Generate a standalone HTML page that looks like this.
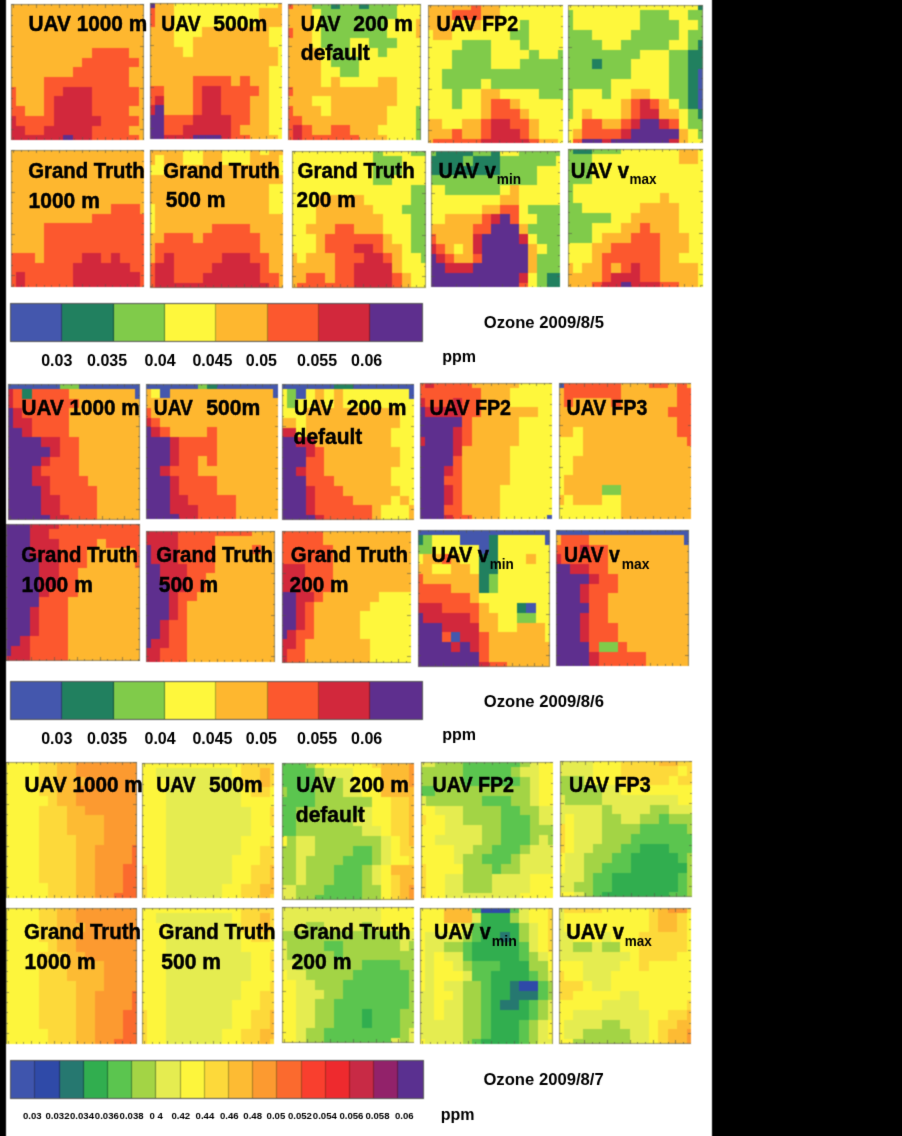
<!DOCTYPE html>
<html><head><meta charset="utf-8"><style>
html,body{margin:0;padding:0;}
body{width:902px;height:1136px;position:relative;overflow:hidden;background:#fff;font-family:"Liberation Sans",sans-serif;}
.p{position:absolute;display:block;}
.cb{position:absolute;display:flex;box-sizing:border-box;border:0.8px solid #555;}
.cb>div{height:100%;box-sizing:border-box;border-right:0.6px solid rgba(0,0,0,0.35);}
.cb>div:last-child{border-right:none;}
#lb{position:absolute;left:0;top:0;width:5.8px;height:1136px;background:#000;}
#rb{position:absolute;left:712px;top:0;width:190px;height:1136px;background:#000;}
#tx{position:absolute;left:0;top:0;}
#twrap{position:absolute;left:0;top:0;width:902px;height:1136px;filter:url(#tf);}
#wrap{position:absolute;left:0;top:0;width:902px;height:1136px;background:#fff;filter:url(#bf);}
#tx text{font-family:"Liberation Sans",sans-serif;fill:#000;}
#tx text.big{stroke:#000;stroke-width:0.5px;}
</style></head><body>
<svg width="0" height="0" style="position:absolute"><filter id="bf" x="0" y="0" width="100%" height="100%" color-interpolation-filters="sRGB"><feConvolveMatrix order="3" kernelMatrix="1 2 1 2 8 2 1 2 1" divisor="20" edgeMode="duplicate" preserveAlpha="true"/></filter><filter id="tf" x="0" y="0" width="100%" height="100%"><feConvolveMatrix order="3" kernelMatrix="0 1 0 1 8 1 0 1 0" divisor="12" edgeMode="none"/></filter></svg>
<div id="wrap">
<div id="lb"></div><div id="rb"></div>
<svg class="p" style="left:11.10px;top:3.70px" width="132.70" height="136.30" viewBox="0 0 14 14" preserveAspectRatio="none" shape-rendering="crispEdges"><rect x="-0.5" y="-0.5" width="15" height="1" fill="#feb72f"/><rect x="-0.5" y="0.5" width="15" height="1" fill="#feb72f"/><rect x="-0.5" y="1.5" width="15" height="1" fill="#feb72f"/><rect x="-0.5" y="2.5" width="15" height="1" fill="#feb72f"/><rect x="-0.5" y="3.5" width="15" height="1" fill="#feb72f"/><rect x="-0.5" y="4.5" width="9" height="1" fill="#feb72f"/><rect x="8.5" y="4.5" width="4" height="1" fill="#fc582e"/><rect x="12.5" y="4.5" width="2" height="1" fill="#feb72f"/><rect x="-0.5" y="5.5" width="8" height="1" fill="#feb72f"/><rect x="7.5" y="5.5" width="6" height="1" fill="#fc582e"/><rect x="13.5" y="5.5" width="1" height="1" fill="#feb72f"/><rect x="-0.5" y="6.5" width="7" height="1" fill="#feb72f"/><rect x="6.5" y="6.5" width="6" height="1" fill="#fc582e"/><rect x="12.5" y="6.5" width="2" height="1" fill="#feb72f"/><rect x="-0.5" y="7.5" width="4" height="1" fill="#feb72f"/><rect x="3.5" y="7.5" width="9" height="1" fill="#fc582e"/><rect x="12.5" y="7.5" width="2" height="1" fill="#feb72f"/><rect x="-0.5" y="8.5" width="1" height="1" fill="#fc582e"/><rect x="0.5" y="8.5" width="3" height="1" fill="#feb72f"/><rect x="3.5" y="8.5" width="2" height="1" fill="#fc582e"/><rect x="5.5" y="8.5" width="3" height="1" fill="#d2283c"/><rect x="8.5" y="8.5" width="5" height="1" fill="#fc582e"/><rect x="13.5" y="8.5" width="1" height="1" fill="#feb72f"/><rect x="-0.5" y="9.5" width="1" height="1" fill="#fc582e"/><rect x="0.5" y="9.5" width="3" height="1" fill="#feb72f"/><rect x="3.5" y="9.5" width="1" height="1" fill="#fc582e"/><rect x="4.5" y="9.5" width="4" height="1" fill="#d2283c"/><rect x="8.5" y="9.5" width="5" height="1" fill="#fc582e"/><rect x="13.5" y="9.5" width="1" height="1" fill="#feb72f"/><rect x="-0.5" y="10.5" width="2" height="1" fill="#fc582e"/><rect x="1.5" y="10.5" width="2" height="1" fill="#feb72f"/><rect x="3.5" y="10.5" width="1" height="1" fill="#fc582e"/><rect x="4.5" y="10.5" width="4" height="1" fill="#d2283c"/><rect x="8.5" y="10.5" width="4" height="1" fill="#fc582e"/><rect x="12.5" y="10.5" width="2" height="1" fill="#feb72f"/><rect x="-0.5" y="11.5" width="1" height="1" fill="#d2283c"/><rect x="0.5" y="11.5" width="4" height="1" fill="#fc582e"/><rect x="4.5" y="11.5" width="5" height="1" fill="#d2283c"/><rect x="9.5" y="11.5" width="4" height="1" fill="#fc582e"/><rect x="13.5" y="11.5" width="1" height="1" fill="#feb72f"/><rect x="-0.5" y="12.5" width="2" height="1" fill="#d2283c"/><rect x="1.5" y="12.5" width="2" height="1" fill="#fc582e"/><rect x="3.5" y="12.5" width="5" height="1" fill="#d2283c"/><rect x="8.5" y="12.5" width="4" height="1" fill="#fc582e"/><rect x="12.5" y="12.5" width="2" height="1" fill="#feb72f"/><rect x="-0.5" y="13.5" width="6" height="1" fill="#d2283c"/><rect x="5.5" y="13.5" width="1" height="1" fill="#5e2f8e"/><rect x="6.5" y="13.5" width="2" height="1" fill="#d2283c"/><rect x="8.5" y="13.5" width="5" height="1" fill="#fc582e"/><rect x="13.5" y="13.5" width="1" height="1" fill="#feb72f"/><rect x="0" y="0" width="14" height="14" fill="none" stroke="#707060" stroke-width="0.7" vector-effect="non-scaling-stroke"/><path d="M0.280 0V0.360M0.280 14V13.640M1.083 0V0.205M1.083 14V13.795M1.887 0V0.205M1.887 14V13.795M2.690 0V0.360M2.690 14V13.640M3.494 0V0.205M3.494 14V13.795M4.298 0V0.205M4.298 14V13.795M5.101 0V0.360M5.101 14V13.640M5.905 0V0.205M5.905 14V13.795M6.708 0V0.205M6.708 14V13.795M7.512 0V0.360M7.512 14V13.640M8.316 0V0.205M8.316 14V13.795M9.119 0V0.205M9.119 14V13.795M9.923 0V0.360M9.923 14V13.640M10.726 0V0.205M10.726 14V13.795M11.530 0V0.205M11.530 14V13.795M12.334 0V0.360M12.334 14V13.640M13.137 0V0.205M13.137 14V13.795M13.941 0V0.205M13.941 14V13.795M0 0.092H0.369M14 0.092H13.631M0 1.161H0.211M14 1.161H13.789M0 2.229H0.211M14 2.229H13.789M0 3.297H0.211M14 3.297H13.789M0 4.365H0.369M14 4.365H13.631M0 5.434H0.211M14 5.434H13.789M0 6.502H0.211M14 6.502H13.789M0 7.570H0.211M14 7.570H13.789M0 8.638H0.369M14 8.638H13.631M0 9.707H0.211M14 9.707H13.789M0 10.775H0.211M14 10.775H13.789M0 11.843H0.211M14 11.843H13.789M0 12.911H0.369M14 12.911H13.631" stroke="#555548" stroke-width="0.6" fill="none" vector-effect="non-scaling-stroke"/></svg><svg class="p" style="left:149.60px;top:2.50px" width="132.90" height="136.40" viewBox="0 0 14 14" preserveAspectRatio="none" shape-rendering="crispEdges"><rect x="-0.5" y="-0.5" width="1" height="1" fill="#5e2f8e"/><rect x="0.5" y="-0.5" width="2" height="1" fill="#feb72f"/><rect x="2.5" y="-0.5" width="11" height="1" fill="#fef73c"/><rect x="13.5" y="-0.5" width="1" height="1" fill="#feb72f"/><rect x="-0.5" y="0.5" width="1" height="1" fill="#fc582e"/><rect x="0.5" y="0.5" width="2" height="1" fill="#feb72f"/><rect x="2.5" y="0.5" width="9" height="1" fill="#fef73c"/><rect x="11.5" y="0.5" width="3" height="1" fill="#feb72f"/><rect x="-0.5" y="1.5" width="1" height="1" fill="#fc582e"/><rect x="0.5" y="1.5" width="2" height="1" fill="#feb72f"/><rect x="2.5" y="1.5" width="9" height="1" fill="#fef73c"/><rect x="11.5" y="1.5" width="3" height="1" fill="#feb72f"/><rect x="-0.5" y="2.5" width="3" height="1" fill="#feb72f"/><rect x="2.5" y="2.5" width="3" height="1" fill="#fef73c"/><rect x="5.5" y="2.5" width="7" height="1" fill="#feb72f"/><rect x="12.5" y="2.5" width="2" height="1" fill="#fef73c"/><rect x="-0.5" y="3.5" width="3" height="1" fill="#feb72f"/><rect x="2.5" y="3.5" width="2" height="1" fill="#fef73c"/><rect x="4.5" y="3.5" width="8" height="1" fill="#feb72f"/><rect x="12.5" y="3.5" width="2" height="1" fill="#fef73c"/><rect x="-0.5" y="4.5" width="4" height="1" fill="#feb72f"/><rect x="3.5" y="4.5" width="1" height="1" fill="#fef73c"/><rect x="4.5" y="4.5" width="9" height="1" fill="#feb72f"/><rect x="13.5" y="4.5" width="1" height="1" fill="#fef73c"/><rect x="-0.5" y="5.5" width="14" height="1" fill="#feb72f"/><rect x="13.5" y="5.5" width="1" height="1" fill="#fef73c"/><rect x="-0.5" y="6.5" width="13" height="1" fill="#feb72f"/><rect x="12.5" y="6.5" width="2" height="1" fill="#fef73c"/><rect x="-0.5" y="7.5" width="5" height="1" fill="#feb72f"/><rect x="4.5" y="7.5" width="4" height="1" fill="#fc582e"/><rect x="8.5" y="7.5" width="1" height="1" fill="#feb72f"/><rect x="9.5" y="7.5" width="1" height="1" fill="#fc582e"/><rect x="10.5" y="7.5" width="2" height="1" fill="#feb72f"/><rect x="12.5" y="7.5" width="2" height="1" fill="#fef73c"/><rect x="-0.5" y="8.5" width="2" height="1" fill="#fc582e"/><rect x="1.5" y="8.5" width="3" height="1" fill="#feb72f"/><rect x="4.5" y="8.5" width="1" height="1" fill="#fc582e"/><rect x="5.5" y="8.5" width="2" height="1" fill="#d2283c"/><rect x="7.5" y="8.5" width="4" height="1" fill="#fc582e"/><rect x="11.5" y="8.5" width="1" height="1" fill="#feb72f"/><rect x="12.5" y="8.5" width="2" height="1" fill="#fef73c"/><rect x="-0.5" y="9.5" width="1" height="1" fill="#fc582e"/><rect x="0.5" y="9.5" width="1" height="1" fill="#d2283c"/><rect x="1.5" y="9.5" width="3" height="1" fill="#feb72f"/><rect x="4.5" y="9.5" width="1" height="1" fill="#fc582e"/><rect x="5.5" y="9.5" width="2" height="1" fill="#d2283c"/><rect x="7.5" y="9.5" width="3" height="1" fill="#fc582e"/><rect x="10.5" y="9.5" width="2" height="1" fill="#feb72f"/><rect x="12.5" y="9.5" width="2" height="1" fill="#fef73c"/><rect x="-0.5" y="10.5" width="1" height="1" fill="#d2283c"/><rect x="0.5" y="10.5" width="1" height="1" fill="#5e2f8e"/><rect x="1.5" y="10.5" width="3" height="1" fill="#feb72f"/><rect x="4.5" y="10.5" width="1" height="1" fill="#fc582e"/><rect x="5.5" y="10.5" width="2" height="1" fill="#d2283c"/><rect x="7.5" y="10.5" width="3" height="1" fill="#fc582e"/><rect x="10.5" y="10.5" width="2" height="1" fill="#feb72f"/><rect x="12.5" y="10.5" width="2" height="1" fill="#fef73c"/><rect x="-0.5" y="11.5" width="2" height="1" fill="#5e2f8e"/><rect x="1.5" y="11.5" width="3" height="1" fill="#fc582e"/><rect x="4.5" y="11.5" width="4" height="1" fill="#d2283c"/><rect x="8.5" y="11.5" width="2" height="1" fill="#fc582e"/><rect x="10.5" y="11.5" width="2" height="1" fill="#feb72f"/><rect x="12.5" y="11.5" width="2" height="1" fill="#fef73c"/><rect x="-0.5" y="12.5" width="2" height="1" fill="#5e2f8e"/><rect x="1.5" y="12.5" width="2" height="1" fill="#fc582e"/><rect x="3.5" y="12.5" width="5" height="1" fill="#d2283c"/><rect x="8.5" y="12.5" width="1" height="1" fill="#fc582e"/><rect x="9.5" y="12.5" width="3" height="1" fill="#feb72f"/><rect x="12.5" y="12.5" width="2" height="1" fill="#fef73c"/><rect x="-0.5" y="13.5" width="2" height="1" fill="#5e2f8e"/><rect x="1.5" y="13.5" width="3" height="1" fill="#d2283c"/><rect x="4.5" y="13.5" width="3" height="1" fill="#5e2f8e"/><rect x="7.5" y="13.5" width="1" height="1" fill="#d2283c"/><rect x="8.5" y="13.5" width="2" height="1" fill="#fc582e"/><rect x="10.5" y="13.5" width="3" height="1" fill="#feb72f"/><rect x="13.5" y="13.5" width="1" height="1" fill="#fef73c"/><rect x="0" y="0" width="14" height="14" fill="none" stroke="#707060" stroke-width="0.7" vector-effect="non-scaling-stroke"/><path d="M0.279 0V0.359M0.279 14V13.641M1.082 0V0.205M1.082 14V13.795M1.884 0V0.205M1.884 14V13.795M2.686 0V0.359M2.686 14V13.641M3.489 0V0.205M3.489 14V13.795M4.291 0V0.205M4.291 14V13.795M5.094 0V0.359M5.094 14V13.641M5.896 0V0.205M5.896 14V13.795M6.698 0V0.205M6.698 14V13.795M7.501 0V0.359M7.501 14V13.641M8.303 0V0.205M8.303 14V13.795M9.105 0V0.205M9.105 14V13.795M9.908 0V0.359M9.908 14V13.641M10.710 0V0.205M10.710 14V13.795M11.513 0V0.205M11.513 14V13.795M12.315 0V0.359M12.315 14V13.641M13.117 0V0.205M13.117 14V13.795M13.920 0V0.205M13.920 14V13.795M0 0.092H0.369M14 0.092H13.631M0 1.160H0.211M14 1.160H13.789M0 2.227H0.211M14 2.227H13.789M0 3.295H0.211M14 3.295H13.789M0 4.362H0.369M14 4.362H13.631M0 5.430H0.211M14 5.430H13.789M0 6.497H0.211M14 6.497H13.789M0 7.565H0.211M14 7.565H13.789M0 8.632H0.369M14 8.632H13.631M0 9.699H0.211M14 9.699H13.789M0 10.767H0.211M14 10.767H13.789M0 11.834H0.211M14 11.834H13.789M0 12.902H0.369M14 12.902H13.631" stroke="#555548" stroke-width="0.6" fill="none" vector-effect="non-scaling-stroke"/></svg><svg class="p" style="left:288.30px;top:3.70px" width="132.60" height="136.00" viewBox="0 0 14 14" preserveAspectRatio="none" shape-rendering="crispEdges"><rect x="-0.5" y="-0.5" width="1" height="1" fill="#fc582e"/><rect x="0.5" y="-0.5" width="2" height="1" fill="#feb72f"/><rect x="2.5" y="-0.5" width="2" height="1" fill="#80cb4a"/><rect x="4.5" y="-0.5" width="1" height="1" fill="#21805f"/><rect x="5.5" y="-0.5" width="2" height="1" fill="#80cb4a"/><rect x="7.5" y="-0.5" width="1" height="1" fill="#21805f"/><rect x="8.5" y="-0.5" width="3" height="1" fill="#80cb4a"/><rect x="11.5" y="-0.5" width="3" height="1" fill="#fef73c"/><rect x="-0.5" y="0.5" width="3" height="1" fill="#feb72f"/><rect x="2.5" y="0.5" width="1" height="1" fill="#fef73c"/><rect x="3.5" y="0.5" width="8" height="1" fill="#80cb4a"/><rect x="11.5" y="0.5" width="3" height="1" fill="#fef73c"/><rect x="-0.5" y="1.5" width="3" height="1" fill="#feb72f"/><rect x="2.5" y="1.5" width="1" height="1" fill="#fef73c"/><rect x="3.5" y="1.5" width="7" height="1" fill="#80cb4a"/><rect x="10.5" y="1.5" width="3" height="1" fill="#fef73c"/><rect x="13.5" y="1.5" width="1" height="1" fill="#feb72f"/><rect x="-0.5" y="2.5" width="1" height="1" fill="#fc582e"/><rect x="0.5" y="2.5" width="2" height="1" fill="#feb72f"/><rect x="2.5" y="2.5" width="1" height="1" fill="#fef73c"/><rect x="3.5" y="2.5" width="7" height="1" fill="#80cb4a"/><rect x="10.5" y="2.5" width="3" height="1" fill="#fef73c"/><rect x="13.5" y="2.5" width="1" height="1" fill="#feb72f"/><rect x="-0.5" y="3.5" width="3" height="1" fill="#feb72f"/><rect x="2.5" y="3.5" width="1" height="1" fill="#fef73c"/><rect x="3.5" y="3.5" width="3" height="1" fill="#80cb4a"/><rect x="6.5" y="3.5" width="2" height="1" fill="#fef73c"/><rect x="8.5" y="3.5" width="3" height="1" fill="#80cb4a"/><rect x="11.5" y="3.5" width="3" height="1" fill="#fef73c"/><rect x="-0.5" y="4.5" width="4" height="1" fill="#feb72f"/><rect x="3.5" y="4.5" width="1" height="1" fill="#fef73c"/><rect x="4.5" y="4.5" width="2" height="1" fill="#80cb4a"/><rect x="6.5" y="4.5" width="3" height="1" fill="#fef73c"/><rect x="9.5" y="4.5" width="1" height="1" fill="#80cb4a"/><rect x="10.5" y="4.5" width="4" height="1" fill="#fef73c"/><rect x="-0.5" y="5.5" width="4" height="1" fill="#feb72f"/><rect x="3.5" y="5.5" width="1" height="1" fill="#fef73c"/><rect x="4.5" y="5.5" width="3" height="1" fill="#80cb4a"/><rect x="7.5" y="5.5" width="7" height="1" fill="#fef73c"/><rect x="-0.5" y="6.5" width="4" height="1" fill="#feb72f"/><rect x="3.5" y="6.5" width="2" height="1" fill="#fef73c"/><rect x="5.5" y="6.5" width="2" height="1" fill="#80cb4a"/><rect x="7.5" y="6.5" width="7" height="1" fill="#fef73c"/><rect x="-0.5" y="7.5" width="4" height="1" fill="#feb72f"/><rect x="3.5" y="7.5" width="1" height="1" fill="#fef73c"/><rect x="4.5" y="7.5" width="1" height="1" fill="#feb72f"/><rect x="5.5" y="7.5" width="4" height="1" fill="#fef73c"/><rect x="9.5" y="7.5" width="2" height="1" fill="#feb72f"/><rect x="11.5" y="7.5" width="3" height="1" fill="#fef73c"/><rect x="-0.5" y="8.5" width="1" height="1" fill="#fc582e"/><rect x="0.5" y="8.5" width="11" height="1" fill="#feb72f"/><rect x="11.5" y="8.5" width="3" height="1" fill="#fef73c"/><rect x="-0.5" y="9.5" width="3" height="1" fill="#feb72f"/><rect x="2.5" y="9.5" width="2" height="1" fill="#fef73c"/><rect x="4.5" y="9.5" width="7" height="1" fill="#feb72f"/><rect x="11.5" y="9.5" width="3" height="1" fill="#fef73c"/><rect x="-0.5" y="10.5" width="1" height="1" fill="#fc582e"/><rect x="0.5" y="10.5" width="3" height="1" fill="#feb72f"/><rect x="3.5" y="10.5" width="1" height="1" fill="#fef73c"/><rect x="4.5" y="10.5" width="6" height="1" fill="#feb72f"/><rect x="10.5" y="10.5" width="3" height="1" fill="#fef73c"/><rect x="13.5" y="10.5" width="1" height="1" fill="#80cb4a"/><rect x="-0.5" y="11.5" width="2" height="1" fill="#fc582e"/><rect x="1.5" y="11.5" width="9" height="1" fill="#feb72f"/><rect x="10.5" y="11.5" width="3" height="1" fill="#fef73c"/><rect x="13.5" y="11.5" width="1" height="1" fill="#80cb4a"/><rect x="-0.5" y="12.5" width="1" height="1" fill="#fc582e"/><rect x="0.5" y="12.5" width="1" height="1" fill="#d2283c"/><rect x="1.5" y="12.5" width="1" height="1" fill="#fc582e"/><rect x="2.5" y="12.5" width="2" height="1" fill="#feb72f"/><rect x="4.5" y="12.5" width="2" height="1" fill="#fc582e"/><rect x="6.5" y="12.5" width="3" height="1" fill="#feb72f"/><rect x="9.5" y="12.5" width="4" height="1" fill="#fef73c"/><rect x="13.5" y="12.5" width="1" height="1" fill="#80cb4a"/><rect x="-0.5" y="13.5" width="1" height="1" fill="#fc582e"/><rect x="0.5" y="13.5" width="1" height="1" fill="#d2283c"/><rect x="1.5" y="13.5" width="6" height="1" fill="#fc582e"/><rect x="7.5" y="13.5" width="3" height="1" fill="#feb72f"/><rect x="10.5" y="13.5" width="3" height="1" fill="#fef73c"/><rect x="13.5" y="13.5" width="1" height="1" fill="#80cb4a"/><rect x="0" y="0" width="14" height="14" fill="none" stroke="#707060" stroke-width="0.7" vector-effect="non-scaling-stroke"/><path d="M0.280 0V0.360M0.280 14V13.640M1.084 0V0.206M1.084 14V13.794M1.888 0V0.206M1.888 14V13.794M2.692 0V0.360M2.692 14V13.640M3.497 0V0.206M3.497 14V13.794M4.301 0V0.206M4.301 14V13.794M5.105 0V0.360M5.105 14V13.640M5.909 0V0.206M5.909 14V13.794M6.713 0V0.206M6.713 14V13.794M7.518 0V0.360M7.518 14V13.640M8.322 0V0.206M8.322 14V13.794M9.126 0V0.206M9.126 14V13.794M9.930 0V0.360M9.930 14V13.640M10.734 0V0.206M10.734 14V13.794M11.539 0V0.206M11.539 14V13.794M12.343 0V0.360M12.343 14V13.640M13.147 0V0.206M13.147 14V13.794M0 0.093H0.370M14 0.093H13.630M0 1.163H0.211M14 1.163H13.789M0 2.234H0.211M14 2.234H13.789M0 3.304H0.211M14 3.304H13.789M0 4.375H0.370M14 4.375H13.630M0 5.446H0.211M14 5.446H13.789M0 6.516H0.211M14 6.516H13.789M0 7.587H0.211M14 7.587H13.789M0 8.657H0.370M14 8.657H13.630M0 9.728H0.211M14 9.728H13.789M0 10.799H0.211M14 10.799H13.789M0 11.869H0.211M14 11.869H13.789M0 12.940H0.370M14 12.940H13.630" stroke="#555548" stroke-width="0.6" fill="none" vector-effect="non-scaling-stroke"/></svg><svg class="p" style="left:428.00px;top:4.70px" width="135.00" height="138.70" viewBox="0 0 14 14" preserveAspectRatio="none" shape-rendering="crispEdges"><rect x="-0.5" y="-0.5" width="5" height="1" fill="#feb72f"/><rect x="4.5" y="-0.5" width="1" height="1" fill="#fc582e"/><rect x="5.5" y="-0.5" width="2" height="1" fill="#feb72f"/><rect x="7.5" y="-0.5" width="7" height="1" fill="#fef73c"/><rect x="-0.5" y="0.5" width="3" height="1" fill="#feb72f"/><rect x="2.5" y="0.5" width="3" height="1" fill="#fc582e"/><rect x="5.5" y="0.5" width="2" height="1" fill="#feb72f"/><rect x="7.5" y="0.5" width="7" height="1" fill="#fef73c"/><rect x="-0.5" y="1.5" width="3" height="1" fill="#feb72f"/><rect x="2.5" y="1.5" width="2" height="1" fill="#fef73c"/><rect x="4.5" y="1.5" width="1" height="1" fill="#feb72f"/><rect x="5.5" y="1.5" width="4" height="1" fill="#fef73c"/><rect x="9.5" y="1.5" width="1" height="1" fill="#80cb4a"/><rect x="10.5" y="1.5" width="4" height="1" fill="#fef73c"/><rect x="-0.5" y="2.5" width="1" height="1" fill="#fef73c"/><rect x="0.5" y="2.5" width="2" height="1" fill="#feb72f"/><rect x="2.5" y="2.5" width="6" height="1" fill="#fef73c"/><rect x="8.5" y="2.5" width="2" height="1" fill="#80cb4a"/><rect x="10.5" y="2.5" width="4" height="1" fill="#fef73c"/><rect x="-0.5" y="3.5" width="4" height="1" fill="#fef73c"/><rect x="3.5" y="3.5" width="3" height="1" fill="#80cb4a"/><rect x="6.5" y="3.5" width="3" height="1" fill="#fef73c"/><rect x="9.5" y="3.5" width="1" height="1" fill="#80cb4a"/><rect x="10.5" y="3.5" width="4" height="1" fill="#fef73c"/><rect x="-0.5" y="4.5" width="3" height="1" fill="#fef73c"/><rect x="2.5" y="4.5" width="4" height="1" fill="#80cb4a"/><rect x="6.5" y="4.5" width="4" height="1" fill="#fef73c"/><rect x="10.5" y="4.5" width="1" height="1" fill="#80cb4a"/><rect x="11.5" y="4.5" width="2" height="1" fill="#fef73c"/><rect x="13.5" y="4.5" width="1" height="1" fill="#80cb4a"/><rect x="-0.5" y="5.5" width="3" height="1" fill="#fef73c"/><rect x="2.5" y="5.5" width="4" height="1" fill="#80cb4a"/><rect x="6.5" y="5.5" width="3" height="1" fill="#fef73c"/><rect x="9.5" y="5.5" width="5" height="1" fill="#80cb4a"/><rect x="-0.5" y="6.5" width="2" height="1" fill="#fef73c"/><rect x="1.5" y="6.5" width="13" height="1" fill="#80cb4a"/><rect x="-0.5" y="7.5" width="2" height="1" fill="#fef73c"/><rect x="1.5" y="7.5" width="4" height="1" fill="#80cb4a"/><rect x="5.5" y="7.5" width="1" height="1" fill="#fef73c"/><rect x="6.5" y="7.5" width="8" height="1" fill="#80cb4a"/><rect x="-0.5" y="8.5" width="3" height="1" fill="#fef73c"/><rect x="2.5" y="8.5" width="1" height="1" fill="#80cb4a"/><rect x="3.5" y="8.5" width="2" height="1" fill="#fef73c"/><rect x="5.5" y="8.5" width="2" height="1" fill="#feb72f"/><rect x="7.5" y="8.5" width="4" height="1" fill="#fef73c"/><rect x="11.5" y="8.5" width="3" height="1" fill="#80cb4a"/><rect x="-0.5" y="9.5" width="3" height="1" fill="#fef73c"/><rect x="2.5" y="9.5" width="1" height="1" fill="#80cb4a"/><rect x="3.5" y="9.5" width="2" height="1" fill="#fef73c"/><rect x="5.5" y="9.5" width="1" height="1" fill="#feb72f"/><rect x="6.5" y="9.5" width="2" height="1" fill="#fc582e"/><rect x="8.5" y="9.5" width="1" height="1" fill="#feb72f"/><rect x="9.5" y="9.5" width="5" height="1" fill="#fef73c"/><rect x="-0.5" y="10.5" width="6" height="1" fill="#fef73c"/><rect x="5.5" y="10.5" width="1" height="1" fill="#feb72f"/><rect x="6.5" y="10.5" width="3" height="1" fill="#fc582e"/><rect x="9.5" y="10.5" width="1" height="1" fill="#feb72f"/><rect x="10.5" y="10.5" width="4" height="1" fill="#fef73c"/><rect x="-0.5" y="11.5" width="2" height="1" fill="#feb72f"/><rect x="1.5" y="11.5" width="2" height="1" fill="#fef73c"/><rect x="3.5" y="11.5" width="2" height="1" fill="#feb72f"/><rect x="5.5" y="11.5" width="1" height="1" fill="#fc582e"/><rect x="6.5" y="11.5" width="2" height="1" fill="#d2283c"/><rect x="8.5" y="11.5" width="2" height="1" fill="#fc582e"/><rect x="10.5" y="11.5" width="1" height="1" fill="#feb72f"/><rect x="11.5" y="11.5" width="3" height="1" fill="#fef73c"/><rect x="-0.5" y="12.5" width="3" height="1" fill="#feb72f"/><rect x="2.5" y="12.5" width="1" height="1" fill="#fc582e"/><rect x="3.5" y="12.5" width="2" height="1" fill="#feb72f"/><rect x="5.5" y="12.5" width="1" height="1" fill="#fc582e"/><rect x="6.5" y="12.5" width="3" height="1" fill="#d2283c"/><rect x="9.5" y="12.5" width="1" height="1" fill="#fc582e"/><rect x="10.5" y="12.5" width="1" height="1" fill="#feb72f"/><rect x="11.5" y="12.5" width="3" height="1" fill="#fef73c"/><rect x="-0.5" y="13.5" width="1" height="1" fill="#feb72f"/><rect x="0.5" y="13.5" width="5" height="1" fill="#fc582e"/><rect x="5.5" y="13.5" width="5" height="1" fill="#d2283c"/><rect x="10.5" y="13.5" width="1" height="1" fill="#fc582e"/><rect x="11.5" y="13.5" width="2" height="1" fill="#feb72f"/><rect x="13.5" y="13.5" width="1" height="1" fill="#fef73c"/><rect x="0" y="0" width="14" height="14" fill="none" stroke="#707060" stroke-width="0.7" vector-effect="non-scaling-stroke"/><path d="M0.275 0V0.353M0.275 14V13.647M1.065 0V0.202M1.065 14V13.798M1.855 0V0.202M1.855 14V13.798M2.645 0V0.353M2.645 14V13.647M3.434 0V0.202M3.434 14V13.798M4.224 0V0.202M4.224 14V13.798M5.014 0V0.353M5.014 14V13.647M5.804 0V0.202M5.804 14V13.798M6.594 0V0.202M6.594 14V13.798M7.384 0V0.353M7.384 14V13.647M8.174 0V0.202M8.174 14V13.798M8.964 0V0.202M8.964 14V13.798M9.754 0V0.353M9.754 14V13.647M10.544 0V0.202M10.544 14V13.798M11.334 0V0.202M11.334 14V13.798M12.123 0V0.353M12.123 14V13.647M12.913 0V0.202M12.913 14V13.798M13.703 0V0.202M13.703 14V13.798M0 0.091H0.363M14 0.091H13.637M0 1.141H0.207M14 1.141H13.793M0 2.190H0.207M14 2.190H13.793M0 3.240H0.207M14 3.240H13.793M0 4.290H0.363M14 4.290H13.637M0 5.340H0.207M14 5.340H13.793M0 6.389H0.207M14 6.389H13.793M0 7.439H0.207M14 7.439H13.793M0 8.489H0.363M14 8.489H13.637M0 9.539H0.207M14 9.539H13.793M0 10.588H0.207M14 10.588H13.793M0 11.638H0.207M14 11.638H13.793M0 12.688H0.363M14 12.688H13.637M0 13.738H0.207M14 13.738H13.793" stroke="#555548" stroke-width="0.6" fill="none" vector-effect="non-scaling-stroke"/></svg><svg class="p" style="left:568.00px;top:4.70px" width="134.70" height="138.70" viewBox="0 0 14 14" preserveAspectRatio="none" shape-rendering="crispEdges"><rect x="-0.5" y="-0.5" width="14" height="1" fill="#fef73c"/><rect x="13.5" y="-0.5" width="1" height="1" fill="#21805f"/><rect x="-0.5" y="0.5" width="1" height="1" fill="#80cb4a"/><rect x="0.5" y="0.5" width="7" height="1" fill="#fef73c"/><rect x="7.5" y="0.5" width="3" height="1" fill="#80cb4a"/><rect x="10.5" y="0.5" width="2" height="1" fill="#fef73c"/><rect x="12.5" y="0.5" width="2" height="1" fill="#80cb4a"/><rect x="-0.5" y="1.5" width="1" height="1" fill="#80cb4a"/><rect x="0.5" y="1.5" width="7" height="1" fill="#fef73c"/><rect x="7.5" y="1.5" width="4" height="1" fill="#80cb4a"/><rect x="11.5" y="1.5" width="2" height="1" fill="#fef73c"/><rect x="13.5" y="1.5" width="1" height="1" fill="#80cb4a"/><rect x="-0.5" y="2.5" width="3" height="1" fill="#80cb4a"/><rect x="2.5" y="2.5" width="4" height="1" fill="#fef73c"/><rect x="6.5" y="2.5" width="5" height="1" fill="#80cb4a"/><rect x="11.5" y="2.5" width="1" height="1" fill="#fef73c"/><rect x="12.5" y="2.5" width="2" height="1" fill="#80cb4a"/><rect x="-0.5" y="3.5" width="4" height="1" fill="#80cb4a"/><rect x="3.5" y="3.5" width="2" height="1" fill="#fef73c"/><rect x="5.5" y="3.5" width="5" height="1" fill="#80cb4a"/><rect x="10.5" y="3.5" width="2" height="1" fill="#fef73c"/><rect x="12.5" y="3.5" width="1" height="1" fill="#80cb4a"/><rect x="13.5" y="3.5" width="1" height="1" fill="#21805f"/><rect x="-0.5" y="4.5" width="8" height="1" fill="#80cb4a"/><rect x="7.5" y="4.5" width="3" height="1" fill="#fef73c"/><rect x="10.5" y="4.5" width="2" height="1" fill="#80cb4a"/><rect x="12.5" y="4.5" width="2" height="1" fill="#21805f"/><rect x="-0.5" y="5.5" width="3" height="1" fill="#80cb4a"/><rect x="2.5" y="5.5" width="1" height="1" fill="#21805f"/><rect x="3.5" y="5.5" width="3" height="1" fill="#80cb4a"/><rect x="6.5" y="5.5" width="4" height="1" fill="#fef73c"/><rect x="10.5" y="5.5" width="2" height="1" fill="#80cb4a"/><rect x="12.5" y="5.5" width="2" height="1" fill="#21805f"/><rect x="-0.5" y="6.5" width="7" height="1" fill="#80cb4a"/><rect x="6.5" y="6.5" width="4" height="1" fill="#fef73c"/><rect x="10.5" y="6.5" width="2" height="1" fill="#80cb4a"/><rect x="12.5" y="6.5" width="1" height="1" fill="#21805f"/><rect x="13.5" y="6.5" width="1" height="1" fill="#4457ad"/><rect x="-0.5" y="7.5" width="5" height="1" fill="#80cb4a"/><rect x="4.5" y="7.5" width="6" height="1" fill="#fef73c"/><rect x="10.5" y="7.5" width="2" height="1" fill="#80cb4a"/><rect x="12.5" y="7.5" width="1" height="1" fill="#21805f"/><rect x="13.5" y="7.5" width="1" height="1" fill="#4457ad"/><rect x="-0.5" y="8.5" width="1" height="1" fill="#80cb4a"/><rect x="0.5" y="8.5" width="3" height="1" fill="#fef73c"/><rect x="3.5" y="8.5" width="1" height="1" fill="#80cb4a"/><rect x="4.5" y="8.5" width="2" height="1" fill="#fef73c"/><rect x="6.5" y="8.5" width="2" height="1" fill="#feb72f"/><rect x="8.5" y="8.5" width="2" height="1" fill="#fef73c"/><rect x="10.5" y="8.5" width="2" height="1" fill="#80cb4a"/><rect x="12.5" y="8.5" width="1" height="1" fill="#21805f"/><rect x="13.5" y="8.5" width="1" height="1" fill="#4457ad"/><rect x="-0.5" y="9.5" width="1" height="1" fill="#80cb4a"/><rect x="0.5" y="9.5" width="5" height="1" fill="#fef73c"/><rect x="5.5" y="9.5" width="1" height="1" fill="#feb72f"/><rect x="6.5" y="9.5" width="1" height="1" fill="#fc582e"/><rect x="7.5" y="9.5" width="1" height="1" fill="#d2283c"/><rect x="8.5" y="9.5" width="1" height="1" fill="#fc582e"/><rect x="9.5" y="9.5" width="1" height="1" fill="#feb72f"/><rect x="10.5" y="9.5" width="1" height="1" fill="#fef73c"/><rect x="11.5" y="9.5" width="1" height="1" fill="#80cb4a"/><rect x="12.5" y="9.5" width="1" height="1" fill="#21805f"/><rect x="13.5" y="9.5" width="1" height="1" fill="#4457ad"/><rect x="-0.5" y="10.5" width="1" height="1" fill="#80cb4a"/><rect x="0.5" y="10.5" width="1" height="1" fill="#fef73c"/><rect x="1.5" y="10.5" width="1" height="1" fill="#feb72f"/><rect x="2.5" y="10.5" width="3" height="1" fill="#fef73c"/><rect x="5.5" y="10.5" width="1" height="1" fill="#feb72f"/><rect x="6.5" y="10.5" width="1" height="1" fill="#fc582e"/><rect x="7.5" y="10.5" width="2" height="1" fill="#d2283c"/><rect x="9.5" y="10.5" width="2" height="1" fill="#feb72f"/><rect x="11.5" y="10.5" width="1" height="1" fill="#fef73c"/><rect x="12.5" y="10.5" width="1" height="1" fill="#80cb4a"/><rect x="13.5" y="10.5" width="1" height="1" fill="#21805f"/><rect x="-0.5" y="11.5" width="2" height="1" fill="#fef73c"/><rect x="1.5" y="11.5" width="2" height="1" fill="#fc582e"/><rect x="3.5" y="11.5" width="2" height="1" fill="#feb72f"/><rect x="5.5" y="11.5" width="1" height="1" fill="#fc582e"/><rect x="6.5" y="11.5" width="1" height="1" fill="#d2283c"/><rect x="7.5" y="11.5" width="2" height="1" fill="#5e2f8e"/><rect x="9.5" y="11.5" width="1" height="1" fill="#d2283c"/><rect x="10.5" y="11.5" width="1" height="1" fill="#fc582e"/><rect x="11.5" y="11.5" width="1" height="1" fill="#fef73c"/><rect x="12.5" y="11.5" width="2" height="1" fill="#80cb4a"/><rect x="-0.5" y="12.5" width="1" height="1" fill="#fef73c"/><rect x="0.5" y="12.5" width="1" height="1" fill="#feb72f"/><rect x="1.5" y="12.5" width="4" height="1" fill="#fc582e"/><rect x="5.5" y="12.5" width="1" height="1" fill="#d2283c"/><rect x="6.5" y="12.5" width="5" height="1" fill="#5e2f8e"/><rect x="11.5" y="12.5" width="1" height="1" fill="#feb72f"/><rect x="12.5" y="12.5" width="1" height="1" fill="#fef73c"/><rect x="13.5" y="12.5" width="1" height="1" fill="#80cb4a"/><rect x="-0.5" y="13.5" width="1" height="1" fill="#fef73c"/><rect x="0.5" y="13.5" width="1" height="1" fill="#fc582e"/><rect x="1.5" y="13.5" width="2" height="1" fill="#5e2f8e"/><rect x="3.5" y="13.5" width="1" height="1" fill="#d2283c"/><rect x="4.5" y="13.5" width="6" height="1" fill="#5e2f8e"/><rect x="10.5" y="13.5" width="1" height="1" fill="#d2283c"/><rect x="11.5" y="13.5" width="1" height="1" fill="#feb72f"/><rect x="12.5" y="13.5" width="2" height="1" fill="#fef73c"/><rect x="0" y="0" width="14" height="14" fill="none" stroke="#707060" stroke-width="0.7" vector-effect="non-scaling-stroke"/><path d="M0.275 0V0.353M0.275 14V13.647M1.067 0V0.202M1.067 14V13.798M1.859 0V0.202M1.859 14V13.798M2.650 0V0.353M2.650 14V13.647M3.442 0V0.202M3.442 14V13.798M4.234 0V0.202M4.234 14V13.798M5.025 0V0.353M5.025 14V13.647M5.817 0V0.202M5.817 14V13.798M6.609 0V0.202M6.609 14V13.798M7.400 0V0.353M7.400 14V13.647M8.192 0V0.202M8.192 14V13.798M8.984 0V0.202M8.984 14V13.798M9.775 0V0.353M9.775 14V13.647M10.567 0V0.202M10.567 14V13.798M11.359 0V0.202M11.359 14V13.798M12.150 0V0.353M12.150 14V13.647M12.942 0V0.202M12.942 14V13.798M13.734 0V0.202M13.734 14V13.798M0 0.091H0.364M14 0.091H13.636M0 1.141H0.208M14 1.141H13.792M0 2.190H0.208M14 2.190H13.792M0 3.240H0.208M14 3.240H13.792M0 4.290H0.364M14 4.290H13.636M0 5.340H0.208M14 5.340H13.792M0 6.389H0.208M14 6.389H13.792M0 7.439H0.208M14 7.439H13.792M0 8.489H0.364M14 8.489H13.636M0 9.539H0.208M14 9.539H13.792M0 10.588H0.208M14 10.588H13.792M0 11.638H0.208M14 11.638H13.792M0 12.688H0.364M14 12.688H13.636M0 13.738H0.208M14 13.738H13.792" stroke="#555548" stroke-width="0.6" fill="none" vector-effect="non-scaling-stroke"/></svg><svg class="p" style="left:11.10px;top:150.30px" width="133.30" height="137.20" viewBox="0 0 14 14" preserveAspectRatio="none" shape-rendering="crispEdges"><rect x="-0.5" y="-0.5" width="15" height="1" fill="#feb72f"/><rect x="-0.5" y="0.5" width="15" height="1" fill="#feb72f"/><rect x="-0.5" y="1.5" width="15" height="1" fill="#feb72f"/><rect x="-0.5" y="2.5" width="15" height="1" fill="#feb72f"/><rect x="-0.5" y="3.5" width="15" height="1" fill="#feb72f"/><rect x="-0.5" y="4.5" width="15" height="1" fill="#feb72f"/><rect x="-0.5" y="5.5" width="11" height="1" fill="#feb72f"/><rect x="10.5" y="5.5" width="3" height="1" fill="#fc582e"/><rect x="13.5" y="5.5" width="1" height="1" fill="#feb72f"/><rect x="-0.5" y="6.5" width="9" height="1" fill="#feb72f"/><rect x="8.5" y="6.5" width="6" height="1" fill="#fc582e"/><rect x="-0.5" y="7.5" width="4" height="1" fill="#feb72f"/><rect x="3.5" y="7.5" width="11" height="1" fill="#fc582e"/><rect x="-0.5" y="8.5" width="4" height="1" fill="#feb72f"/><rect x="3.5" y="8.5" width="11" height="1" fill="#fc582e"/><rect x="-0.5" y="9.5" width="4" height="1" fill="#feb72f"/><rect x="3.5" y="9.5" width="11" height="1" fill="#fc582e"/><rect x="-0.5" y="10.5" width="3" height="1" fill="#fc582e"/><rect x="2.5" y="10.5" width="1" height="1" fill="#feb72f"/><rect x="3.5" y="10.5" width="4" height="1" fill="#fc582e"/><rect x="7.5" y="10.5" width="2" height="1" fill="#d2283c"/><rect x="9.5" y="10.5" width="1" height="1" fill="#fc582e"/><rect x="10.5" y="10.5" width="1" height="1" fill="#d2283c"/><rect x="11.5" y="10.5" width="3" height="1" fill="#fc582e"/><rect x="-0.5" y="11.5" width="7" height="1" fill="#fc582e"/><rect x="6.5" y="11.5" width="6" height="1" fill="#d2283c"/><rect x="12.5" y="11.5" width="2" height="1" fill="#fc582e"/><rect x="-0.5" y="12.5" width="1" height="1" fill="#fc582e"/><rect x="0.5" y="12.5" width="1" height="1" fill="#d2283c"/><rect x="1.5" y="12.5" width="5" height="1" fill="#fc582e"/><rect x="6.5" y="12.5" width="7" height="1" fill="#d2283c"/><rect x="13.5" y="12.5" width="1" height="1" fill="#fc582e"/><rect x="-0.5" y="13.5" width="1" height="1" fill="#fc582e"/><rect x="0.5" y="13.5" width="1" height="1" fill="#d2283c"/><rect x="1.5" y="13.5" width="5" height="1" fill="#fc582e"/><rect x="6.5" y="13.5" width="7" height="1" fill="#d2283c"/><rect x="13.5" y="13.5" width="1" height="1" fill="#fc582e"/><rect x="0" y="0" width="14" height="14" fill="none" stroke="#707060" stroke-width="0.7" vector-effect="non-scaling-stroke"/><path d="M0.278 0V0.357M0.278 14V13.643M1.078 0V0.204M1.078 14V13.796M1.878 0V0.204M1.878 14V13.796M2.678 0V0.357M2.678 14V13.643M3.478 0V0.204M3.478 14V13.796M4.278 0V0.204M4.278 14V13.796M5.078 0V0.357M5.078 14V13.643M5.878 0V0.204M5.878 14V13.796M6.678 0V0.204M6.678 14V13.796M7.478 0V0.357M7.478 14V13.643M8.278 0V0.204M8.278 14V13.796M9.078 0V0.204M9.078 14V13.796M9.878 0V0.357M9.878 14V13.643M10.678 0V0.204M10.678 14V13.796M11.478 0V0.204M11.478 14V13.796M12.278 0V0.357M12.278 14V13.643M13.078 0V0.204M13.078 14V13.796M13.878 0V0.204M13.878 14V13.796M0 0.092H0.368M14 0.092H13.632M0 1.153H0.210M14 1.153H13.790M0 2.214H0.210M14 2.214H13.790M0 3.276H0.210M14 3.276H13.790M0 4.337H0.368M14 4.337H13.632M0 5.398H0.210M14 5.398H13.790M0 6.459H0.210M14 6.459H13.790M0 7.520H0.210M14 7.520H13.790M0 8.582H0.368M14 8.582H13.632M0 9.643H0.210M14 9.643H13.790M0 10.704H0.210M14 10.704H13.790M0 11.765H0.210M14 11.765H13.790M0 12.827H0.368M14 12.827H13.632M0 13.888H0.210M14 13.888H13.790" stroke="#555548" stroke-width="0.6" fill="none" vector-effect="non-scaling-stroke"/></svg><svg class="p" style="left:149.60px;top:150.00px" width="133.80" height="137.50" viewBox="0 0 14 14" preserveAspectRatio="none" shape-rendering="crispEdges"><rect x="-0.5" y="-0.5" width="4" height="1" fill="#feb72f"/><rect x="3.5" y="-0.5" width="2" height="1" fill="#fef73c"/><rect x="5.5" y="-0.5" width="2" height="1" fill="#feb72f"/><rect x="7.5" y="-0.5" width="3" height="1" fill="#fef73c"/><rect x="10.5" y="-0.5" width="1" height="1" fill="#feb72f"/><rect x="11.5" y="-0.5" width="1" height="1" fill="#fef73c"/><rect x="12.5" y="-0.5" width="2" height="1" fill="#feb72f"/><rect x="-0.5" y="0.5" width="1" height="1" fill="#feb72f"/><rect x="0.5" y="0.5" width="1" height="1" fill="#fef73c"/><rect x="1.5" y="0.5" width="2" height="1" fill="#feb72f"/><rect x="3.5" y="0.5" width="2" height="1" fill="#fef73c"/><rect x="5.5" y="0.5" width="2" height="1" fill="#feb72f"/><rect x="7.5" y="0.5" width="3" height="1" fill="#fef73c"/><rect x="10.5" y="0.5" width="3" height="1" fill="#feb72f"/><rect x="13.5" y="0.5" width="1" height="1" fill="#fef73c"/><rect x="-0.5" y="1.5" width="2" height="1" fill="#fef73c"/><rect x="1.5" y="1.5" width="12" height="1" fill="#feb72f"/><rect x="13.5" y="1.5" width="1" height="1" fill="#fef73c"/><rect x="-0.5" y="2.5" width="15" height="1" fill="#feb72f"/><rect x="-0.5" y="3.5" width="13" height="1" fill="#feb72f"/><rect x="12.5" y="3.5" width="2" height="1" fill="#fef73c"/><rect x="-0.5" y="4.5" width="13" height="1" fill="#feb72f"/><rect x="12.5" y="4.5" width="2" height="1" fill="#fef73c"/><rect x="-0.5" y="5.5" width="1" height="1" fill="#fef73c"/><rect x="0.5" y="5.5" width="12" height="1" fill="#feb72f"/><rect x="12.5" y="5.5" width="2" height="1" fill="#fef73c"/><rect x="-0.5" y="6.5" width="1" height="1" fill="#fef73c"/><rect x="0.5" y="6.5" width="14" height="1" fill="#feb72f"/><rect x="-0.5" y="7.5" width="1" height="1" fill="#fef73c"/><rect x="0.5" y="7.5" width="6" height="1" fill="#feb72f"/><rect x="6.5" y="7.5" width="4" height="1" fill="#fc582e"/><rect x="10.5" y="7.5" width="4" height="1" fill="#feb72f"/><rect x="-0.5" y="8.5" width="2" height="1" fill="#feb72f"/><rect x="1.5" y="8.5" width="3" height="1" fill="#fc582e"/><rect x="4.5" y="8.5" width="1" height="1" fill="#feb72f"/><rect x="5.5" y="8.5" width="6" height="1" fill="#fc582e"/><rect x="11.5" y="8.5" width="3" height="1" fill="#feb72f"/><rect x="-0.5" y="9.5" width="1" height="1" fill="#feb72f"/><rect x="0.5" y="9.5" width="11" height="1" fill="#fc582e"/><rect x="11.5" y="9.5" width="3" height="1" fill="#feb72f"/><rect x="-0.5" y="10.5" width="1" height="1" fill="#feb72f"/><rect x="0.5" y="10.5" width="1" height="1" fill="#fc582e"/><rect x="1.5" y="10.5" width="1" height="1" fill="#d2283c"/><rect x="2.5" y="10.5" width="5" height="1" fill="#fc582e"/><rect x="7.5" y="10.5" width="3" height="1" fill="#d2283c"/><rect x="10.5" y="10.5" width="2" height="1" fill="#fc582e"/><rect x="12.5" y="10.5" width="2" height="1" fill="#feb72f"/><rect x="-0.5" y="11.5" width="1" height="1" fill="#fc582e"/><rect x="0.5" y="11.5" width="2" height="1" fill="#d2283c"/><rect x="2.5" y="11.5" width="4" height="1" fill="#fc582e"/><rect x="6.5" y="11.5" width="5" height="1" fill="#d2283c"/><rect x="11.5" y="11.5" width="1" height="1" fill="#fc582e"/><rect x="12.5" y="11.5" width="2" height="1" fill="#feb72f"/><rect x="-0.5" y="12.5" width="1" height="1" fill="#fc582e"/><rect x="0.5" y="12.5" width="2" height="1" fill="#d2283c"/><rect x="2.5" y="12.5" width="3" height="1" fill="#fc582e"/><rect x="5.5" y="12.5" width="6" height="1" fill="#d2283c"/><rect x="11.5" y="12.5" width="2" height="1" fill="#fc582e"/><rect x="13.5" y="12.5" width="1" height="1" fill="#feb72f"/><rect x="-0.5" y="13.5" width="1" height="1" fill="#fc582e"/><rect x="0.5" y="13.5" width="12" height="1" fill="#d2283c"/><rect x="12.5" y="13.5" width="1" height="1" fill="#fc582e"/><rect x="13.5" y="13.5" width="1" height="1" fill="#feb72f"/><rect x="0" y="0" width="14" height="14" fill="none" stroke="#707060" stroke-width="0.7" vector-effect="non-scaling-stroke"/><path d="M0.277 0V0.356M0.277 14V13.644M1.074 0V0.204M1.074 14V13.796M1.871 0V0.204M1.871 14V13.796M2.668 0V0.356M2.668 14V13.644M3.465 0V0.204M3.465 14V13.796M4.262 0V0.204M4.262 14V13.796M5.059 0V0.356M5.059 14V13.644M5.856 0V0.204M5.856 14V13.796M6.653 0V0.204M6.653 14V13.796M7.450 0V0.356M7.450 14V13.644M8.247 0V0.204M8.247 14V13.796M9.044 0V0.204M9.044 14V13.796M9.841 0V0.356M9.841 14V13.644M10.638 0V0.204M10.638 14V13.796M11.435 0V0.204M11.435 14V13.796M12.232 0V0.356M12.232 14V13.644M13.029 0V0.204M13.029 14V13.796M13.826 0V0.204M13.826 14V13.796M0 0.092H0.366M14 0.092H13.634M0 1.151H0.209M14 1.151H13.791M0 2.209H0.209M14 2.209H13.791M0 3.268H0.209M14 3.268H13.791M0 4.327H0.366M14 4.327H13.634M0 5.386H0.209M14 5.386H13.791M0 6.445H0.209M14 6.445H13.791M0 7.504H0.209M14 7.504H13.791M0 8.563H0.366M14 8.563H13.634M0 9.622H0.209M14 9.622H13.791M0 10.681H0.209M14 10.681H13.791M0 11.740H0.209M14 11.740H13.791M0 12.799H0.366M14 12.799H13.634M0 13.857H0.209M14 13.857H13.791" stroke="#555548" stroke-width="0.6" fill="none" vector-effect="non-scaling-stroke"/></svg><svg class="p" style="left:292.10px;top:151.30px" width="133.60" height="136.40" viewBox="0 0 14 14" preserveAspectRatio="none" shape-rendering="crispEdges"><rect x="-0.5" y="-0.5" width="9" height="1" fill="#fef73c"/><rect x="8.5" y="-0.5" width="1" height="1" fill="#80cb4a"/><rect x="9.5" y="-0.5" width="3" height="1" fill="#fef73c"/><rect x="12.5" y="-0.5" width="2" height="1" fill="#80cb4a"/><rect x="-0.5" y="0.5" width="9" height="1" fill="#fef73c"/><rect x="8.5" y="0.5" width="3" height="1" fill="#80cb4a"/><rect x="11.5" y="0.5" width="3" height="1" fill="#fef73c"/><rect x="-0.5" y="1.5" width="9" height="1" fill="#fef73c"/><rect x="8.5" y="1.5" width="3" height="1" fill="#80cb4a"/><rect x="11.5" y="1.5" width="3" height="1" fill="#fef73c"/><rect x="-0.5" y="2.5" width="9" height="1" fill="#fef73c"/><rect x="8.5" y="2.5" width="2" height="1" fill="#80cb4a"/><rect x="10.5" y="2.5" width="4" height="1" fill="#fef73c"/><rect x="-0.5" y="3.5" width="13" height="1" fill="#fef73c"/><rect x="12.5" y="3.5" width="2" height="1" fill="#80cb4a"/><rect x="-0.5" y="4.5" width="3" height="1" fill="#fef73c"/><rect x="2.5" y="4.5" width="5" height="1" fill="#feb72f"/><rect x="7.5" y="4.5" width="5" height="1" fill="#fef73c"/><rect x="12.5" y="4.5" width="2" height="1" fill="#80cb4a"/><rect x="-0.5" y="5.5" width="3" height="1" fill="#fef73c"/><rect x="2.5" y="5.5" width="6" height="1" fill="#feb72f"/><rect x="8.5" y="5.5" width="3" height="1" fill="#fef73c"/><rect x="11.5" y="5.5" width="3" height="1" fill="#80cb4a"/><rect x="-0.5" y="6.5" width="3" height="1" fill="#fef73c"/><rect x="2.5" y="6.5" width="7" height="1" fill="#feb72f"/><rect x="9.5" y="6.5" width="3" height="1" fill="#fef73c"/><rect x="12.5" y="6.5" width="2" height="1" fill="#80cb4a"/><rect x="-0.5" y="7.5" width="2" height="1" fill="#fef73c"/><rect x="1.5" y="7.5" width="3" height="1" fill="#feb72f"/><rect x="4.5" y="7.5" width="2" height="1" fill="#fc582e"/><rect x="6.5" y="7.5" width="3" height="1" fill="#feb72f"/><rect x="9.5" y="7.5" width="3" height="1" fill="#fef73c"/><rect x="12.5" y="7.5" width="2" height="1" fill="#80cb4a"/><rect x="-0.5" y="8.5" width="3" height="1" fill="#fef73c"/><rect x="2.5" y="8.5" width="1" height="1" fill="#feb72f"/><rect x="3.5" y="8.5" width="6" height="1" fill="#fc582e"/><rect x="9.5" y="8.5" width="1" height="1" fill="#feb72f"/><rect x="10.5" y="8.5" width="2" height="1" fill="#fef73c"/><rect x="12.5" y="8.5" width="2" height="1" fill="#80cb4a"/><rect x="-0.5" y="9.5" width="3" height="1" fill="#fef73c"/><rect x="2.5" y="9.5" width="1" height="1" fill="#feb72f"/><rect x="3.5" y="9.5" width="3" height="1" fill="#fc582e"/><rect x="6.5" y="9.5" width="2" height="1" fill="#d2283c"/><rect x="8.5" y="9.5" width="1" height="1" fill="#fc582e"/><rect x="9.5" y="9.5" width="2" height="1" fill="#feb72f"/><rect x="11.5" y="9.5" width="1" height="1" fill="#fef73c"/><rect x="12.5" y="9.5" width="2" height="1" fill="#80cb4a"/><rect x="-0.5" y="10.5" width="1" height="1" fill="#feb72f"/><rect x="0.5" y="10.5" width="1" height="1" fill="#fef73c"/><rect x="1.5" y="10.5" width="3" height="1" fill="#feb72f"/><rect x="4.5" y="10.5" width="3" height="1" fill="#fc582e"/><rect x="7.5" y="10.5" width="2" height="1" fill="#d2283c"/><rect x="9.5" y="10.5" width="1" height="1" fill="#fc582e"/><rect x="10.5" y="10.5" width="1" height="1" fill="#feb72f"/><rect x="11.5" y="10.5" width="2" height="1" fill="#fef73c"/><rect x="13.5" y="10.5" width="1" height="1" fill="#80cb4a"/><rect x="-0.5" y="11.5" width="5" height="1" fill="#feb72f"/><rect x="4.5" y="11.5" width="2" height="1" fill="#fc582e"/><rect x="6.5" y="11.5" width="4" height="1" fill="#d2283c"/><rect x="10.5" y="11.5" width="1" height="1" fill="#feb72f"/><rect x="11.5" y="11.5" width="3" height="1" fill="#fef73c"/><rect x="-0.5" y="12.5" width="2" height="1" fill="#feb72f"/><rect x="1.5" y="12.5" width="2" height="1" fill="#fc582e"/><rect x="3.5" y="12.5" width="1" height="1" fill="#feb72f"/><rect x="4.5" y="12.5" width="2" height="1" fill="#fc582e"/><rect x="6.5" y="12.5" width="4" height="1" fill="#d2283c"/><rect x="10.5" y="12.5" width="1" height="1" fill="#fc582e"/><rect x="11.5" y="12.5" width="1" height="1" fill="#feb72f"/><rect x="12.5" y="12.5" width="2" height="1" fill="#fef73c"/><rect x="-0.5" y="13.5" width="1" height="1" fill="#feb72f"/><rect x="0.5" y="13.5" width="6" height="1" fill="#fc582e"/><rect x="6.5" y="13.5" width="4" height="1" fill="#d2283c"/><rect x="10.5" y="13.5" width="1" height="1" fill="#fc582e"/><rect x="11.5" y="13.5" width="1" height="1" fill="#feb72f"/><rect x="12.5" y="13.5" width="2" height="1" fill="#fef73c"/><rect x="0" y="0" width="14" height="14" fill="none" stroke="#707060" stroke-width="0.7" vector-effect="non-scaling-stroke"/><path d="M0.278 0V0.359M0.278 14V13.641M1.076 0V0.205M1.076 14V13.795M1.874 0V0.205M1.874 14V13.795M2.672 0V0.359M2.672 14V13.641M3.470 0V0.205M3.470 14V13.795M4.269 0V0.205M4.269 14V13.795M5.067 0V0.359M5.067 14V13.641M5.865 0V0.205M5.865 14V13.795M6.663 0V0.205M6.663 14V13.795M7.461 0V0.359M7.461 14V13.641M8.260 0V0.205M8.260 14V13.795M9.058 0V0.205M9.058 14V13.795M9.856 0V0.359M9.856 14V13.641M10.654 0V0.205M10.654 14V13.795M11.452 0V0.205M11.452 14V13.795M12.251 0V0.359M12.251 14V13.641M13.049 0V0.205M13.049 14V13.795M13.847 0V0.205M13.847 14V13.795M0 0.092H0.367M14 0.092H13.633M0 1.160H0.210M14 1.160H13.790M0 2.227H0.210M14 2.227H13.790M0 3.295H0.210M14 3.295H13.790M0 4.362H0.367M14 4.362H13.633M0 5.430H0.210M14 5.430H13.790M0 6.497H0.210M14 6.497H13.790M0 7.565H0.210M14 7.565H13.790M0 8.632H0.367M14 8.632H13.633M0 9.699H0.210M14 9.699H13.790M0 10.767H0.210M14 10.767H13.790M0 11.834H0.210M14 11.834H13.790M0 12.902H0.367M14 12.902H13.633" stroke="#555548" stroke-width="0.6" fill="none" vector-effect="non-scaling-stroke"/></svg><svg class="p" style="left:431.10px;top:150.80px" width="129.40" height="136.70" viewBox="0 0 14 14" preserveAspectRatio="none" shape-rendering="crispEdges"><rect x="-0.5" y="-0.5" width="1" height="1" fill="#80cb4a"/><rect x="0.5" y="-0.5" width="4" height="1" fill="#21805f"/><rect x="4.5" y="-0.5" width="2" height="1" fill="#80cb4a"/><rect x="6.5" y="-0.5" width="1" height="1" fill="#21805f"/><rect x="7.5" y="-0.5" width="2" height="1" fill="#fef73c"/><rect x="9.5" y="-0.5" width="5" height="1" fill="#80cb4a"/><rect x="-0.5" y="0.5" width="4" height="1" fill="#21805f"/><rect x="3.5" y="0.5" width="1" height="1" fill="#80cb4a"/><rect x="4.5" y="0.5" width="3" height="1" fill="#21805f"/><rect x="7.5" y="0.5" width="6" height="1" fill="#80cb4a"/><rect x="13.5" y="0.5" width="1" height="1" fill="#fef73c"/><rect x="-0.5" y="1.5" width="8" height="1" fill="#21805f"/><rect x="7.5" y="1.5" width="4" height="1" fill="#80cb4a"/><rect x="11.5" y="1.5" width="3" height="1" fill="#fef73c"/><rect x="-0.5" y="2.5" width="12" height="1" fill="#80cb4a"/><rect x="11.5" y="2.5" width="3" height="1" fill="#fef73c"/><rect x="-0.5" y="3.5" width="2" height="1" fill="#fef73c"/><rect x="1.5" y="3.5" width="6" height="1" fill="#80cb4a"/><rect x="7.5" y="3.5" width="1" height="1" fill="#fef73c"/><rect x="8.5" y="3.5" width="1" height="1" fill="#feb72f"/><rect x="9.5" y="3.5" width="5" height="1" fill="#fef73c"/><rect x="-0.5" y="4.5" width="8" height="1" fill="#fef73c"/><rect x="7.5" y="4.5" width="2" height="1" fill="#feb72f"/><rect x="9.5" y="4.5" width="5" height="1" fill="#fef73c"/><rect x="-0.5" y="5.5" width="6" height="1" fill="#fef73c"/><rect x="5.5" y="5.5" width="2" height="1" fill="#feb72f"/><rect x="7.5" y="5.5" width="2" height="1" fill="#fc582e"/><rect x="9.5" y="5.5" width="1" height="1" fill="#fef73c"/><rect x="10.5" y="5.5" width="4" height="1" fill="#80cb4a"/><rect x="-0.5" y="6.5" width="2" height="1" fill="#fef73c"/><rect x="1.5" y="6.5" width="4" height="1" fill="#feb72f"/><rect x="5.5" y="6.5" width="1" height="1" fill="#fc582e"/><rect x="6.5" y="6.5" width="1" height="1" fill="#d2283c"/><rect x="7.5" y="6.5" width="1" height="1" fill="#5e2f8e"/><rect x="8.5" y="6.5" width="1" height="1" fill="#fc582e"/><rect x="9.5" y="6.5" width="2" height="1" fill="#fef73c"/><rect x="11.5" y="6.5" width="3" height="1" fill="#80cb4a"/><rect x="-0.5" y="7.5" width="5" height="1" fill="#feb72f"/><rect x="4.5" y="7.5" width="2" height="1" fill="#fc582e"/><rect x="6.5" y="7.5" width="3" height="1" fill="#5e2f8e"/><rect x="9.5" y="7.5" width="1" height="1" fill="#feb72f"/><rect x="10.5" y="7.5" width="4" height="1" fill="#80cb4a"/><rect x="-0.5" y="8.5" width="1" height="1" fill="#fc582e"/><rect x="0.5" y="8.5" width="4" height="1" fill="#feb72f"/><rect x="4.5" y="8.5" width="1" height="1" fill="#d2283c"/><rect x="5.5" y="8.5" width="4" height="1" fill="#5e2f8e"/><rect x="9.5" y="8.5" width="1" height="1" fill="#d2283c"/><rect x="10.5" y="8.5" width="1" height="1" fill="#fef73c"/><rect x="11.5" y="8.5" width="3" height="1" fill="#80cb4a"/><rect x="-0.5" y="9.5" width="1" height="1" fill="#d2283c"/><rect x="0.5" y="9.5" width="1" height="1" fill="#fc582e"/><rect x="1.5" y="9.5" width="1" height="1" fill="#feb72f"/><rect x="2.5" y="9.5" width="1" height="1" fill="#fef73c"/><rect x="3.5" y="9.5" width="1" height="1" fill="#feb72f"/><rect x="4.5" y="9.5" width="1" height="1" fill="#d2283c"/><rect x="5.5" y="9.5" width="5" height="1" fill="#5e2f8e"/><rect x="10.5" y="9.5" width="1" height="1" fill="#feb72f"/><rect x="11.5" y="9.5" width="1" height="1" fill="#fef73c"/><rect x="12.5" y="9.5" width="2" height="1" fill="#80cb4a"/><rect x="-0.5" y="10.5" width="1" height="1" fill="#5e2f8e"/><rect x="0.5" y="10.5" width="1" height="1" fill="#d2283c"/><rect x="1.5" y="10.5" width="1" height="1" fill="#fc582e"/><rect x="2.5" y="10.5" width="2" height="1" fill="#feb72f"/><rect x="4.5" y="10.5" width="1" height="1" fill="#fc582e"/><rect x="5.5" y="10.5" width="5" height="1" fill="#5e2f8e"/><rect x="10.5" y="10.5" width="1" height="1" fill="#feb72f"/><rect x="11.5" y="10.5" width="3" height="1" fill="#80cb4a"/><rect x="-0.5" y="11.5" width="2" height="1" fill="#5e2f8e"/><rect x="1.5" y="11.5" width="3" height="1" fill="#d2283c"/><rect x="4.5" y="11.5" width="6" height="1" fill="#5e2f8e"/><rect x="10.5" y="11.5" width="1" height="1" fill="#feb72f"/><rect x="11.5" y="11.5" width="3" height="1" fill="#80cb4a"/><rect x="-0.5" y="12.5" width="10" height="1" fill="#5e2f8e"/><rect x="9.5" y="12.5" width="1" height="1" fill="#d2283c"/><rect x="10.5" y="12.5" width="1" height="1" fill="#fef73c"/><rect x="11.5" y="12.5" width="1" height="1" fill="#80cb4a"/><rect x="12.5" y="12.5" width="2" height="1" fill="#21805f"/><rect x="-0.5" y="13.5" width="10" height="1" fill="#5e2f8e"/><rect x="9.5" y="13.5" width="1" height="1" fill="#fc582e"/><rect x="10.5" y="13.5" width="1" height="1" fill="#fef73c"/><rect x="11.5" y="13.5" width="1" height="1" fill="#80cb4a"/><rect x="12.5" y="13.5" width="2" height="1" fill="#21805f"/><rect x="0" y="0" width="14" height="14" fill="none" stroke="#707060" stroke-width="0.7" vector-effect="non-scaling-stroke"/><path d="M0.287 0V0.358M0.287 14V13.642M1.111 0V0.205M1.111 14V13.795M1.935 0V0.205M1.935 14V13.795M2.759 0V0.358M2.759 14V13.642M3.583 0V0.205M3.583 14V13.795M4.407 0V0.205M4.407 14V13.795M5.231 0V0.358M5.231 14V13.642M6.055 0V0.205M6.055 14V13.795M6.879 0V0.205M6.879 14V13.795M7.704 0V0.358M7.704 14V13.642M8.528 0V0.205M8.528 14V13.795M9.352 0V0.205M9.352 14V13.795M10.176 0V0.358M10.176 14V13.642M11.000 0V0.205M11.000 14V13.795M11.824 0V0.205M11.824 14V13.795M12.648 0V0.358M12.648 14V13.642M13.472 0V0.205M13.472 14V13.795M0 0.092H0.379M14 0.092H13.621M0 1.157H0.216M14 1.157H13.784M0 2.222H0.216M14 2.222H13.784M0 3.287H0.216M14 3.287H13.784M0 4.353H0.379M14 4.353H13.621M0 5.418H0.216M14 5.418H13.784M0 6.483H0.216M14 6.483H13.784M0 7.548H0.216M14 7.548H13.784M0 8.613H0.379M14 8.613H13.621M0 9.678H0.216M14 9.678H13.784M0 10.743H0.216M14 10.743H13.784M0 11.808H0.216M14 11.808H13.784M0 12.873H0.379M14 12.873H13.621M0 13.939H0.216M14 13.939H13.784" stroke="#555548" stroke-width="0.6" fill="none" vector-effect="non-scaling-stroke"/></svg><svg class="p" style="left:567.50px;top:149.10px" width="135.00" height="138.40" viewBox="0 0 14 14" preserveAspectRatio="none" shape-rendering="crispEdges"><rect x="-0.5" y="-0.5" width="1" height="1" fill="#80cb4a"/><rect x="0.5" y="-0.5" width="2" height="1" fill="#21805f"/><rect x="2.5" y="-0.5" width="3" height="1" fill="#80cb4a"/><rect x="5.5" y="-0.5" width="6" height="1" fill="#fef73c"/><rect x="11.5" y="-0.5" width="2" height="1" fill="#feb72f"/><rect x="13.5" y="-0.5" width="1" height="1" fill="#fef73c"/><rect x="-0.5" y="0.5" width="3" height="1" fill="#80cb4a"/><rect x="2.5" y="0.5" width="9" height="1" fill="#fef73c"/><rect x="11.5" y="0.5" width="2" height="1" fill="#feb72f"/><rect x="13.5" y="0.5" width="1" height="1" fill="#fef73c"/><rect x="-0.5" y="1.5" width="3" height="1" fill="#80cb4a"/><rect x="2.5" y="1.5" width="12" height="1" fill="#fef73c"/><rect x="-0.5" y="2.5" width="3" height="1" fill="#80cb4a"/><rect x="2.5" y="2.5" width="12" height="1" fill="#fef73c"/><rect x="-0.5" y="3.5" width="1" height="1" fill="#80cb4a"/><rect x="0.5" y="3.5" width="14" height="1" fill="#fef73c"/><rect x="-0.5" y="4.5" width="1" height="1" fill="#80cb4a"/><rect x="0.5" y="4.5" width="9" height="1" fill="#fef73c"/><rect x="9.5" y="4.5" width="1" height="1" fill="#feb72f"/><rect x="10.5" y="4.5" width="4" height="1" fill="#fef73c"/><rect x="-0.5" y="5.5" width="2" height="1" fill="#80cb4a"/><rect x="1.5" y="5.5" width="6" height="1" fill="#fef73c"/><rect x="7.5" y="5.5" width="4" height="1" fill="#feb72f"/><rect x="11.5" y="5.5" width="3" height="1" fill="#fef73c"/><rect x="-0.5" y="6.5" width="5" height="1" fill="#80cb4a"/><rect x="4.5" y="6.5" width="2" height="1" fill="#fef73c"/><rect x="6.5" y="6.5" width="5" height="1" fill="#feb72f"/><rect x="11.5" y="6.5" width="3" height="1" fill="#fef73c"/><rect x="-0.5" y="7.5" width="3" height="1" fill="#80cb4a"/><rect x="2.5" y="7.5" width="3" height="1" fill="#fef73c"/><rect x="5.5" y="7.5" width="2" height="1" fill="#feb72f"/><rect x="7.5" y="7.5" width="1" height="1" fill="#fc582e"/><rect x="8.5" y="7.5" width="3" height="1" fill="#feb72f"/><rect x="11.5" y="7.5" width="3" height="1" fill="#fef73c"/><rect x="-0.5" y="8.5" width="3" height="1" fill="#80cb4a"/><rect x="2.5" y="8.5" width="1" height="1" fill="#fef73c"/><rect x="3.5" y="8.5" width="3" height="1" fill="#feb72f"/><rect x="6.5" y="8.5" width="3" height="1" fill="#fc582e"/><rect x="9.5" y="8.5" width="3" height="1" fill="#feb72f"/><rect x="12.5" y="8.5" width="2" height="1" fill="#fef73c"/><rect x="-0.5" y="9.5" width="3" height="1" fill="#fef73c"/><rect x="2.5" y="9.5" width="2" height="1" fill="#feb72f"/><rect x="4.5" y="9.5" width="5" height="1" fill="#fc582e"/><rect x="9.5" y="9.5" width="3" height="1" fill="#feb72f"/><rect x="12.5" y="9.5" width="2" height="1" fill="#fef73c"/><rect x="-0.5" y="10.5" width="3" height="1" fill="#fef73c"/><rect x="2.5" y="10.5" width="1" height="1" fill="#feb72f"/><rect x="3.5" y="10.5" width="6" height="1" fill="#fc582e"/><rect x="9.5" y="10.5" width="2" height="1" fill="#feb72f"/><rect x="11.5" y="10.5" width="3" height="1" fill="#fef73c"/><rect x="-0.5" y="11.5" width="1" height="1" fill="#feb72f"/><rect x="0.5" y="11.5" width="1" height="1" fill="#fef73c"/><rect x="1.5" y="11.5" width="2" height="1" fill="#feb72f"/><rect x="3.5" y="11.5" width="1" height="1" fill="#fc582e"/><rect x="4.5" y="11.5" width="1" height="1" fill="#feb72f"/><rect x="5.5" y="11.5" width="1" height="1" fill="#fc582e"/><rect x="6.5" y="11.5" width="1" height="1" fill="#d2283c"/><rect x="7.5" y="11.5" width="2" height="1" fill="#fc582e"/><rect x="9.5" y="11.5" width="4" height="1" fill="#feb72f"/><rect x="13.5" y="11.5" width="1" height="1" fill="#fef73c"/><rect x="-0.5" y="12.5" width="4" height="1" fill="#feb72f"/><rect x="3.5" y="12.5" width="1" height="1" fill="#fc582e"/><rect x="4.5" y="12.5" width="3" height="1" fill="#d2283c"/><rect x="7.5" y="12.5" width="2" height="1" fill="#fc582e"/><rect x="9.5" y="12.5" width="4" height="1" fill="#feb72f"/><rect x="13.5" y="12.5" width="1" height="1" fill="#fef73c"/><rect x="-0.5" y="13.5" width="3" height="1" fill="#feb72f"/><rect x="2.5" y="13.5" width="1" height="1" fill="#fc582e"/><rect x="3.5" y="13.5" width="2" height="1" fill="#d2283c"/><rect x="5.5" y="13.5" width="1" height="1" fill="#5e2f8e"/><rect x="6.5" y="13.5" width="3" height="1" fill="#d2283c"/><rect x="9.5" y="13.5" width="2" height="1" fill="#fc582e"/><rect x="11.5" y="13.5" width="2" height="1" fill="#feb72f"/><rect x="13.5" y="13.5" width="1" height="1" fill="#fef73c"/><rect x="0" y="0" width="14" height="14" fill="none" stroke="#707060" stroke-width="0.7" vector-effect="non-scaling-stroke"/><path d="M0.275 0V0.354M0.275 14V13.646M1.065 0V0.202M1.065 14V13.798M1.855 0V0.202M1.855 14V13.798M2.645 0V0.354M2.645 14V13.646M3.434 0V0.202M3.434 14V13.798M4.224 0V0.202M4.224 14V13.798M5.014 0V0.354M5.014 14V13.646M5.804 0V0.202M5.804 14V13.798M6.594 0V0.202M6.594 14V13.798M7.384 0V0.354M7.384 14V13.646M8.174 0V0.202M8.174 14V13.798M8.964 0V0.202M8.964 14V13.798M9.754 0V0.354M9.754 14V13.646M10.544 0V0.202M10.544 14V13.798M11.334 0V0.202M11.334 14V13.798M12.123 0V0.354M12.123 14V13.646M12.913 0V0.202M12.913 14V13.798M13.703 0V0.202M13.703 14V13.798M0 0.091H0.363M14 0.091H13.637M0 1.143H0.207M14 1.143H13.793M0 2.195H0.207M14 2.195H13.793M0 3.247H0.207M14 3.247H13.793M0 4.299H0.363M14 4.299H13.637M0 5.351H0.207M14 5.351H13.793M0 6.403H0.207M14 6.403H13.793M0 7.455H0.207M14 7.455H13.793M0 8.507H0.363M14 8.507H13.637M0 9.559H0.207M14 9.559H13.793M0 10.611H0.207M14 10.611H13.793M0 11.663H0.207M14 11.663H13.793M0 12.715H0.363M14 12.715H13.637M0 13.767H0.207M14 13.767H13.793" stroke="#555548" stroke-width="0.6" fill="none" vector-effect="non-scaling-stroke"/></svg><svg class="p" style="left:7.80px;top:384.10px" width="131.90" height="135.60" viewBox="0 0 14 14" preserveAspectRatio="none" shape-rendering="crispEdges"><rect x="-0.5" y="-0.5" width="6" height="1" fill="#4457ad"/><rect x="5.5" y="-0.5" width="2" height="1" fill="#80cb4a"/><rect x="7.5" y="-0.5" width="7" height="1" fill="#4457ad"/><rect x="-0.5" y="0.5" width="1" height="1" fill="#d2283c"/><rect x="0.5" y="0.5" width="1" height="1" fill="#fc582e"/><rect x="1.5" y="0.5" width="1" height="1" fill="#21805f"/><rect x="2.5" y="0.5" width="4" height="1" fill="#fc582e"/><rect x="6.5" y="0.5" width="7" height="1" fill="#feb72f"/><rect x="13.5" y="0.5" width="1" height="1" fill="#4457ad"/><rect x="-0.5" y="1.5" width="1" height="1" fill="#d2283c"/><rect x="0.5" y="1.5" width="7" height="1" fill="#fc582e"/><rect x="7.5" y="1.5" width="7" height="1" fill="#feb72f"/><rect x="-0.5" y="2.5" width="1" height="1" fill="#5e2f8e"/><rect x="0.5" y="2.5" width="1" height="1" fill="#d2283c"/><rect x="1.5" y="2.5" width="5" height="1" fill="#fc582e"/><rect x="6.5" y="2.5" width="8" height="1" fill="#feb72f"/><rect x="-0.5" y="3.5" width="1" height="1" fill="#5e2f8e"/><rect x="0.5" y="3.5" width="2" height="1" fill="#d2283c"/><rect x="2.5" y="3.5" width="4" height="1" fill="#fc582e"/><rect x="6.5" y="3.5" width="8" height="1" fill="#feb72f"/><rect x="-0.5" y="4.5" width="2" height="1" fill="#5e2f8e"/><rect x="1.5" y="4.5" width="1" height="1" fill="#d2283c"/><rect x="2.5" y="4.5" width="4" height="1" fill="#fc582e"/><rect x="6.5" y="4.5" width="8" height="1" fill="#feb72f"/><rect x="-0.5" y="5.5" width="4" height="1" fill="#5e2f8e"/><rect x="3.5" y="5.5" width="2" height="1" fill="#d2283c"/><rect x="5.5" y="5.5" width="2" height="1" fill="#fc582e"/><rect x="7.5" y="5.5" width="7" height="1" fill="#feb72f"/><rect x="-0.5" y="6.5" width="5" height="1" fill="#5e2f8e"/><rect x="4.5" y="6.5" width="1" height="1" fill="#d2283c"/><rect x="5.5" y="6.5" width="2" height="1" fill="#fc582e"/><rect x="7.5" y="6.5" width="7" height="1" fill="#feb72f"/><rect x="-0.5" y="7.5" width="4" height="1" fill="#5e2f8e"/><rect x="3.5" y="7.5" width="1" height="1" fill="#d2283c"/><rect x="4.5" y="7.5" width="3" height="1" fill="#fc582e"/><rect x="7.5" y="7.5" width="7" height="1" fill="#feb72f"/><rect x="-0.5" y="8.5" width="3" height="1" fill="#5e2f8e"/><rect x="2.5" y="8.5" width="1" height="1" fill="#d2283c"/><rect x="3.5" y="8.5" width="4" height="1" fill="#fc582e"/><rect x="7.5" y="8.5" width="7" height="1" fill="#feb72f"/><rect x="-0.5" y="9.5" width="3" height="1" fill="#5e2f8e"/><rect x="2.5" y="9.5" width="2" height="1" fill="#d2283c"/><rect x="4.5" y="9.5" width="4" height="1" fill="#fc582e"/><rect x="8.5" y="9.5" width="6" height="1" fill="#feb72f"/><rect x="-0.5" y="10.5" width="4" height="1" fill="#5e2f8e"/><rect x="3.5" y="10.5" width="1" height="1" fill="#d2283c"/><rect x="4.5" y="10.5" width="5" height="1" fill="#fc582e"/><rect x="9.5" y="10.5" width="5" height="1" fill="#feb72f"/><rect x="-0.5" y="11.5" width="4" height="1" fill="#5e2f8e"/><rect x="3.5" y="11.5" width="2" height="1" fill="#d2283c"/><rect x="5.5" y="11.5" width="4" height="1" fill="#fc582e"/><rect x="9.5" y="11.5" width="5" height="1" fill="#feb72f"/><rect x="-0.5" y="12.5" width="4" height="1" fill="#5e2f8e"/><rect x="3.5" y="12.5" width="2" height="1" fill="#d2283c"/><rect x="5.5" y="12.5" width="4" height="1" fill="#fc582e"/><rect x="9.5" y="12.5" width="5" height="1" fill="#feb72f"/><rect x="-0.5" y="13.5" width="5" height="1" fill="#5e2f8e"/><rect x="4.5" y="13.5" width="2" height="1" fill="#d2283c"/><rect x="6.5" y="13.5" width="3" height="1" fill="#fc582e"/><rect x="9.5" y="13.5" width="5" height="1" fill="#feb72f"/><rect x="0" y="0" width="14" height="14" fill="none" stroke="#707060" stroke-width="0.7" vector-effect="non-scaling-stroke"/><path d="M0.281 0V0.361M0.281 14V13.639M1.090 0V0.206M1.090 14V13.794M1.898 0V0.206M1.898 14V13.794M2.707 0V0.361M2.707 14V13.639M3.515 0V0.206M3.515 14V13.794M4.324 0V0.206M4.324 14V13.794M5.132 0V0.361M5.132 14V13.639M5.941 0V0.206M5.941 14V13.794M6.749 0V0.206M6.749 14V13.794M7.558 0V0.361M7.558 14V13.639M8.366 0V0.206M8.366 14V13.794M9.175 0V0.206M9.175 14V13.794M9.983 0V0.361M9.983 14V13.639M10.791 0V0.206M10.791 14V13.794M11.600 0V0.206M11.600 14V13.794M12.408 0V0.361M12.408 14V13.639M13.217 0V0.206M13.217 14V13.794M0 0.093H0.371M14 0.093H13.629M0 1.167H0.212M14 1.167H13.788M0 2.240H0.212M14 2.240H13.788M0 3.314H0.212M14 3.314H13.788M0 4.388H0.371M14 4.388H13.629M0 5.462H0.212M14 5.462H13.788M0 6.535H0.212M14 6.535H13.788M0 7.609H0.212M14 7.609H13.788M0 8.683H0.371M14 8.683H13.629M0 9.757H0.212M14 9.757H13.788M0 10.830H0.212M14 10.830H13.788M0 11.904H0.212M14 11.904H13.788M0 12.978H0.371M14 12.978H13.629" stroke="#555548" stroke-width="0.6" fill="none" vector-effect="non-scaling-stroke"/></svg><svg class="p" style="left:146.30px;top:384.10px" width="132.20" height="135.30" viewBox="0 0 14 14" preserveAspectRatio="none" shape-rendering="crispEdges"><rect x="-0.5" y="-0.5" width="6" height="1" fill="#4457ad"/><rect x="5.5" y="-0.5" width="1" height="1" fill="#80cb4a"/><rect x="6.5" y="-0.5" width="1" height="1" fill="#21805f"/><rect x="7.5" y="-0.5" width="7" height="1" fill="#4457ad"/><rect x="-0.5" y="0.5" width="1" height="1" fill="#feb72f"/><rect x="0.5" y="0.5" width="1" height="1" fill="#fef73c"/><rect x="1.5" y="0.5" width="1" height="1" fill="#4457ad"/><rect x="2.5" y="0.5" width="11" height="1" fill="#feb72f"/><rect x="13.5" y="0.5" width="1" height="1" fill="#4457ad"/><rect x="-0.5" y="1.5" width="15" height="1" fill="#feb72f"/><rect x="-0.5" y="2.5" width="1" height="1" fill="#fc582e"/><rect x="0.5" y="2.5" width="14" height="1" fill="#feb72f"/><rect x="-0.5" y="3.5" width="1" height="1" fill="#d2283c"/><rect x="0.5" y="3.5" width="1" height="1" fill="#fc582e"/><rect x="1.5" y="3.5" width="13" height="1" fill="#feb72f"/><rect x="-0.5" y="4.5" width="1" height="1" fill="#5e2f8e"/><rect x="0.5" y="4.5" width="1" height="1" fill="#d2283c"/><rect x="1.5" y="4.5" width="1" height="1" fill="#fc582e"/><rect x="2.5" y="4.5" width="4" height="1" fill="#feb72f"/><rect x="6.5" y="4.5" width="1" height="1" fill="#fc582e"/><rect x="7.5" y="4.5" width="7" height="1" fill="#feb72f"/><rect x="-0.5" y="5.5" width="3" height="1" fill="#5e2f8e"/><rect x="2.5" y="5.5" width="1" height="1" fill="#d2283c"/><rect x="3.5" y="5.5" width="4" height="1" fill="#fc582e"/><rect x="7.5" y="5.5" width="7" height="1" fill="#feb72f"/><rect x="-0.5" y="6.5" width="3" height="1" fill="#5e2f8e"/><rect x="2.5" y="6.5" width="1" height="1" fill="#d2283c"/><rect x="3.5" y="6.5" width="4" height="1" fill="#fc582e"/><rect x="7.5" y="6.5" width="7" height="1" fill="#feb72f"/><rect x="-0.5" y="7.5" width="3" height="1" fill="#5e2f8e"/><rect x="2.5" y="7.5" width="1" height="1" fill="#d2283c"/><rect x="3.5" y="7.5" width="2" height="1" fill="#fc582e"/><rect x="5.5" y="7.5" width="1" height="1" fill="#feb72f"/><rect x="6.5" y="7.5" width="1" height="1" fill="#fc582e"/><rect x="7.5" y="7.5" width="7" height="1" fill="#feb72f"/><rect x="-0.5" y="8.5" width="2" height="1" fill="#5e2f8e"/><rect x="1.5" y="8.5" width="1" height="1" fill="#d2283c"/><rect x="2.5" y="8.5" width="3" height="1" fill="#fc582e"/><rect x="5.5" y="8.5" width="9" height="1" fill="#feb72f"/><rect x="-0.5" y="9.5" width="3" height="1" fill="#5e2f8e"/><rect x="2.5" y="9.5" width="1" height="1" fill="#d2283c"/><rect x="3.5" y="9.5" width="4" height="1" fill="#fc582e"/><rect x="7.5" y="9.5" width="7" height="1" fill="#feb72f"/><rect x="-0.5" y="10.5" width="3" height="1" fill="#5e2f8e"/><rect x="2.5" y="10.5" width="1" height="1" fill="#d2283c"/><rect x="3.5" y="10.5" width="4" height="1" fill="#fc582e"/><rect x="7.5" y="10.5" width="7" height="1" fill="#feb72f"/><rect x="-0.5" y="11.5" width="3" height="1" fill="#5e2f8e"/><rect x="2.5" y="11.5" width="2" height="1" fill="#d2283c"/><rect x="4.5" y="11.5" width="5" height="1" fill="#fc582e"/><rect x="9.5" y="11.5" width="5" height="1" fill="#feb72f"/><rect x="-0.5" y="12.5" width="3" height="1" fill="#5e2f8e"/><rect x="2.5" y="12.5" width="3" height="1" fill="#d2283c"/><rect x="5.5" y="12.5" width="4" height="1" fill="#fc582e"/><rect x="9.5" y="12.5" width="5" height="1" fill="#feb72f"/><rect x="-0.5" y="13.5" width="4" height="1" fill="#5e2f8e"/><rect x="3.5" y="13.5" width="2" height="1" fill="#d2283c"/><rect x="5.5" y="13.5" width="4" height="1" fill="#fc582e"/><rect x="9.5" y="13.5" width="5" height="1" fill="#feb72f"/><rect x="0" y="0" width="14" height="14" fill="none" stroke="#707060" stroke-width="0.7" vector-effect="non-scaling-stroke"/><path d="M0.281 0V0.362M0.281 14V13.638M1.087 0V0.207M1.087 14V13.793M1.894 0V0.207M1.894 14V13.793M2.701 0V0.362M2.701 14V13.638M3.507 0V0.207M3.507 14V13.793M4.314 0V0.207M4.314 14V13.793M5.120 0V0.362M5.120 14V13.638M5.927 0V0.207M5.927 14V13.793M6.734 0V0.207M6.734 14V13.793M7.540 0V0.362M7.540 14V13.638M8.347 0V0.207M8.347 14V13.793M9.154 0V0.207M9.154 14V13.793M9.960 0V0.362M9.960 14V13.638M10.767 0V0.207M10.767 14V13.793M11.574 0V0.207M11.574 14V13.793M12.380 0V0.362M12.380 14V13.638M13.187 0V0.207M13.187 14V13.793M0 0.093H0.371M14 0.093H13.629M0 1.169H0.212M14 1.169H13.788M0 2.245H0.212M14 2.245H13.788M0 3.322H0.212M14 3.322H13.788M0 4.398H0.371M14 4.398H13.629M0 5.474H0.212M14 5.474H13.788M0 6.550H0.212M14 6.550H13.788M0 7.626H0.212M14 7.626H13.788M0 8.702H0.371M14 8.702H13.629M0 9.778H0.212M14 9.778H13.788M0 10.854H0.212M14 10.854H13.788M0 11.931H0.212M14 11.931H13.788M0 13.007H0.371M14 13.007H13.629" stroke="#555548" stroke-width="0.6" fill="none" vector-effect="non-scaling-stroke"/></svg><svg class="p" style="left:281.70px;top:384.10px" width="132.20" height="135.90" viewBox="0 0 14 14" preserveAspectRatio="none" shape-rendering="crispEdges"><rect x="-0.5" y="-0.5" width="6" height="1" fill="#4457ad"/><rect x="5.5" y="-0.5" width="2" height="1" fill="#21805f"/><rect x="7.5" y="-0.5" width="7" height="1" fill="#4457ad"/><rect x="-0.5" y="0.5" width="1" height="1" fill="#fef73c"/><rect x="0.5" y="0.5" width="1" height="1" fill="#80cb4a"/><rect x="1.5" y="0.5" width="1" height="1" fill="#4457ad"/><rect x="2.5" y="0.5" width="1" height="1" fill="#fef73c"/><rect x="3.5" y="0.5" width="1" height="1" fill="#feb72f"/><rect x="4.5" y="0.5" width="1" height="1" fill="#fef73c"/><rect x="5.5" y="0.5" width="1" height="1" fill="#feb72f"/><rect x="6.5" y="0.5" width="7" height="1" fill="#fef73c"/><rect x="13.5" y="0.5" width="1" height="1" fill="#4457ad"/><rect x="-0.5" y="1.5" width="1" height="1" fill="#fef73c"/><rect x="0.5" y="1.5" width="1" height="1" fill="#80cb4a"/><rect x="1.5" y="1.5" width="2" height="1" fill="#fef73c"/><rect x="3.5" y="1.5" width="1" height="1" fill="#feb72f"/><rect x="4.5" y="1.5" width="1" height="1" fill="#fef73c"/><rect x="5.5" y="1.5" width="1" height="1" fill="#feb72f"/><rect x="6.5" y="1.5" width="8" height="1" fill="#fef73c"/><rect x="-0.5" y="2.5" width="3" height="1" fill="#fef73c"/><rect x="2.5" y="2.5" width="10" height="1" fill="#feb72f"/><rect x="12.5" y="2.5" width="2" height="1" fill="#fef73c"/><rect x="-0.5" y="3.5" width="2" height="1" fill="#feb72f"/><rect x="1.5" y="3.5" width="1" height="1" fill="#fef73c"/><rect x="2.5" y="3.5" width="10" height="1" fill="#feb72f"/><rect x="12.5" y="3.5" width="2" height="1" fill="#fef73c"/><rect x="-0.5" y="4.5" width="2" height="1" fill="#d2283c"/><rect x="1.5" y="4.5" width="1" height="1" fill="#fef73c"/><rect x="2.5" y="4.5" width="9" height="1" fill="#feb72f"/><rect x="11.5" y="4.5" width="3" height="1" fill="#fef73c"/><rect x="-0.5" y="5.5" width="2" height="1" fill="#5e2f8e"/><rect x="1.5" y="5.5" width="2" height="1" fill="#d2283c"/><rect x="3.5" y="5.5" width="8" height="1" fill="#feb72f"/><rect x="11.5" y="5.5" width="3" height="1" fill="#fef73c"/><rect x="-0.5" y="6.5" width="3" height="1" fill="#5e2f8e"/><rect x="2.5" y="6.5" width="1" height="1" fill="#d2283c"/><rect x="3.5" y="6.5" width="1" height="1" fill="#fc582e"/><rect x="4.5" y="6.5" width="8" height="1" fill="#feb72f"/><rect x="12.5" y="6.5" width="2" height="1" fill="#fef73c"/><rect x="-0.5" y="7.5" width="3" height="1" fill="#5e2f8e"/><rect x="2.5" y="7.5" width="2" height="1" fill="#fc582e"/><rect x="4.5" y="7.5" width="8" height="1" fill="#feb72f"/><rect x="12.5" y="7.5" width="2" height="1" fill="#fef73c"/><rect x="-0.5" y="8.5" width="2" height="1" fill="#5e2f8e"/><rect x="1.5" y="8.5" width="1" height="1" fill="#d2283c"/><rect x="2.5" y="8.5" width="2" height="1" fill="#fc582e"/><rect x="4.5" y="8.5" width="7" height="1" fill="#feb72f"/><rect x="11.5" y="8.5" width="3" height="1" fill="#fef73c"/><rect x="-0.5" y="9.5" width="3" height="1" fill="#5e2f8e"/><rect x="2.5" y="9.5" width="3" height="1" fill="#fc582e"/><rect x="5.5" y="9.5" width="6" height="1" fill="#feb72f"/><rect x="11.5" y="9.5" width="3" height="1" fill="#fef73c"/><rect x="-0.5" y="10.5" width="3" height="1" fill="#5e2f8e"/><rect x="2.5" y="10.5" width="1" height="1" fill="#d2283c"/><rect x="3.5" y="10.5" width="3" height="1" fill="#fc582e"/><rect x="6.5" y="10.5" width="6" height="1" fill="#feb72f"/><rect x="12.5" y="10.5" width="2" height="1" fill="#fef73c"/><rect x="-0.5" y="11.5" width="3" height="1" fill="#5e2f8e"/><rect x="2.5" y="11.5" width="1" height="1" fill="#d2283c"/><rect x="3.5" y="11.5" width="4" height="1" fill="#fc582e"/><rect x="7.5" y="11.5" width="4" height="1" fill="#feb72f"/><rect x="11.5" y="11.5" width="1" height="1" fill="#fef73c"/><rect x="12.5" y="11.5" width="1" height="1" fill="#feb72f"/><rect x="13.5" y="11.5" width="1" height="1" fill="#fef73c"/><rect x="-0.5" y="12.5" width="3" height="1" fill="#5e2f8e"/><rect x="2.5" y="12.5" width="1" height="1" fill="#d2283c"/><rect x="3.5" y="12.5" width="6" height="1" fill="#fc582e"/><rect x="9.5" y="12.5" width="1" height="1" fill="#feb72f"/><rect x="10.5" y="12.5" width="3" height="1" fill="#fef73c"/><rect x="13.5" y="12.5" width="1" height="1" fill="#feb72f"/><rect x="-0.5" y="13.5" width="4" height="1" fill="#5e2f8e"/><rect x="3.5" y="13.5" width="1" height="1" fill="#d2283c"/><rect x="4.5" y="13.5" width="5" height="1" fill="#fc582e"/><rect x="9.5" y="13.5" width="1" height="1" fill="#feb72f"/><rect x="10.5" y="13.5" width="3" height="1" fill="#fef73c"/><rect x="13.5" y="13.5" width="1" height="1" fill="#feb72f"/><rect x="0" y="0" width="14" height="14" fill="none" stroke="#707060" stroke-width="0.7" vector-effect="non-scaling-stroke"/><path d="M0.281 0V0.361M0.281 14V13.639M1.087 0V0.206M1.087 14V13.794M1.894 0V0.206M1.894 14V13.794M2.701 0V0.361M2.701 14V13.639M3.507 0V0.206M3.507 14V13.794M4.314 0V0.206M4.314 14V13.794M5.120 0V0.361M5.120 14V13.639M5.927 0V0.206M5.927 14V13.794M6.734 0V0.206M6.734 14V13.794M7.540 0V0.361M7.540 14V13.639M8.347 0V0.206M8.347 14V13.794M9.154 0V0.206M9.154 14V13.794M9.960 0V0.361M9.960 14V13.639M10.767 0V0.206M10.767 14V13.794M11.574 0V0.206M11.574 14V13.794M12.380 0V0.361M12.380 14V13.639M13.187 0V0.206M13.187 14V13.794M0 0.093H0.371M14 0.093H13.629M0 1.164H0.212M14 1.164H13.788M0 2.235H0.212M14 2.235H13.788M0 3.307H0.212M14 3.307H13.788M0 4.378H0.371M14 4.378H13.629M0 5.450H0.212M14 5.450H13.788M0 6.521H0.212M14 6.521H13.788M0 7.592H0.212M14 7.592H13.788M0 8.664H0.371M14 8.664H13.629M0 9.735H0.212M14 9.735H13.788M0 10.806H0.212M14 10.806H13.788M0 11.878H0.212M14 11.878H13.788M0 12.949H0.371M14 12.949H13.629" stroke="#555548" stroke-width="0.6" fill="none" vector-effect="non-scaling-stroke"/></svg><svg class="p" style="left:419.50px;top:383.00px" width="132.20" height="136.40" viewBox="0 0 14 14" preserveAspectRatio="none" shape-rendering="crispEdges"><rect x="-0.5" y="-0.5" width="1" height="1" fill="#fc582e"/><rect x="0.5" y="-0.5" width="1" height="1" fill="#d2283c"/><rect x="1.5" y="-0.5" width="4" height="1" fill="#fc582e"/><rect x="5.5" y="-0.5" width="5" height="1" fill="#feb72f"/><rect x="10.5" y="-0.5" width="4" height="1" fill="#fef73c"/><rect x="-0.5" y="0.5" width="7" height="1" fill="#fc582e"/><rect x="6.5" y="0.5" width="3" height="1" fill="#feb72f"/><rect x="9.5" y="0.5" width="5" height="1" fill="#fef73c"/><rect x="-0.5" y="1.5" width="1" height="1" fill="#d2283c"/><rect x="0.5" y="1.5" width="3" height="1" fill="#fc582e"/><rect x="3.5" y="1.5" width="1" height="1" fill="#d2283c"/><rect x="4.5" y="1.5" width="2" height="1" fill="#fc582e"/><rect x="6.5" y="1.5" width="3" height="1" fill="#feb72f"/><rect x="9.5" y="1.5" width="5" height="1" fill="#fef73c"/><rect x="-0.5" y="2.5" width="1" height="1" fill="#5e2f8e"/><rect x="0.5" y="2.5" width="4" height="1" fill="#d2283c"/><rect x="4.5" y="2.5" width="2" height="1" fill="#fc582e"/><rect x="6.5" y="2.5" width="6" height="1" fill="#feb72f"/><rect x="12.5" y="2.5" width="2" height="1" fill="#fef73c"/><rect x="-0.5" y="3.5" width="5" height="1" fill="#5e2f8e"/><rect x="4.5" y="3.5" width="1" height="1" fill="#fc582e"/><rect x="5.5" y="3.5" width="5" height="1" fill="#feb72f"/><rect x="10.5" y="3.5" width="4" height="1" fill="#fef73c"/><rect x="-0.5" y="4.5" width="4" height="1" fill="#5e2f8e"/><rect x="3.5" y="4.5" width="1" height="1" fill="#d2283c"/><rect x="4.5" y="4.5" width="1" height="1" fill="#fc582e"/><rect x="5.5" y="4.5" width="5" height="1" fill="#feb72f"/><rect x="10.5" y="4.5" width="4" height="1" fill="#fef73c"/><rect x="-0.5" y="5.5" width="1" height="1" fill="#d2283c"/><rect x="0.5" y="5.5" width="3" height="1" fill="#5e2f8e"/><rect x="3.5" y="5.5" width="1" height="1" fill="#d2283c"/><rect x="4.5" y="5.5" width="1" height="1" fill="#fc582e"/><rect x="5.5" y="5.5" width="5" height="1" fill="#feb72f"/><rect x="10.5" y="5.5" width="4" height="1" fill="#fef73c"/><rect x="-0.5" y="6.5" width="4" height="1" fill="#5e2f8e"/><rect x="3.5" y="6.5" width="1" height="1" fill="#d2283c"/><rect x="4.5" y="6.5" width="5" height="1" fill="#feb72f"/><rect x="9.5" y="6.5" width="5" height="1" fill="#fef73c"/><rect x="-0.5" y="7.5" width="4" height="1" fill="#5e2f8e"/><rect x="3.5" y="7.5" width="1" height="1" fill="#fc582e"/><rect x="4.5" y="7.5" width="5" height="1" fill="#feb72f"/><rect x="9.5" y="7.5" width="5" height="1" fill="#fef73c"/><rect x="-0.5" y="8.5" width="3" height="1" fill="#5e2f8e"/><rect x="2.5" y="8.5" width="1" height="1" fill="#d2283c"/><rect x="3.5" y="8.5" width="1" height="1" fill="#fc582e"/><rect x="4.5" y="8.5" width="5" height="1" fill="#feb72f"/><rect x="9.5" y="8.5" width="5" height="1" fill="#fef73c"/><rect x="-0.5" y="9.5" width="3" height="1" fill="#5e2f8e"/><rect x="2.5" y="9.5" width="2" height="1" fill="#fc582e"/><rect x="4.5" y="9.5" width="5" height="1" fill="#feb72f"/><rect x="9.5" y="9.5" width="5" height="1" fill="#fef73c"/><rect x="-0.5" y="10.5" width="3" height="1" fill="#5e2f8e"/><rect x="2.5" y="10.5" width="1" height="1" fill="#d2283c"/><rect x="3.5" y="10.5" width="1" height="1" fill="#fc582e"/><rect x="4.5" y="10.5" width="4" height="1" fill="#feb72f"/><rect x="8.5" y="10.5" width="6" height="1" fill="#fef73c"/><rect x="-0.5" y="11.5" width="3" height="1" fill="#5e2f8e"/><rect x="2.5" y="11.5" width="1" height="1" fill="#d2283c"/><rect x="3.5" y="11.5" width="1" height="1" fill="#fc582e"/><rect x="4.5" y="11.5" width="4" height="1" fill="#feb72f"/><rect x="8.5" y="11.5" width="6" height="1" fill="#fef73c"/><rect x="-0.5" y="12.5" width="3" height="1" fill="#5e2f8e"/><rect x="2.5" y="12.5" width="2" height="1" fill="#fc582e"/><rect x="4.5" y="12.5" width="4" height="1" fill="#feb72f"/><rect x="8.5" y="12.5" width="6" height="1" fill="#fef73c"/><rect x="-0.5" y="13.5" width="3" height="1" fill="#5e2f8e"/><rect x="2.5" y="13.5" width="1" height="1" fill="#d2283c"/><rect x="3.5" y="13.5" width="2" height="1" fill="#fc582e"/><rect x="5.5" y="13.5" width="3" height="1" fill="#feb72f"/><rect x="8.5" y="13.5" width="5" height="1" fill="#fef73c"/><rect x="13.5" y="13.5" width="1" height="1" fill="#4457ad"/><rect x="0" y="0" width="14" height="14" fill="none" stroke="#707060" stroke-width="0.7" vector-effect="non-scaling-stroke"/><path d="M0.281 0V0.359M0.281 14V13.641M1.087 0V0.205M1.087 14V13.795M1.894 0V0.205M1.894 14V13.795M2.701 0V0.359M2.701 14V13.641M3.507 0V0.205M3.507 14V13.795M4.314 0V0.205M4.314 14V13.795M5.120 0V0.359M5.120 14V13.641M5.927 0V0.205M5.927 14V13.795M6.734 0V0.205M6.734 14V13.795M7.540 0V0.359M7.540 14V13.641M8.347 0V0.205M8.347 14V13.795M9.154 0V0.205M9.154 14V13.795M9.960 0V0.359M9.960 14V13.641M10.767 0V0.205M10.767 14V13.795M11.574 0V0.205M11.574 14V13.795M12.380 0V0.359M12.380 14V13.641M13.187 0V0.205M13.187 14V13.795M0 0.092H0.371M14 0.092H13.629M0 1.160H0.212M14 1.160H13.788M0 2.227H0.212M14 2.227H13.788M0 3.295H0.212M14 3.295H13.788M0 4.362H0.371M14 4.362H13.629M0 5.430H0.212M14 5.430H13.788M0 6.497H0.212M14 6.497H13.788M0 7.565H0.212M14 7.565H13.788M0 8.632H0.371M14 8.632H13.629M0 9.699H0.212M14 9.699H13.788M0 10.767H0.212M14 10.767H13.788M0 11.834H0.212M14 11.834H13.788M0 12.902H0.371M14 12.902H13.629" stroke="#555548" stroke-width="0.6" fill="none" vector-effect="non-scaling-stroke"/></svg><svg class="p" style="left:558.80px;top:383.00px" width="132.60" height="136.20" viewBox="0 0 14 14" preserveAspectRatio="none" shape-rendering="crispEdges"><rect x="-0.5" y="-0.5" width="1" height="1" fill="#4457ad"/><rect x="0.5" y="-0.5" width="6" height="1" fill="#fc582e"/><rect x="6.5" y="-0.5" width="3" height="1" fill="#feb72f"/><rect x="9.5" y="-0.5" width="2" height="1" fill="#fc582e"/><rect x="11.5" y="-0.5" width="1" height="1" fill="#feb72f"/><rect x="12.5" y="-0.5" width="1" height="1" fill="#fc582e"/><rect x="13.5" y="-0.5" width="1" height="1" fill="#feb72f"/><rect x="-0.5" y="0.5" width="1" height="1" fill="#feb72f"/><rect x="0.5" y="0.5" width="6" height="1" fill="#fc582e"/><rect x="6.5" y="0.5" width="6" height="1" fill="#feb72f"/><rect x="12.5" y="0.5" width="2" height="1" fill="#fc582e"/><rect x="-0.5" y="1.5" width="1" height="1" fill="#feb72f"/><rect x="0.5" y="1.5" width="1" height="1" fill="#fc582e"/><rect x="1.5" y="1.5" width="4" height="1" fill="#feb72f"/><rect x="5.5" y="1.5" width="1" height="1" fill="#fc582e"/><rect x="6.5" y="1.5" width="6" height="1" fill="#feb72f"/><rect x="12.5" y="1.5" width="2" height="1" fill="#fc582e"/><rect x="-0.5" y="2.5" width="12" height="1" fill="#feb72f"/><rect x="11.5" y="2.5" width="3" height="1" fill="#fc582e"/><rect x="-0.5" y="3.5" width="13" height="1" fill="#feb72f"/><rect x="12.5" y="3.5" width="2" height="1" fill="#fc582e"/><rect x="-0.5" y="4.5" width="2" height="1" fill="#feb72f"/><rect x="1.5" y="4.5" width="1" height="1" fill="#fef73c"/><rect x="2.5" y="4.5" width="10" height="1" fill="#feb72f"/><rect x="12.5" y="4.5" width="2" height="1" fill="#fc582e"/><rect x="-0.5" y="5.5" width="3" height="1" fill="#fef73c"/><rect x="2.5" y="5.5" width="11" height="1" fill="#feb72f"/><rect x="13.5" y="5.5" width="1" height="1" fill="#fc582e"/><rect x="-0.5" y="6.5" width="3" height="1" fill="#fef73c"/><rect x="2.5" y="6.5" width="12" height="1" fill="#feb72f"/><rect x="-0.5" y="7.5" width="2" height="1" fill="#fef73c"/><rect x="1.5" y="7.5" width="13" height="1" fill="#feb72f"/><rect x="-0.5" y="8.5" width="2" height="1" fill="#fef73c"/><rect x="1.5" y="8.5" width="13" height="1" fill="#feb72f"/><rect x="-0.5" y="9.5" width="1" height="1" fill="#fef73c"/><rect x="0.5" y="9.5" width="14" height="1" fill="#feb72f"/><rect x="-0.5" y="10.5" width="1" height="1" fill="#fef73c"/><rect x="0.5" y="10.5" width="4" height="1" fill="#feb72f"/><rect x="4.5" y="10.5" width="2" height="1" fill="#80cb4a"/><rect x="6.5" y="10.5" width="8" height="1" fill="#feb72f"/><rect x="-0.5" y="11.5" width="1" height="1" fill="#feb72f"/><rect x="0.5" y="11.5" width="1" height="1" fill="#fef73c"/><rect x="1.5" y="11.5" width="3" height="1" fill="#feb72f"/><rect x="4.5" y="11.5" width="2" height="1" fill="#fef73c"/><rect x="6.5" y="11.5" width="8" height="1" fill="#feb72f"/><rect x="-0.5" y="12.5" width="7" height="1" fill="#fef73c"/><rect x="6.5" y="12.5" width="8" height="1" fill="#feb72f"/><rect x="-0.5" y="13.5" width="7" height="1" fill="#fef73c"/><rect x="6.5" y="13.5" width="8" height="1" fill="#feb72f"/><rect x="0" y="0" width="14" height="14" fill="none" stroke="#707060" stroke-width="0.7" vector-effect="non-scaling-stroke"/><path d="M0.280 0V0.360M0.280 14V13.640M1.084 0V0.206M1.084 14V13.794M1.888 0V0.206M1.888 14V13.794M2.692 0V0.360M2.692 14V13.640M3.497 0V0.206M3.497 14V13.794M4.301 0V0.206M4.301 14V13.794M5.105 0V0.360M5.105 14V13.640M5.909 0V0.206M5.909 14V13.794M6.713 0V0.206M6.713 14V13.794M7.518 0V0.360M7.518 14V13.640M8.322 0V0.206M8.322 14V13.794M9.126 0V0.206M9.126 14V13.794M9.930 0V0.360M9.930 14V13.640M10.734 0V0.206M10.734 14V13.794M11.539 0V0.206M11.539 14V13.794M12.343 0V0.360M12.343 14V13.640M13.147 0V0.206M13.147 14V13.794M0 0.093H0.370M14 0.093H13.630M0 1.162H0.211M14 1.162H13.789M0 2.231H0.211M14 2.231H13.789M0 3.300H0.211M14 3.300H13.789M0 4.369H0.370M14 4.369H13.630M0 5.438H0.211M14 5.438H13.789M0 6.507H0.211M14 6.507H13.789M0 7.576H0.211M14 7.576H13.789M0 8.645H0.370M14 8.645H13.630M0 9.714H0.211M14 9.714H13.789M0 10.783H0.211M14 10.783H13.789M0 11.852H0.211M14 11.852H13.789M0 12.921H0.370M14 12.921H13.630" stroke="#555548" stroke-width="0.6" fill="none" vector-effect="non-scaling-stroke"/></svg><svg class="p" style="left:6.30px;top:524.10px" width="133.70" height="136.90" viewBox="0 0 14 14" preserveAspectRatio="none" shape-rendering="crispEdges"><rect x="-0.5" y="-0.5" width="3" height="1" fill="#5e2f8e"/><rect x="2.5" y="-0.5" width="3" height="1" fill="#d2283c"/><rect x="5.5" y="-0.5" width="9" height="1" fill="#fc582e"/><rect x="-0.5" y="0.5" width="3" height="1" fill="#5e2f8e"/><rect x="2.5" y="0.5" width="2" height="1" fill="#d2283c"/><rect x="4.5" y="0.5" width="10" height="1" fill="#fc582e"/><rect x="-0.5" y="1.5" width="3" height="1" fill="#5e2f8e"/><rect x="2.5" y="1.5" width="3" height="1" fill="#d2283c"/><rect x="5.5" y="1.5" width="4" height="1" fill="#fc582e"/><rect x="9.5" y="1.5" width="1" height="1" fill="#feb72f"/><rect x="10.5" y="1.5" width="4" height="1" fill="#fc582e"/><rect x="-0.5" y="2.5" width="3" height="1" fill="#5e2f8e"/><rect x="2.5" y="2.5" width="3" height="1" fill="#d2283c"/><rect x="5.5" y="2.5" width="3" height="1" fill="#fc582e"/><rect x="8.5" y="2.5" width="5" height="1" fill="#feb72f"/><rect x="13.5" y="2.5" width="1" height="1" fill="#fc582e"/><rect x="-0.5" y="3.5" width="4" height="1" fill="#5e2f8e"/><rect x="3.5" y="3.5" width="2" height="1" fill="#d2283c"/><rect x="5.5" y="3.5" width="3" height="1" fill="#fc582e"/><rect x="8.5" y="3.5" width="5" height="1" fill="#feb72f"/><rect x="13.5" y="3.5" width="1" height="1" fill="#fc582e"/><rect x="-0.5" y="4.5" width="4" height="1" fill="#5e2f8e"/><rect x="3.5" y="4.5" width="2" height="1" fill="#d2283c"/><rect x="5.5" y="4.5" width="2" height="1" fill="#fc582e"/><rect x="7.5" y="4.5" width="7" height="1" fill="#feb72f"/><rect x="-0.5" y="5.5" width="4" height="1" fill="#5e2f8e"/><rect x="3.5" y="5.5" width="2" height="1" fill="#d2283c"/><rect x="5.5" y="5.5" width="2" height="1" fill="#fc582e"/><rect x="7.5" y="5.5" width="7" height="1" fill="#feb72f"/><rect x="-0.5" y="6.5" width="4" height="1" fill="#5e2f8e"/><rect x="3.5" y="6.5" width="1" height="1" fill="#d2283c"/><rect x="4.5" y="6.5" width="3" height="1" fill="#fc582e"/><rect x="7.5" y="6.5" width="7" height="1" fill="#feb72f"/><rect x="-0.5" y="7.5" width="4" height="1" fill="#5e2f8e"/><rect x="3.5" y="7.5" width="3" height="1" fill="#fc582e"/><rect x="6.5" y="7.5" width="8" height="1" fill="#feb72f"/><rect x="-0.5" y="8.5" width="3" height="1" fill="#5e2f8e"/><rect x="2.5" y="8.5" width="1" height="1" fill="#d2283c"/><rect x="3.5" y="8.5" width="3" height="1" fill="#fc582e"/><rect x="6.5" y="8.5" width="8" height="1" fill="#feb72f"/><rect x="-0.5" y="9.5" width="3" height="1" fill="#5e2f8e"/><rect x="2.5" y="9.5" width="1" height="1" fill="#d2283c"/><rect x="3.5" y="9.5" width="3" height="1" fill="#fc582e"/><rect x="6.5" y="9.5" width="8" height="1" fill="#feb72f"/><rect x="-0.5" y="10.5" width="3" height="1" fill="#5e2f8e"/><rect x="2.5" y="10.5" width="1" height="1" fill="#d2283c"/><rect x="3.5" y="10.5" width="3" height="1" fill="#fc582e"/><rect x="6.5" y="10.5" width="8" height="1" fill="#feb72f"/><rect x="-0.5" y="11.5" width="2" height="1" fill="#5e2f8e"/><rect x="1.5" y="11.5" width="1" height="1" fill="#d2283c"/><rect x="2.5" y="11.5" width="4" height="1" fill="#fc582e"/><rect x="6.5" y="11.5" width="8" height="1" fill="#feb72f"/><rect x="-0.5" y="12.5" width="1" height="1" fill="#5e2f8e"/><rect x="0.5" y="12.5" width="2" height="1" fill="#d2283c"/><rect x="2.5" y="12.5" width="4" height="1" fill="#fc582e"/><rect x="6.5" y="12.5" width="8" height="1" fill="#feb72f"/><rect x="-0.5" y="13.5" width="3" height="1" fill="#d2283c"/><rect x="2.5" y="13.5" width="4" height="1" fill="#fc582e"/><rect x="6.5" y="13.5" width="8" height="1" fill="#feb72f"/><rect x="0" y="0" width="14" height="14" fill="none" stroke="#707060" stroke-width="0.7" vector-effect="non-scaling-stroke"/><path d="M0.277 0V0.358M0.277 14V13.642M1.075 0V0.205M1.075 14V13.795M1.873 0V0.205M1.873 14V13.795M2.670 0V0.358M2.670 14V13.642M3.468 0V0.205M3.468 14V13.795M4.265 0V0.205M4.265 14V13.795M5.063 0V0.358M5.063 14V13.642M5.861 0V0.205M5.861 14V13.795M6.658 0V0.205M6.658 14V13.795M7.456 0V0.358M7.456 14V13.642M8.253 0V0.205M8.253 14V13.795M9.051 0V0.205M9.051 14V13.795M9.849 0V0.358M9.849 14V13.642M10.646 0V0.205M10.646 14V13.795M11.444 0V0.205M11.444 14V13.795M12.241 0V0.358M12.241 14V13.642M13.039 0V0.205M13.039 14V13.795M13.837 0V0.205M13.837 14V13.795M0 0.092H0.366M14 0.092H13.634M0 1.156H0.209M14 1.156H13.791M0 2.219H0.209M14 2.219H13.791M0 3.283H0.209M14 3.283H13.791M0 4.346H0.366M14 4.346H13.634M0 5.410H0.209M14 5.410H13.791M0 6.473H0.209M14 6.473H13.791M0 7.537H0.209M14 7.537H13.791M0 8.600H0.366M14 8.600H13.634M0 9.664H0.209M14 9.664H13.791M0 10.728H0.209M14 10.728H13.791M0 11.791H0.209M14 11.791H13.791M0 12.855H0.366M14 12.855H13.634M0 13.918H0.209M14 13.918H13.791" stroke="#555548" stroke-width="0.6" fill="none" vector-effect="non-scaling-stroke"/></svg><svg class="p" style="left:146.30px;top:531.10px" width="128.90" height="131.40" viewBox="0 0 14 14" preserveAspectRatio="none" shape-rendering="crispEdges"><rect x="-0.5" y="-0.5" width="4" height="1" fill="#d2283c"/><rect x="3.5" y="-0.5" width="8" height="1" fill="#fc582e"/><rect x="11.5" y="-0.5" width="3" height="1" fill="#feb72f"/><rect x="-0.5" y="0.5" width="4" height="1" fill="#d2283c"/><rect x="3.5" y="0.5" width="4" height="1" fill="#fc582e"/><rect x="7.5" y="0.5" width="7" height="1" fill="#feb72f"/><rect x="-0.5" y="1.5" width="1" height="1" fill="#5e2f8e"/><rect x="0.5" y="1.5" width="3" height="1" fill="#d2283c"/><rect x="3.5" y="1.5" width="4" height="1" fill="#fc582e"/><rect x="7.5" y="1.5" width="4" height="1" fill="#feb72f"/><rect x="11.5" y="1.5" width="1" height="1" fill="#fc582e"/><rect x="12.5" y="1.5" width="2" height="1" fill="#feb72f"/><rect x="-0.5" y="2.5" width="1" height="1" fill="#5e2f8e"/><rect x="0.5" y="2.5" width="3" height="1" fill="#d2283c"/><rect x="3.5" y="2.5" width="4" height="1" fill="#fc582e"/><rect x="7.5" y="2.5" width="7" height="1" fill="#feb72f"/><rect x="-0.5" y="3.5" width="2" height="1" fill="#5e2f8e"/><rect x="1.5" y="3.5" width="3" height="1" fill="#d2283c"/><rect x="4.5" y="3.5" width="3" height="1" fill="#fc582e"/><rect x="7.5" y="3.5" width="7" height="1" fill="#feb72f"/><rect x="-0.5" y="4.5" width="2" height="1" fill="#5e2f8e"/><rect x="1.5" y="4.5" width="3" height="1" fill="#d2283c"/><rect x="4.5" y="4.5" width="2" height="1" fill="#fc582e"/><rect x="6.5" y="4.5" width="8" height="1" fill="#feb72f"/><rect x="-0.5" y="5.5" width="3" height="1" fill="#5e2f8e"/><rect x="2.5" y="5.5" width="2" height="1" fill="#d2283c"/><rect x="4.5" y="5.5" width="2" height="1" fill="#fc582e"/><rect x="6.5" y="5.5" width="8" height="1" fill="#feb72f"/><rect x="-0.5" y="6.5" width="3" height="1" fill="#5e2f8e"/><rect x="2.5" y="6.5" width="1" height="1" fill="#d2283c"/><rect x="3.5" y="6.5" width="2" height="1" fill="#fc582e"/><rect x="5.5" y="6.5" width="9" height="1" fill="#feb72f"/><rect x="-0.5" y="7.5" width="3" height="1" fill="#5e2f8e"/><rect x="2.5" y="7.5" width="1" height="1" fill="#d2283c"/><rect x="3.5" y="7.5" width="1" height="1" fill="#fc582e"/><rect x="4.5" y="7.5" width="10" height="1" fill="#feb72f"/><rect x="-0.5" y="8.5" width="3" height="1" fill="#5e2f8e"/><rect x="2.5" y="8.5" width="1" height="1" fill="#d2283c"/><rect x="3.5" y="8.5" width="1" height="1" fill="#fc582e"/><rect x="4.5" y="8.5" width="10" height="1" fill="#feb72f"/><rect x="-0.5" y="9.5" width="2" height="1" fill="#5e2f8e"/><rect x="1.5" y="9.5" width="1" height="1" fill="#d2283c"/><rect x="2.5" y="9.5" width="2" height="1" fill="#fc582e"/><rect x="4.5" y="9.5" width="10" height="1" fill="#feb72f"/><rect x="-0.5" y="10.5" width="2" height="1" fill="#5e2f8e"/><rect x="1.5" y="10.5" width="1" height="1" fill="#d2283c"/><rect x="2.5" y="10.5" width="2" height="1" fill="#fc582e"/><rect x="4.5" y="10.5" width="10" height="1" fill="#feb72f"/><rect x="-0.5" y="11.5" width="1" height="1" fill="#5e2f8e"/><rect x="0.5" y="11.5" width="2" height="1" fill="#d2283c"/><rect x="2.5" y="11.5" width="2" height="1" fill="#fc582e"/><rect x="4.5" y="11.5" width="10" height="1" fill="#feb72f"/><rect x="-0.5" y="12.5" width="2" height="1" fill="#d2283c"/><rect x="1.5" y="12.5" width="3" height="1" fill="#fc582e"/><rect x="4.5" y="12.5" width="10" height="1" fill="#feb72f"/><rect x="-0.5" y="13.5" width="2" height="1" fill="#d2283c"/><rect x="1.5" y="13.5" width="3" height="1" fill="#fc582e"/><rect x="4.5" y="13.5" width="10" height="1" fill="#feb72f"/><rect x="0" y="0" width="14" height="14" fill="none" stroke="#707060" stroke-width="0.7" vector-effect="non-scaling-stroke"/><path d="M0.288 0V0.373M0.288 14V13.627M1.115 0V0.213M1.115 14V13.787M1.942 0V0.213M1.942 14V13.787M2.770 0V0.373M2.770 14V13.627M3.597 0V0.213M3.597 14V13.787M4.424 0V0.213M4.424 14V13.787M5.252 0V0.373M5.252 14V13.627M6.079 0V0.213M6.079 14V13.787M6.906 0V0.213M6.906 14V13.787M7.733 0V0.373M7.733 14V13.627M8.561 0V0.213M8.561 14V13.787M9.388 0V0.213M9.388 14V13.787M10.215 0V0.373M10.215 14V13.627M11.043 0V0.213M11.043 14V13.787M11.870 0V0.213M11.870 14V13.787M12.697 0V0.373M12.697 14V13.627M13.524 0V0.213M13.524 14V13.787M0 0.096H0.380M14 0.096H13.620M0 1.204H0.217M14 1.204H13.783M0 2.312H0.217M14 2.312H13.783M0 3.420H0.217M14 3.420H13.783M0 4.528H0.380M14 4.528H13.620M0 5.636H0.217M14 5.636H13.783M0 6.744H0.217M14 6.744H13.783M0 7.852H0.217M14 7.852H13.783M0 8.960H0.380M14 8.960H13.620M0 10.068H0.217M14 10.068H13.783M0 11.177H0.217M14 11.177H13.783M0 12.285H0.217M14 12.285H13.783M0 13.393H0.380M14 13.393H13.620" stroke="#555548" stroke-width="0.6" fill="none" vector-effect="non-scaling-stroke"/></svg><svg class="p" style="left:282.00px;top:531.10px" width="129.00" height="131.90" viewBox="0 0 14 14" preserveAspectRatio="none" shape-rendering="crispEdges"><rect x="-0.5" y="-0.5" width="5" height="1" fill="#fc582e"/><rect x="4.5" y="-0.5" width="10" height="1" fill="#feb72f"/><rect x="-0.5" y="0.5" width="5" height="1" fill="#fc582e"/><rect x="4.5" y="0.5" width="10" height="1" fill="#feb72f"/><rect x="-0.5" y="1.5" width="6" height="1" fill="#fc582e"/><rect x="5.5" y="1.5" width="9" height="1" fill="#feb72f"/><rect x="-0.5" y="2.5" width="6" height="1" fill="#fc582e"/><rect x="5.5" y="2.5" width="9" height="1" fill="#feb72f"/><rect x="-0.5" y="3.5" width="3" height="1" fill="#d2283c"/><rect x="2.5" y="3.5" width="3" height="1" fill="#fc582e"/><rect x="5.5" y="3.5" width="9" height="1" fill="#feb72f"/><rect x="-0.5" y="4.5" width="3" height="1" fill="#d2283c"/><rect x="2.5" y="4.5" width="3" height="1" fill="#fc582e"/><rect x="5.5" y="4.5" width="9" height="1" fill="#feb72f"/><rect x="-0.5" y="5.5" width="3" height="1" fill="#d2283c"/><rect x="2.5" y="5.5" width="3" height="1" fill="#fc582e"/><rect x="5.5" y="5.5" width="9" height="1" fill="#feb72f"/><rect x="-0.5" y="6.5" width="2" height="1" fill="#5e2f8e"/><rect x="1.5" y="6.5" width="2" height="1" fill="#d2283c"/><rect x="3.5" y="6.5" width="1" height="1" fill="#fc582e"/><rect x="4.5" y="6.5" width="6" height="1" fill="#feb72f"/><rect x="10.5" y="6.5" width="4" height="1" fill="#fef73c"/><rect x="-0.5" y="7.5" width="2" height="1" fill="#5e2f8e"/><rect x="1.5" y="7.5" width="1" height="1" fill="#d2283c"/><rect x="2.5" y="7.5" width="1" height="1" fill="#fc582e"/><rect x="3.5" y="7.5" width="6" height="1" fill="#feb72f"/><rect x="9.5" y="7.5" width="5" height="1" fill="#fef73c"/><rect x="-0.5" y="8.5" width="2" height="1" fill="#5e2f8e"/><rect x="1.5" y="8.5" width="1" height="1" fill="#d2283c"/><rect x="2.5" y="8.5" width="1" height="1" fill="#fc582e"/><rect x="3.5" y="8.5" width="5" height="1" fill="#feb72f"/><rect x="8.5" y="8.5" width="6" height="1" fill="#fef73c"/><rect x="-0.5" y="9.5" width="2" height="1" fill="#5e2f8e"/><rect x="1.5" y="9.5" width="1" height="1" fill="#d2283c"/><rect x="2.5" y="9.5" width="1" height="1" fill="#fc582e"/><rect x="3.5" y="9.5" width="5" height="1" fill="#feb72f"/><rect x="8.5" y="9.5" width="6" height="1" fill="#fef73c"/><rect x="-0.5" y="10.5" width="1" height="1" fill="#5e2f8e"/><rect x="0.5" y="10.5" width="1" height="1" fill="#d2283c"/><rect x="1.5" y="10.5" width="2" height="1" fill="#fc582e"/><rect x="3.5" y="10.5" width="5" height="1" fill="#feb72f"/><rect x="8.5" y="10.5" width="6" height="1" fill="#fef73c"/><rect x="-0.5" y="11.5" width="2" height="1" fill="#d2283c"/><rect x="1.5" y="11.5" width="1" height="1" fill="#fc582e"/><rect x="2.5" y="11.5" width="7" height="1" fill="#feb72f"/><rect x="9.5" y="11.5" width="5" height="1" fill="#fef73c"/><rect x="-0.5" y="12.5" width="1" height="1" fill="#d2283c"/><rect x="0.5" y="12.5" width="2" height="1" fill="#fc582e"/><rect x="2.5" y="12.5" width="7" height="1" fill="#feb72f"/><rect x="9.5" y="12.5" width="5" height="1" fill="#fef73c"/><rect x="-0.5" y="13.5" width="1" height="1" fill="#d2283c"/><rect x="0.5" y="13.5" width="2" height="1" fill="#fc582e"/><rect x="2.5" y="13.5" width="7" height="1" fill="#feb72f"/><rect x="9.5" y="13.5" width="5" height="1" fill="#fef73c"/><rect x="0" y="0" width="14" height="14" fill="none" stroke="#707060" stroke-width="0.7" vector-effect="non-scaling-stroke"/><path d="M0.288 0V0.371M0.288 14V13.629M1.114 0V0.212M1.114 14V13.788M1.941 0V0.212M1.941 14V13.788M2.768 0V0.371M2.768 14V13.629M3.594 0V0.212M3.594 14V13.788M4.421 0V0.212M4.421 14V13.788M5.248 0V0.371M5.248 14V13.629M6.074 0V0.212M6.074 14V13.788M6.901 0V0.212M6.901 14V13.788M7.727 0V0.371M7.727 14V13.629M8.554 0V0.212M8.554 14V13.788M9.381 0V0.212M9.381 14V13.788M10.207 0V0.371M10.207 14V13.629M11.034 0V0.212M11.034 14V13.788M11.861 0V0.212M11.861 14V13.788M12.687 0V0.371M12.687 14V13.629M13.514 0V0.212M13.514 14V13.788M0 0.096H0.380M14 0.096H13.620M0 1.199H0.217M14 1.199H13.783M0 2.303H0.217M14 2.303H13.783M0 3.407H0.217M14 3.407H13.783M0 4.511H0.380M14 4.511H13.620M0 5.615H0.217M14 5.615H13.783M0 6.719H0.217M14 6.719H13.783M0 7.823H0.217M14 7.823H13.783M0 8.926H0.380M14 8.926H13.620M0 10.030H0.217M14 10.030H13.783M0 11.134H0.217M14 11.134H13.783M0 12.238H0.217M14 12.238H13.783M0 13.342H0.380M14 13.342H13.620" stroke="#555548" stroke-width="0.6" fill="none" vector-effect="non-scaling-stroke"/></svg><svg class="p" style="left:417.80px;top:530.30px" width="131.90" height="136.40" viewBox="0 0 14 14" preserveAspectRatio="none" shape-rendering="crispEdges"><rect x="-0.5" y="-0.5" width="15" height="1" fill="#4457ad"/><rect x="-0.5" y="0.5" width="1" height="1" fill="#21805f"/><rect x="0.5" y="0.5" width="1" height="1" fill="#80cb4a"/><rect x="1.5" y="0.5" width="3" height="1" fill="#fef73c"/><rect x="4.5" y="0.5" width="3" height="1" fill="#4457ad"/><rect x="7.5" y="0.5" width="1" height="1" fill="#21805f"/><rect x="8.5" y="0.5" width="5" height="1" fill="#fef73c"/><rect x="13.5" y="0.5" width="1" height="1" fill="#4457ad"/><rect x="-0.5" y="1.5" width="2" height="1" fill="#80cb4a"/><rect x="1.5" y="1.5" width="5" height="1" fill="#fef73c"/><rect x="6.5" y="1.5" width="1" height="1" fill="#4457ad"/><rect x="7.5" y="1.5" width="1" height="1" fill="#21805f"/><rect x="8.5" y="1.5" width="6" height="1" fill="#fef73c"/><rect x="-0.5" y="2.5" width="1" height="1" fill="#fef73c"/><rect x="0.5" y="2.5" width="2" height="1" fill="#feb72f"/><rect x="2.5" y="2.5" width="1" height="1" fill="#fc582e"/><rect x="3.5" y="2.5" width="1" height="1" fill="#feb72f"/><rect x="4.5" y="2.5" width="2" height="1" fill="#fef73c"/><rect x="6.5" y="2.5" width="2" height="1" fill="#21805f"/><rect x="8.5" y="2.5" width="3" height="1" fill="#fef73c"/><rect x="11.5" y="2.5" width="1" height="1" fill="#feb72f"/><rect x="12.5" y="2.5" width="2" height="1" fill="#fef73c"/><rect x="-0.5" y="3.5" width="2" height="1" fill="#feb72f"/><rect x="1.5" y="3.5" width="2" height="1" fill="#fef73c"/><rect x="3.5" y="3.5" width="2" height="1" fill="#feb72f"/><rect x="5.5" y="3.5" width="1" height="1" fill="#fef73c"/><rect x="6.5" y="3.5" width="2" height="1" fill="#21805f"/><rect x="8.5" y="3.5" width="6" height="1" fill="#fef73c"/><rect x="-0.5" y="4.5" width="1" height="1" fill="#fc582e"/><rect x="0.5" y="4.5" width="6" height="1" fill="#feb72f"/><rect x="6.5" y="4.5" width="1" height="1" fill="#21805f"/><rect x="7.5" y="4.5" width="1" height="1" fill="#80cb4a"/><rect x="8.5" y="4.5" width="6" height="1" fill="#fef73c"/><rect x="-0.5" y="5.5" width="4" height="1" fill="#fc582e"/><rect x="3.5" y="5.5" width="3" height="1" fill="#feb72f"/><rect x="6.5" y="5.5" width="1" height="1" fill="#21805f"/><rect x="7.5" y="5.5" width="1" height="1" fill="#80cb4a"/><rect x="8.5" y="5.5" width="6" height="1" fill="#fef73c"/><rect x="-0.5" y="6.5" width="6" height="1" fill="#fc582e"/><rect x="5.5" y="6.5" width="1" height="1" fill="#feb72f"/><rect x="6.5" y="6.5" width="8" height="1" fill="#fef73c"/><rect x="-0.5" y="7.5" width="3" height="1" fill="#d2283c"/><rect x="2.5" y="7.5" width="4" height="1" fill="#fc582e"/><rect x="6.5" y="7.5" width="1" height="1" fill="#feb72f"/><rect x="7.5" y="7.5" width="3" height="1" fill="#fef73c"/><rect x="10.5" y="7.5" width="1" height="1" fill="#21805f"/><rect x="11.5" y="7.5" width="1" height="1" fill="#4457ad"/><rect x="12.5" y="7.5" width="2" height="1" fill="#fef73c"/><rect x="-0.5" y="8.5" width="1" height="1" fill="#5e2f8e"/><rect x="0.5" y="8.5" width="5" height="1" fill="#d2283c"/><rect x="5.5" y="8.5" width="1" height="1" fill="#fc582e"/><rect x="6.5" y="8.5" width="2" height="1" fill="#feb72f"/><rect x="8.5" y="8.5" width="2" height="1" fill="#fef73c"/><rect x="10.5" y="8.5" width="2" height="1" fill="#80cb4a"/><rect x="12.5" y="8.5" width="2" height="1" fill="#fef73c"/><rect x="-0.5" y="9.5" width="3" height="1" fill="#5e2f8e"/><rect x="2.5" y="9.5" width="4" height="1" fill="#d2283c"/><rect x="6.5" y="9.5" width="2" height="1" fill="#feb72f"/><rect x="8.5" y="9.5" width="2" height="1" fill="#fef73c"/><rect x="10.5" y="9.5" width="3" height="1" fill="#feb72f"/><rect x="13.5" y="9.5" width="1" height="1" fill="#fef73c"/><rect x="-0.5" y="10.5" width="3" height="1" fill="#5e2f8e"/><rect x="2.5" y="10.5" width="1" height="1" fill="#fc582e"/><rect x="3.5" y="10.5" width="1" height="1" fill="#4457ad"/><rect x="4.5" y="10.5" width="2" height="1" fill="#d2283c"/><rect x="6.5" y="10.5" width="1" height="1" fill="#fc582e"/><rect x="7.5" y="10.5" width="6" height="1" fill="#feb72f"/><rect x="13.5" y="10.5" width="1" height="1" fill="#fef73c"/><rect x="-0.5" y="11.5" width="4" height="1" fill="#5e2f8e"/><rect x="3.5" y="11.5" width="1" height="1" fill="#d2283c"/><rect x="4.5" y="11.5" width="1" height="1" fill="#5e2f8e"/><rect x="5.5" y="11.5" width="1" height="1" fill="#d2283c"/><rect x="6.5" y="11.5" width="1" height="1" fill="#fc582e"/><rect x="7.5" y="11.5" width="7" height="1" fill="#feb72f"/><rect x="-0.5" y="12.5" width="7" height="1" fill="#5e2f8e"/><rect x="6.5" y="12.5" width="1" height="1" fill="#fc582e"/><rect x="7.5" y="12.5" width="7" height="1" fill="#feb72f"/><rect x="-0.5" y="13.5" width="7" height="1" fill="#5e2f8e"/><rect x="6.5" y="13.5" width="1" height="1" fill="#d2283c"/><rect x="7.5" y="13.5" width="2" height="1" fill="#fc582e"/><rect x="9.5" y="13.5" width="5" height="1" fill="#feb72f"/><rect x="0" y="0" width="14" height="14" fill="none" stroke="#707060" stroke-width="0.7" vector-effect="non-scaling-stroke"/><path d="M0.281 0V0.359M0.281 14V13.641M1.090 0V0.205M1.090 14V13.795M1.898 0V0.205M1.898 14V13.795M2.707 0V0.359M2.707 14V13.641M3.515 0V0.205M3.515 14V13.795M4.324 0V0.205M4.324 14V13.795M5.132 0V0.359M5.132 14V13.641M5.941 0V0.205M5.941 14V13.795M6.749 0V0.205M6.749 14V13.795M7.558 0V0.359M7.558 14V13.641M8.366 0V0.205M8.366 14V13.795M9.175 0V0.205M9.175 14V13.795M9.983 0V0.359M9.983 14V13.641M10.791 0V0.205M10.791 14V13.795M11.600 0V0.205M11.600 14V13.795M12.408 0V0.359M12.408 14V13.641M13.217 0V0.205M13.217 14V13.795M0 0.092H0.371M14 0.092H13.629M0 1.160H0.212M14 1.160H13.788M0 2.227H0.212M14 2.227H13.788M0 3.295H0.212M14 3.295H13.788M0 4.362H0.371M14 4.362H13.629M0 5.430H0.212M14 5.430H13.788M0 6.497H0.212M14 6.497H13.788M0 7.565H0.212M14 7.565H13.788M0 8.632H0.371M14 8.632H13.629M0 9.699H0.212M14 9.699H13.788M0 10.767H0.212M14 10.767H13.788M0 11.834H0.212M14 11.834H13.788M0 12.902H0.371M14 12.902H13.629" stroke="#555548" stroke-width="0.6" fill="none" vector-effect="non-scaling-stroke"/></svg><svg class="p" style="left:556.30px;top:530.00px" width="132.60" height="136.40" viewBox="0 0 14 14" preserveAspectRatio="none" shape-rendering="crispEdges"><rect x="-0.5" y="-0.5" width="15" height="1" fill="#4457ad"/><rect x="-0.5" y="0.5" width="1" height="1" fill="#feb72f"/><rect x="0.5" y="0.5" width="3" height="1" fill="#fc582e"/><rect x="3.5" y="0.5" width="10" height="1" fill="#feb72f"/><rect x="13.5" y="0.5" width="1" height="1" fill="#4457ad"/><rect x="-0.5" y="1.5" width="3" height="1" fill="#fc582e"/><rect x="2.5" y="1.5" width="1" height="1" fill="#d2283c"/><rect x="3.5" y="1.5" width="2" height="1" fill="#fc582e"/><rect x="5.5" y="1.5" width="9" height="1" fill="#feb72f"/><rect x="-0.5" y="2.5" width="1" height="1" fill="#d2283c"/><rect x="0.5" y="2.5" width="5" height="1" fill="#fc582e"/><rect x="5.5" y="2.5" width="9" height="1" fill="#feb72f"/><rect x="-0.5" y="3.5" width="2" height="1" fill="#5e2f8e"/><rect x="1.5" y="3.5" width="2" height="1" fill="#d2283c"/><rect x="3.5" y="3.5" width="2" height="1" fill="#fc582e"/><rect x="5.5" y="3.5" width="9" height="1" fill="#feb72f"/><rect x="-0.5" y="4.5" width="4" height="1" fill="#5e2f8e"/><rect x="3.5" y="4.5" width="1" height="1" fill="#d2283c"/><rect x="4.5" y="4.5" width="2" height="1" fill="#fc582e"/><rect x="6.5" y="4.5" width="8" height="1" fill="#feb72f"/><rect x="-0.5" y="5.5" width="3" height="1" fill="#5e2f8e"/><rect x="2.5" y="5.5" width="1" height="1" fill="#d2283c"/><rect x="3.5" y="5.5" width="3" height="1" fill="#fc582e"/><rect x="6.5" y="5.5" width="8" height="1" fill="#feb72f"/><rect x="-0.5" y="6.5" width="3" height="1" fill="#5e2f8e"/><rect x="2.5" y="6.5" width="1" height="1" fill="#d2283c"/><rect x="3.5" y="6.5" width="2" height="1" fill="#fc582e"/><rect x="5.5" y="6.5" width="9" height="1" fill="#feb72f"/><rect x="-0.5" y="7.5" width="4" height="1" fill="#5e2f8e"/><rect x="3.5" y="7.5" width="2" height="1" fill="#fc582e"/><rect x="5.5" y="7.5" width="9" height="1" fill="#feb72f"/><rect x="-0.5" y="8.5" width="3" height="1" fill="#5e2f8e"/><rect x="2.5" y="8.5" width="1" height="1" fill="#d2283c"/><rect x="3.5" y="8.5" width="2" height="1" fill="#fc582e"/><rect x="5.5" y="8.5" width="9" height="1" fill="#feb72f"/><rect x="-0.5" y="9.5" width="3" height="1" fill="#5e2f8e"/><rect x="2.5" y="9.5" width="1" height="1" fill="#d2283c"/><rect x="3.5" y="9.5" width="3" height="1" fill="#fc582e"/><rect x="6.5" y="9.5" width="8" height="1" fill="#feb72f"/><rect x="-0.5" y="10.5" width="3" height="1" fill="#5e2f8e"/><rect x="2.5" y="10.5" width="1" height="1" fill="#d2283c"/><rect x="3.5" y="10.5" width="3" height="1" fill="#fc582e"/><rect x="6.5" y="10.5" width="8" height="1" fill="#feb72f"/><rect x="-0.5" y="11.5" width="4" height="1" fill="#5e2f8e"/><rect x="3.5" y="11.5" width="1" height="1" fill="#fc582e"/><rect x="4.5" y="11.5" width="2" height="1" fill="#80cb4a"/><rect x="6.5" y="11.5" width="1" height="1" fill="#fc582e"/><rect x="7.5" y="11.5" width="7" height="1" fill="#feb72f"/><rect x="-0.5" y="12.5" width="4" height="1" fill="#5e2f8e"/><rect x="3.5" y="12.5" width="1" height="1" fill="#d2283c"/><rect x="4.5" y="12.5" width="5" height="1" fill="#fc582e"/><rect x="9.5" y="12.5" width="5" height="1" fill="#feb72f"/><rect x="-0.5" y="13.5" width="4" height="1" fill="#5e2f8e"/><rect x="3.5" y="13.5" width="1" height="1" fill="#d2283c"/><rect x="4.5" y="13.5" width="5" height="1" fill="#fc582e"/><rect x="9.5" y="13.5" width="5" height="1" fill="#feb72f"/><rect x="0" y="0" width="14" height="14" fill="none" stroke="#707060" stroke-width="0.7" vector-effect="non-scaling-stroke"/><path d="M0.280 0V0.359M0.280 14V13.641M1.084 0V0.205M1.084 14V13.795M1.888 0V0.205M1.888 14V13.795M2.692 0V0.359M2.692 14V13.641M3.497 0V0.205M3.497 14V13.795M4.301 0V0.205M4.301 14V13.795M5.105 0V0.359M5.105 14V13.641M5.909 0V0.205M5.909 14V13.795M6.713 0V0.205M6.713 14V13.795M7.518 0V0.359M7.518 14V13.641M8.322 0V0.205M8.322 14V13.795M9.126 0V0.205M9.126 14V13.795M9.930 0V0.359M9.930 14V13.641M10.734 0V0.205M10.734 14V13.795M11.539 0V0.205M11.539 14V13.795M12.343 0V0.359M12.343 14V13.641M13.147 0V0.205M13.147 14V13.795M0 0.092H0.370M14 0.092H13.630M0 1.160H0.211M14 1.160H13.789M0 2.227H0.211M14 2.227H13.789M0 3.295H0.211M14 3.295H13.789M0 4.362H0.370M14 4.362H13.630M0 5.430H0.211M14 5.430H13.789M0 6.497H0.211M14 6.497H13.789M0 7.565H0.211M14 7.565H13.789M0 8.632H0.370M14 8.632H13.630M0 9.699H0.211M14 9.699H13.789M0 10.767H0.211M14 10.767H13.789M0 11.834H0.211M14 11.834H13.789M0 12.902H0.370M14 12.902H13.630" stroke="#555548" stroke-width="0.6" fill="none" vector-effect="non-scaling-stroke"/></svg><svg class="p" style="left:6.30px;top:762.00px" width="130.90" height="136.00" viewBox="0 0 14 14" preserveAspectRatio="none" shape-rendering="crispEdges"><rect x="-0.5" y="-0.5" width="4" height="1" fill="#fdf53c"/><rect x="3.5" y="-0.5" width="2" height="1" fill="#fdd93a"/><rect x="5.5" y="-0.5" width="2" height="1" fill="#fdbb33"/><rect x="7.5" y="-0.5" width="7" height="1" fill="#fc9a30"/><rect x="-0.5" y="0.5" width="4" height="1" fill="#fdf53c"/><rect x="3.5" y="0.5" width="2" height="1" fill="#fdd93a"/><rect x="5.5" y="0.5" width="2" height="1" fill="#fdbb33"/><rect x="7.5" y="0.5" width="7" height="1" fill="#fc9a30"/><rect x="-0.5" y="1.5" width="4" height="1" fill="#fdf53c"/><rect x="3.5" y="1.5" width="2" height="1" fill="#fdd93a"/><rect x="5.5" y="1.5" width="3" height="1" fill="#fdbb33"/><rect x="8.5" y="1.5" width="6" height="1" fill="#fc9a30"/><rect x="-0.5" y="2.5" width="4" height="1" fill="#fdf53c"/><rect x="3.5" y="2.5" width="2" height="1" fill="#fdd93a"/><rect x="5.5" y="2.5" width="2" height="1" fill="#fdbb33"/><rect x="7.5" y="2.5" width="7" height="1" fill="#fc9a30"/><rect x="-0.5" y="3.5" width="5" height="1" fill="#fdf53c"/><rect x="4.5" y="3.5" width="1" height="1" fill="#fdd93a"/><rect x="5.5" y="3.5" width="2" height="1" fill="#fdbb33"/><rect x="7.5" y="3.5" width="7" height="1" fill="#fc9a30"/><rect x="-0.5" y="4.5" width="4" height="1" fill="#fdf53c"/><rect x="3.5" y="4.5" width="3" height="1" fill="#fdd93a"/><rect x="6.5" y="4.5" width="2" height="1" fill="#fdbb33"/><rect x="8.5" y="4.5" width="6" height="1" fill="#fc9a30"/><rect x="-0.5" y="5.5" width="4" height="1" fill="#fdf53c"/><rect x="3.5" y="5.5" width="3" height="1" fill="#fdd93a"/><rect x="6.5" y="5.5" width="4" height="1" fill="#fdbb33"/><rect x="10.5" y="5.5" width="4" height="1" fill="#fc9a30"/><rect x="-0.5" y="6.5" width="4" height="1" fill="#fdf53c"/><rect x="3.5" y="6.5" width="3" height="1" fill="#fdd93a"/><rect x="6.5" y="6.5" width="4" height="1" fill="#fdbb33"/><rect x="10.5" y="6.5" width="4" height="1" fill="#fc9a30"/><rect x="-0.5" y="7.5" width="4" height="1" fill="#fdf53c"/><rect x="3.5" y="7.5" width="4" height="1" fill="#fdd93a"/><rect x="7.5" y="7.5" width="3" height="1" fill="#fdbb33"/><rect x="10.5" y="7.5" width="4" height="1" fill="#fc9a30"/><rect x="-0.5" y="8.5" width="4" height="1" fill="#fdf53c"/><rect x="3.5" y="8.5" width="4" height="1" fill="#fdd93a"/><rect x="7.5" y="8.5" width="2" height="1" fill="#fdbb33"/><rect x="9.5" y="8.5" width="4" height="1" fill="#fc9a30"/><rect x="13.5" y="8.5" width="1" height="1" fill="#fb6a2e"/><rect x="-0.5" y="9.5" width="4" height="1" fill="#fdf53c"/><rect x="3.5" y="9.5" width="4" height="1" fill="#fdd93a"/><rect x="7.5" y="9.5" width="2" height="1" fill="#fdbb33"/><rect x="9.5" y="9.5" width="4" height="1" fill="#fc9a30"/><rect x="13.5" y="9.5" width="1" height="1" fill="#fb6a2e"/><rect x="-0.5" y="10.5" width="4" height="1" fill="#fdf53c"/><rect x="3.5" y="10.5" width="4" height="1" fill="#fdd93a"/><rect x="7.5" y="10.5" width="2" height="1" fill="#fdbb33"/><rect x="9.5" y="10.5" width="3" height="1" fill="#fc9a30"/><rect x="12.5" y="10.5" width="2" height="1" fill="#fb6a2e"/><rect x="-0.5" y="11.5" width="4" height="1" fill="#fdf53c"/><rect x="3.5" y="11.5" width="4" height="1" fill="#fdd93a"/><rect x="7.5" y="11.5" width="2" height="1" fill="#fdbb33"/><rect x="9.5" y="11.5" width="3" height="1" fill="#fc9a30"/><rect x="12.5" y="11.5" width="2" height="1" fill="#fb6a2e"/><rect x="-0.5" y="12.5" width="5" height="1" fill="#fdf53c"/><rect x="4.5" y="12.5" width="3" height="1" fill="#fdd93a"/><rect x="7.5" y="12.5" width="2" height="1" fill="#fdbb33"/><rect x="9.5" y="12.5" width="3" height="1" fill="#fc9a30"/><rect x="12.5" y="12.5" width="2" height="1" fill="#fb6a2e"/><rect x="-0.5" y="13.5" width="5" height="1" fill="#fdf53c"/><rect x="4.5" y="13.5" width="3" height="1" fill="#fdd93a"/><rect x="7.5" y="13.5" width="2" height="1" fill="#fdbb33"/><rect x="9.5" y="13.5" width="2" height="1" fill="#fc9a30"/><rect x="11.5" y="13.5" width="3" height="1" fill="#fb6a2e"/><rect x="0" y="0" width="14" height="14" fill="none" stroke="#707060" stroke-width="0.7" vector-effect="non-scaling-stroke"/><path d="M0.283 0V0.360M0.283 14V13.640M1.098 0V0.206M1.098 14V13.794M1.913 0V0.206M1.913 14V13.794M2.727 0V0.360M2.727 14V13.640M3.542 0V0.206M3.542 14V13.794M4.357 0V0.206M4.357 14V13.794M5.171 0V0.360M5.171 14V13.640M5.986 0V0.206M5.986 14V13.794M6.801 0V0.206M6.801 14V13.794M7.615 0V0.360M7.615 14V13.640M8.430 0V0.206M8.430 14V13.794M9.245 0V0.206M9.245 14V13.794M10.059 0V0.360M10.059 14V13.640M10.874 0V0.206M10.874 14V13.794M11.689 0V0.206M11.689 14V13.794M12.503 0V0.360M12.503 14V13.640M13.318 0V0.206M13.318 14V13.794M0 0.093H0.374M14 0.093H13.626M0 1.163H0.214M14 1.163H13.786M0 2.234H0.214M14 2.234H13.786M0 3.304H0.214M14 3.304H13.786M0 4.375H0.374M14 4.375H13.626M0 5.446H0.214M14 5.446H13.786M0 6.516H0.214M14 6.516H13.786M0 7.587H0.214M14 7.587H13.786M0 8.657H0.374M14 8.657H13.626M0 9.728H0.214M14 9.728H13.786M0 10.799H0.214M14 10.799H13.786M0 11.869H0.214M14 11.869H13.786M0 12.940H0.374M14 12.940H13.626" stroke="#555548" stroke-width="0.6" fill="none" vector-effect="non-scaling-stroke"/></svg><svg class="p" style="left:142.00px;top:762.50px" width="132.40" height="135.90" viewBox="0 0 14 14" preserveAspectRatio="none" shape-rendering="crispEdges"><rect x="-0.5" y="-0.5" width="11" height="1" fill="#fdf53c"/><rect x="10.5" y="-0.5" width="4" height="1" fill="#fdd93a"/><rect x="-0.5" y="0.5" width="2" height="1" fill="#fdf53c"/><rect x="1.5" y="0.5" width="8" height="1" fill="#e5ec50"/><rect x="9.5" y="0.5" width="1" height="1" fill="#fdf53c"/><rect x="10.5" y="0.5" width="2" height="1" fill="#fdd93a"/><rect x="12.5" y="0.5" width="1" height="1" fill="#fdbb33"/><rect x="13.5" y="0.5" width="1" height="1" fill="#fdd93a"/><rect x="-0.5" y="1.5" width="3" height="1" fill="#fdf53c"/><rect x="2.5" y="1.5" width="8" height="1" fill="#e5ec50"/><rect x="10.5" y="1.5" width="2" height="1" fill="#fdd93a"/><rect x="12.5" y="1.5" width="1" height="1" fill="#fdbb33"/><rect x="13.5" y="1.5" width="1" height="1" fill="#fdd93a"/><rect x="-0.5" y="2.5" width="3" height="1" fill="#fdf53c"/><rect x="2.5" y="2.5" width="8" height="1" fill="#e5ec50"/><rect x="10.5" y="2.5" width="1" height="1" fill="#fdf53c"/><rect x="11.5" y="2.5" width="2" height="1" fill="#fdd93a"/><rect x="13.5" y="2.5" width="1" height="1" fill="#fdf53c"/><rect x="-0.5" y="3.5" width="3" height="1" fill="#fdf53c"/><rect x="2.5" y="3.5" width="8" height="1" fill="#e5ec50"/><rect x="10.5" y="3.5" width="4" height="1" fill="#fdf53c"/><rect x="-0.5" y="4.5" width="3" height="1" fill="#fdf53c"/><rect x="2.5" y="4.5" width="9" height="1" fill="#e5ec50"/><rect x="11.5" y="4.5" width="2" height="1" fill="#fdf53c"/><rect x="13.5" y="4.5" width="1" height="1" fill="#fdd93a"/><rect x="-0.5" y="5.5" width="3" height="1" fill="#fdf53c"/><rect x="2.5" y="5.5" width="9" height="1" fill="#e5ec50"/><rect x="11.5" y="5.5" width="2" height="1" fill="#fdf53c"/><rect x="13.5" y="5.5" width="1" height="1" fill="#fdd93a"/><rect x="-0.5" y="6.5" width="3" height="1" fill="#fdf53c"/><rect x="2.5" y="6.5" width="9" height="1" fill="#e5ec50"/><rect x="11.5" y="6.5" width="3" height="1" fill="#fdf53c"/><rect x="-0.5" y="7.5" width="3" height="1" fill="#fdf53c"/><rect x="2.5" y="7.5" width="8" height="1" fill="#e5ec50"/><rect x="10.5" y="7.5" width="3" height="1" fill="#fdf53c"/><rect x="13.5" y="7.5" width="1" height="1" fill="#fdd93a"/><rect x="-0.5" y="8.5" width="3" height="1" fill="#fdf53c"/><rect x="2.5" y="8.5" width="8" height="1" fill="#e5ec50"/><rect x="10.5" y="8.5" width="2" height="1" fill="#fdf53c"/><rect x="12.5" y="8.5" width="2" height="1" fill="#fdd93a"/><rect x="-0.5" y="9.5" width="3" height="1" fill="#fdf53c"/><rect x="2.5" y="9.5" width="7" height="1" fill="#e5ec50"/><rect x="9.5" y="9.5" width="3" height="1" fill="#fdf53c"/><rect x="12.5" y="9.5" width="2" height="1" fill="#fdd93a"/><rect x="-0.5" y="10.5" width="1" height="1" fill="#fdd93a"/><rect x="0.5" y="10.5" width="2" height="1" fill="#fdf53c"/><rect x="2.5" y="10.5" width="7" height="1" fill="#e5ec50"/><rect x="9.5" y="10.5" width="2" height="1" fill="#fdf53c"/><rect x="11.5" y="10.5" width="2" height="1" fill="#fdd93a"/><rect x="13.5" y="10.5" width="1" height="1" fill="#fdbb33"/><rect x="-0.5" y="11.5" width="1" height="1" fill="#fdd93a"/><rect x="0.5" y="11.5" width="2" height="1" fill="#fdf53c"/><rect x="2.5" y="11.5" width="7" height="1" fill="#e5ec50"/><rect x="9.5" y="11.5" width="2" height="1" fill="#fdf53c"/><rect x="11.5" y="11.5" width="2" height="1" fill="#fdd93a"/><rect x="13.5" y="11.5" width="1" height="1" fill="#fdbb33"/><rect x="-0.5" y="12.5" width="1" height="1" fill="#fdd93a"/><rect x="0.5" y="12.5" width="2" height="1" fill="#fdf53c"/><rect x="2.5" y="12.5" width="6" height="1" fill="#e5ec50"/><rect x="8.5" y="12.5" width="2" height="1" fill="#fdf53c"/><rect x="10.5" y="12.5" width="2" height="1" fill="#fdd93a"/><rect x="12.5" y="12.5" width="2" height="1" fill="#fdbb33"/><rect x="-0.5" y="13.5" width="1" height="1" fill="#fdd93a"/><rect x="0.5" y="13.5" width="2" height="1" fill="#fdf53c"/><rect x="2.5" y="13.5" width="6" height="1" fill="#e5ec50"/><rect x="8.5" y="13.5" width="2" height="1" fill="#fdf53c"/><rect x="10.5" y="13.5" width="2" height="1" fill="#fdd93a"/><rect x="12.5" y="13.5" width="1" height="1" fill="#fdbb33"/><rect x="13.5" y="13.5" width="1" height="1" fill="#fdd93a"/><rect x="0" y="0" width="14" height="14" fill="none" stroke="#707060" stroke-width="0.7" vector-effect="non-scaling-stroke"/><path d="M0.280 0V0.361M0.280 14V13.639M1.086 0V0.206M1.086 14V13.794M1.891 0V0.206M1.891 14V13.794M2.696 0V0.361M2.696 14V13.639M3.502 0V0.206M3.502 14V13.794M4.307 0V0.206M4.307 14V13.794M5.113 0V0.361M5.113 14V13.639M5.918 0V0.206M5.918 14V13.794M6.724 0V0.206M6.724 14V13.794M7.529 0V0.361M7.529 14V13.639M8.334 0V0.206M8.334 14V13.794M9.140 0V0.206M9.140 14V13.794M9.945 0V0.361M9.945 14V13.639M10.751 0V0.206M10.751 14V13.794M11.556 0V0.206M11.556 14V13.794M12.362 0V0.361M12.362 14V13.639M13.167 0V0.206M13.167 14V13.794M0 0.093H0.370M14 0.093H13.630M0 1.164H0.211M14 1.164H13.789M0 2.235H0.211M14 2.235H13.789M0 3.307H0.211M14 3.307H13.789M0 4.378H0.370M14 4.378H13.630M0 5.450H0.211M14 5.450H13.789M0 6.521H0.211M14 6.521H13.789M0 7.592H0.211M14 7.592H13.789M0 8.664H0.370M14 8.664H13.630M0 9.735H0.211M14 9.735H13.789M0 10.806H0.211M14 10.806H13.789M0 11.878H0.211M14 11.878H13.789M0 12.949H0.370M14 12.949H13.630" stroke="#555548" stroke-width="0.6" fill="none" vector-effect="non-scaling-stroke"/></svg><svg class="p" style="left:282.20px;top:763.30px" width="132.20" height="136.40" viewBox="0 0 14 14" preserveAspectRatio="none" shape-rendering="crispEdges"><rect x="-0.5" y="-0.5" width="3" height="1" fill="#5bc54f"/><rect x="2.5" y="-0.5" width="1" height="1" fill="#a3d445"/><rect x="3.5" y="-0.5" width="6" height="1" fill="#fdf53c"/><rect x="9.5" y="-0.5" width="1" height="1" fill="#fdd93a"/><rect x="10.5" y="-0.5" width="3" height="1" fill="#fdbb33"/><rect x="13.5" y="-0.5" width="1" height="1" fill="#fc9a30"/><rect x="-0.5" y="0.5" width="4" height="1" fill="#5bc54f"/><rect x="3.5" y="0.5" width="1" height="1" fill="#a3d445"/><rect x="4.5" y="0.5" width="3" height="1" fill="#e5ec50"/><rect x="7.5" y="0.5" width="3" height="1" fill="#fdf53c"/><rect x="10.5" y="0.5" width="3" height="1" fill="#fdbb33"/><rect x="13.5" y="0.5" width="1" height="1" fill="#fc9a30"/><rect x="-0.5" y="1.5" width="4" height="1" fill="#5bc54f"/><rect x="3.5" y="1.5" width="3" height="1" fill="#a3d445"/><rect x="6.5" y="1.5" width="1" height="1" fill="#e5ec50"/><rect x="7.5" y="1.5" width="3" height="1" fill="#fdf53c"/><rect x="10.5" y="1.5" width="3" height="1" fill="#fdbb33"/><rect x="13.5" y="1.5" width="1" height="1" fill="#fc9a30"/><rect x="-0.5" y="2.5" width="1" height="1" fill="#a3d445"/><rect x="0.5" y="2.5" width="3" height="1" fill="#5bc54f"/><rect x="3.5" y="2.5" width="3" height="1" fill="#a3d445"/><rect x="6.5" y="2.5" width="2" height="1" fill="#e5ec50"/><rect x="8.5" y="2.5" width="2" height="1" fill="#fdf53c"/><rect x="10.5" y="2.5" width="4" height="1" fill="#fdbb33"/><rect x="-0.5" y="3.5" width="4" height="1" fill="#5bc54f"/><rect x="3.5" y="3.5" width="6" height="1" fill="#a3d445"/><rect x="9.5" y="3.5" width="2" height="1" fill="#fdf53c"/><rect x="11.5" y="3.5" width="2" height="1" fill="#fdd93a"/><rect x="13.5" y="3.5" width="1" height="1" fill="#fdbb33"/><rect x="-0.5" y="4.5" width="2" height="1" fill="#5bc54f"/><rect x="1.5" y="4.5" width="7" height="1" fill="#a3d445"/><rect x="8.5" y="4.5" width="1" height="1" fill="#e5ec50"/><rect x="9.5" y="4.5" width="2" height="1" fill="#fdf53c"/><rect x="11.5" y="4.5" width="2" height="1" fill="#fdd93a"/><rect x="13.5" y="4.5" width="1" height="1" fill="#fdbb33"/><rect x="-0.5" y="5.5" width="2" height="1" fill="#5bc54f"/><rect x="1.5" y="5.5" width="6" height="1" fill="#a3d445"/><rect x="7.5" y="5.5" width="2" height="1" fill="#e5ec50"/><rect x="9.5" y="5.5" width="2" height="1" fill="#fdf53c"/><rect x="11.5" y="5.5" width="2" height="1" fill="#fdd93a"/><rect x="13.5" y="5.5" width="1" height="1" fill="#fdbb33"/><rect x="-0.5" y="6.5" width="2" height="1" fill="#5bc54f"/><rect x="1.5" y="6.5" width="7" height="1" fill="#a3d445"/><rect x="8.5" y="6.5" width="2" height="1" fill="#e5ec50"/><rect x="10.5" y="6.5" width="1" height="1" fill="#fdf53c"/><rect x="11.5" y="6.5" width="2" height="1" fill="#fdd93a"/><rect x="13.5" y="6.5" width="1" height="1" fill="#fdbb33"/><rect x="-0.5" y="7.5" width="1" height="1" fill="#fdf53c"/><rect x="0.5" y="7.5" width="1" height="1" fill="#a3d445"/><rect x="1.5" y="7.5" width="2" height="1" fill="#e5ec50"/><rect x="3.5" y="7.5" width="7" height="1" fill="#a3d445"/><rect x="10.5" y="7.5" width="1" height="1" fill="#e5ec50"/><rect x="11.5" y="7.5" width="1" height="1" fill="#fdf53c"/><rect x="12.5" y="7.5" width="1" height="1" fill="#fdd93a"/><rect x="13.5" y="7.5" width="1" height="1" fill="#fdbb33"/><rect x="-0.5" y="8.5" width="2" height="1" fill="#a3d445"/><rect x="1.5" y="8.5" width="2" height="1" fill="#e5ec50"/><rect x="3.5" y="8.5" width="4" height="1" fill="#a3d445"/><rect x="7.5" y="8.5" width="2" height="1" fill="#5bc54f"/><rect x="9.5" y="8.5" width="1" height="1" fill="#a3d445"/><rect x="10.5" y="8.5" width="1" height="1" fill="#e5ec50"/><rect x="11.5" y="8.5" width="1" height="1" fill="#fdf53c"/><rect x="12.5" y="8.5" width="2" height="1" fill="#fdd93a"/><rect x="-0.5" y="9.5" width="2" height="1" fill="#a3d445"/><rect x="1.5" y="9.5" width="1" height="1" fill="#e5ec50"/><rect x="2.5" y="9.5" width="4" height="1" fill="#a3d445"/><rect x="6.5" y="9.5" width="3" height="1" fill="#5bc54f"/><rect x="9.5" y="9.5" width="1" height="1" fill="#a3d445"/><rect x="10.5" y="9.5" width="1" height="1" fill="#e5ec50"/><rect x="11.5" y="9.5" width="2" height="1" fill="#fdf53c"/><rect x="13.5" y="9.5" width="1" height="1" fill="#fdd93a"/><rect x="-0.5" y="10.5" width="2" height="1" fill="#a3d445"/><rect x="1.5" y="10.5" width="1" height="1" fill="#e5ec50"/><rect x="2.5" y="10.5" width="3" height="1" fill="#a3d445"/><rect x="5.5" y="10.5" width="3" height="1" fill="#5bc54f"/><rect x="8.5" y="10.5" width="1" height="1" fill="#a3d445"/><rect x="9.5" y="10.5" width="1" height="1" fill="#e5ec50"/><rect x="10.5" y="10.5" width="1" height="1" fill="#fdf53c"/><rect x="11.5" y="10.5" width="3" height="1" fill="#fdbb33"/><rect x="-0.5" y="11.5" width="2" height="1" fill="#a3d445"/><rect x="1.5" y="11.5" width="1" height="1" fill="#e5ec50"/><rect x="2.5" y="11.5" width="3" height="1" fill="#a3d445"/><rect x="5.5" y="11.5" width="3" height="1" fill="#5bc54f"/><rect x="8.5" y="11.5" width="1" height="1" fill="#a3d445"/><rect x="9.5" y="11.5" width="1" height="1" fill="#e5ec50"/><rect x="10.5" y="11.5" width="1" height="1" fill="#fdf53c"/><rect x="11.5" y="11.5" width="1" height="1" fill="#fdd93a"/><rect x="12.5" y="11.5" width="2" height="1" fill="#fdbb33"/><rect x="-0.5" y="12.5" width="2" height="1" fill="#e5ec50"/><rect x="1.5" y="12.5" width="3" height="1" fill="#a3d445"/><rect x="4.5" y="12.5" width="4" height="1" fill="#5bc54f"/><rect x="8.5" y="12.5" width="2" height="1" fill="#a3d445"/><rect x="10.5" y="12.5" width="1" height="1" fill="#fdf53c"/><rect x="11.5" y="12.5" width="1" height="1" fill="#fdd93a"/><rect x="12.5" y="12.5" width="1" height="1" fill="#fdbb33"/><rect x="13.5" y="12.5" width="1" height="1" fill="#fc9a30"/><rect x="-0.5" y="13.5" width="2" height="1" fill="#e5ec50"/><rect x="1.5" y="13.5" width="2" height="1" fill="#a3d445"/><rect x="3.5" y="13.5" width="5" height="1" fill="#5bc54f"/><rect x="8.5" y="13.5" width="2" height="1" fill="#a3d445"/><rect x="10.5" y="13.5" width="1" height="1" fill="#fdf53c"/><rect x="11.5" y="13.5" width="1" height="1" fill="#fdd93a"/><rect x="12.5" y="13.5" width="1" height="1" fill="#fdbb33"/><rect x="13.5" y="13.5" width="1" height="1" fill="#fc9a30"/><rect x="0" y="0" width="14" height="14" fill="none" stroke="#707060" stroke-width="0.7" vector-effect="non-scaling-stroke"/><path d="M0.281 0V0.359M0.281 14V13.641M1.087 0V0.205M1.087 14V13.795M1.894 0V0.205M1.894 14V13.795M2.701 0V0.359M2.701 14V13.641M3.507 0V0.205M3.507 14V13.795M4.314 0V0.205M4.314 14V13.795M5.120 0V0.359M5.120 14V13.641M5.927 0V0.205M5.927 14V13.795M6.734 0V0.205M6.734 14V13.795M7.540 0V0.359M7.540 14V13.641M8.347 0V0.205M8.347 14V13.795M9.154 0V0.205M9.154 14V13.795M9.960 0V0.359M9.960 14V13.641M10.767 0V0.205M10.767 14V13.795M11.574 0V0.205M11.574 14V13.795M12.380 0V0.359M12.380 14V13.641M13.187 0V0.205M13.187 14V13.795M0 0.092H0.371M14 0.092H13.629M0 1.160H0.212M14 1.160H13.788M0 2.227H0.212M14 2.227H13.788M0 3.295H0.212M14 3.295H13.788M0 4.362H0.371M14 4.362H13.629M0 5.430H0.212M14 5.430H13.788M0 6.497H0.212M14 6.497H13.788M0 7.565H0.212M14 7.565H13.788M0 8.632H0.371M14 8.632H13.629M0 9.699H0.212M14 9.699H13.788M0 10.767H0.212M14 10.767H13.788M0 11.834H0.212M14 11.834H13.788M0 12.902H0.371M14 12.902H13.629" stroke="#555548" stroke-width="0.6" fill="none" vector-effect="non-scaling-stroke"/></svg><svg class="p" style="left:421.30px;top:761.70px" width="132.10" height="136.00" viewBox="0 0 14 14" preserveAspectRatio="none" shape-rendering="crispEdges"><rect x="-0.5" y="-0.5" width="2" height="1" fill="#e5ec50"/><rect x="1.5" y="-0.5" width="3" height="1" fill="#a3d445"/><rect x="4.5" y="-0.5" width="6" height="1" fill="#5bc54f"/><rect x="10.5" y="-0.5" width="1" height="1" fill="#a3d445"/><rect x="11.5" y="-0.5" width="1" height="1" fill="#e5ec50"/><rect x="12.5" y="-0.5" width="2" height="1" fill="#fdf53c"/><rect x="-0.5" y="0.5" width="5" height="1" fill="#a3d445"/><rect x="4.5" y="0.5" width="5" height="1" fill="#5bc54f"/><rect x="9.5" y="0.5" width="1" height="1" fill="#a3d445"/><rect x="10.5" y="0.5" width="2" height="1" fill="#e5ec50"/><rect x="12.5" y="0.5" width="2" height="1" fill="#fdf53c"/><rect x="-0.5" y="1.5" width="5" height="1" fill="#a3d445"/><rect x="4.5" y="1.5" width="6" height="1" fill="#5bc54f"/><rect x="10.5" y="1.5" width="1" height="1" fill="#a3d445"/><rect x="11.5" y="1.5" width="1" height="1" fill="#e5ec50"/><rect x="12.5" y="1.5" width="2" height="1" fill="#fdf53c"/><rect x="-0.5" y="2.5" width="2" height="1" fill="#5bc54f"/><rect x="1.5" y="2.5" width="10" height="1" fill="#a3d445"/><rect x="11.5" y="2.5" width="1" height="1" fill="#e5ec50"/><rect x="12.5" y="2.5" width="2" height="1" fill="#fdf53c"/><rect x="-0.5" y="3.5" width="1" height="1" fill="#e5ec50"/><rect x="0.5" y="3.5" width="6" height="1" fill="#a3d445"/><rect x="6.5" y="3.5" width="3" height="1" fill="#5bc54f"/><rect x="9.5" y="3.5" width="2" height="1" fill="#a3d445"/><rect x="11.5" y="3.5" width="1" height="1" fill="#e5ec50"/><rect x="12.5" y="3.5" width="2" height="1" fill="#fdf53c"/><rect x="-0.5" y="4.5" width="2" height="1" fill="#fdf53c"/><rect x="1.5" y="4.5" width="3" height="1" fill="#e5ec50"/><rect x="4.5" y="4.5" width="4" height="1" fill="#a3d445"/><rect x="8.5" y="4.5" width="2" height="1" fill="#5bc54f"/><rect x="10.5" y="4.5" width="2" height="1" fill="#a3d445"/><rect x="12.5" y="4.5" width="2" height="1" fill="#e5ec50"/><rect x="-0.5" y="5.5" width="1" height="1" fill="#fdd93a"/><rect x="0.5" y="5.5" width="2" height="1" fill="#fdf53c"/><rect x="2.5" y="5.5" width="2" height="1" fill="#e5ec50"/><rect x="4.5" y="5.5" width="4" height="1" fill="#a3d445"/><rect x="8.5" y="5.5" width="3" height="1" fill="#5bc54f"/><rect x="11.5" y="5.5" width="1" height="1" fill="#a3d445"/><rect x="12.5" y="5.5" width="2" height="1" fill="#e5ec50"/><rect x="-0.5" y="6.5" width="3" height="1" fill="#fdf53c"/><rect x="2.5" y="6.5" width="4" height="1" fill="#e5ec50"/><rect x="6.5" y="6.5" width="2" height="1" fill="#a3d445"/><rect x="8.5" y="6.5" width="3" height="1" fill="#5bc54f"/><rect x="11.5" y="6.5" width="3" height="1" fill="#a3d445"/><rect x="-0.5" y="7.5" width="2" height="1" fill="#fdf53c"/><rect x="1.5" y="7.5" width="5" height="1" fill="#e5ec50"/><rect x="6.5" y="7.5" width="2" height="1" fill="#a3d445"/><rect x="8.5" y="7.5" width="3" height="1" fill="#5bc54f"/><rect x="11.5" y="7.5" width="1" height="1" fill="#a3d445"/><rect x="12.5" y="7.5" width="1" height="1" fill="#e5ec50"/><rect x="13.5" y="7.5" width="1" height="1" fill="#a3d445"/><rect x="-0.5" y="8.5" width="4" height="1" fill="#fdf53c"/><rect x="3.5" y="8.5" width="2" height="1" fill="#e5ec50"/><rect x="5.5" y="8.5" width="2" height="1" fill="#a3d445"/><rect x="7.5" y="8.5" width="3" height="1" fill="#5bc54f"/><rect x="10.5" y="8.5" width="1" height="1" fill="#a3d445"/><rect x="11.5" y="8.5" width="3" height="1" fill="#e5ec50"/><rect x="-0.5" y="9.5" width="4" height="1" fill="#fdf53c"/><rect x="3.5" y="9.5" width="1" height="1" fill="#e5ec50"/><rect x="4.5" y="9.5" width="2" height="1" fill="#a3d445"/><rect x="6.5" y="9.5" width="3" height="1" fill="#5bc54f"/><rect x="9.5" y="9.5" width="1" height="1" fill="#a3d445"/><rect x="10.5" y="9.5" width="4" height="1" fill="#e5ec50"/><rect x="-0.5" y="10.5" width="1" height="1" fill="#fdd93a"/><rect x="0.5" y="10.5" width="4" height="1" fill="#fdf53c"/><rect x="4.5" y="10.5" width="3" height="1" fill="#a3d445"/><rect x="7.5" y="10.5" width="1" height="1" fill="#5bc54f"/><rect x="8.5" y="10.5" width="2" height="1" fill="#a3d445"/><rect x="10.5" y="10.5" width="4" height="1" fill="#e5ec50"/><rect x="-0.5" y="11.5" width="1" height="1" fill="#fdd93a"/><rect x="0.5" y="11.5" width="2" height="1" fill="#fdf53c"/><rect x="2.5" y="11.5" width="2" height="1" fill="#e5ec50"/><rect x="4.5" y="11.5" width="3" height="1" fill="#a3d445"/><rect x="7.5" y="11.5" width="4" height="1" fill="#e5ec50"/><rect x="11.5" y="11.5" width="3" height="1" fill="#fdf53c"/><rect x="-0.5" y="12.5" width="1" height="1" fill="#fdd93a"/><rect x="0.5" y="12.5" width="2" height="1" fill="#fdf53c"/><rect x="2.5" y="12.5" width="2" height="1" fill="#e5ec50"/><rect x="4.5" y="12.5" width="3" height="1" fill="#a3d445"/><rect x="7.5" y="12.5" width="4" height="1" fill="#e5ec50"/><rect x="11.5" y="12.5" width="3" height="1" fill="#fdf53c"/><rect x="-0.5" y="13.5" width="1" height="1" fill="#fdd93a"/><rect x="0.5" y="13.5" width="2" height="1" fill="#fdf53c"/><rect x="2.5" y="13.5" width="8" height="1" fill="#e5ec50"/><rect x="10.5" y="13.5" width="4" height="1" fill="#fdf53c"/><rect x="0" y="0" width="14" height="14" fill="none" stroke="#707060" stroke-width="0.7" vector-effect="non-scaling-stroke"/><path d="M0.281 0V0.360M0.281 14V13.640M1.088 0V0.206M1.088 14V13.794M1.895 0V0.206M1.895 14V13.794M2.703 0V0.360M2.703 14V13.640M3.510 0V0.206M3.510 14V13.794M4.317 0V0.206M4.317 14V13.794M5.124 0V0.360M5.124 14V13.640M5.932 0V0.206M5.932 14V13.794M6.739 0V0.206M6.739 14V13.794M7.546 0V0.360M7.546 14V13.640M8.353 0V0.206M8.353 14V13.794M9.161 0V0.206M9.161 14V13.794M9.968 0V0.360M9.968 14V13.640M10.775 0V0.206M10.775 14V13.794M11.582 0V0.206M11.582 14V13.794M12.390 0V0.360M12.390 14V13.640M13.197 0V0.206M13.197 14V13.794M0 0.093H0.371M14 0.093H13.629M0 1.163H0.212M14 1.163H13.788M0 2.234H0.212M14 2.234H13.788M0 3.304H0.212M14 3.304H13.788M0 4.375H0.371M14 4.375H13.629M0 5.446H0.212M14 5.446H13.788M0 6.516H0.212M14 6.516H13.788M0 7.587H0.212M14 7.587H13.788M0 8.657H0.371M14 8.657H13.629M0 9.728H0.212M14 9.728H13.788M0 10.799H0.212M14 10.799H13.788M0 11.869H0.212M14 11.869H13.788M0 12.940H0.371M14 12.940H13.629" stroke="#555548" stroke-width="0.6" fill="none" vector-effect="non-scaling-stroke"/></svg><svg class="p" style="left:560.30px;top:761.30px" width="132.20" height="135.90" viewBox="0 0 14 14" preserveAspectRatio="none" shape-rendering="crispEdges"><rect x="-0.5" y="-0.5" width="4" height="1" fill="#e5ec50"/><rect x="3.5" y="-0.5" width="3" height="1" fill="#fdf53c"/><rect x="6.5" y="-0.5" width="4" height="1" fill="#fdd93a"/><rect x="10.5" y="-0.5" width="2" height="1" fill="#fdbb33"/><rect x="12.5" y="-0.5" width="2" height="1" fill="#fdd93a"/><rect x="-0.5" y="0.5" width="4" height="1" fill="#e5ec50"/><rect x="3.5" y="0.5" width="3" height="1" fill="#fdf53c"/><rect x="6.5" y="0.5" width="6" height="1" fill="#fdd93a"/><rect x="12.5" y="0.5" width="1" height="1" fill="#fdf53c"/><rect x="13.5" y="0.5" width="1" height="1" fill="#fdd93a"/><rect x="-0.5" y="1.5" width="3" height="1" fill="#a3d445"/><rect x="2.5" y="1.5" width="1" height="1" fill="#e5ec50"/><rect x="3.5" y="1.5" width="3" height="1" fill="#fdf53c"/><rect x="6.5" y="1.5" width="5" height="1" fill="#fdd93a"/><rect x="11.5" y="1.5" width="1" height="1" fill="#fdf53c"/><rect x="12.5" y="1.5" width="2" height="1" fill="#fdd93a"/><rect x="-0.5" y="2.5" width="5" height="1" fill="#a3d445"/><rect x="4.5" y="2.5" width="2" height="1" fill="#e5ec50"/><rect x="6.5" y="2.5" width="8" height="1" fill="#fdf53c"/><rect x="-0.5" y="3.5" width="1" height="1" fill="#e5ec50"/><rect x="0.5" y="3.5" width="4" height="1" fill="#a3d445"/><rect x="4.5" y="3.5" width="8" height="1" fill="#e5ec50"/><rect x="12.5" y="3.5" width="2" height="1" fill="#fdf53c"/><rect x="-0.5" y="4.5" width="5" height="1" fill="#e5ec50"/><rect x="4.5" y="4.5" width="1" height="1" fill="#a3d445"/><rect x="5.5" y="4.5" width="4" height="1" fill="#e5ec50"/><rect x="9.5" y="4.5" width="2" height="1" fill="#a3d445"/><rect x="11.5" y="4.5" width="3" height="1" fill="#e5ec50"/><rect x="-0.5" y="5.5" width="1" height="1" fill="#e5ec50"/><rect x="0.5" y="5.5" width="1" height="1" fill="#fdf53c"/><rect x="1.5" y="5.5" width="3" height="1" fill="#e5ec50"/><rect x="4.5" y="5.5" width="2" height="1" fill="#a3d445"/><rect x="6.5" y="5.5" width="2" height="1" fill="#e5ec50"/><rect x="8.5" y="5.5" width="2" height="1" fill="#a3d445"/><rect x="10.5" y="5.5" width="1" height="1" fill="#5bc54f"/><rect x="11.5" y="5.5" width="3" height="1" fill="#a3d445"/><rect x="-0.5" y="6.5" width="1" height="1" fill="#fdd93a"/><rect x="0.5" y="6.5" width="1" height="1" fill="#fdf53c"/><rect x="1.5" y="6.5" width="3" height="1" fill="#e5ec50"/><rect x="4.5" y="6.5" width="4" height="1" fill="#a3d445"/><rect x="8.5" y="6.5" width="5" height="1" fill="#5bc54f"/><rect x="13.5" y="6.5" width="1" height="1" fill="#a3d445"/><rect x="-0.5" y="7.5" width="1" height="1" fill="#fdd93a"/><rect x="0.5" y="7.5" width="1" height="1" fill="#fdf53c"/><rect x="1.5" y="7.5" width="3" height="1" fill="#e5ec50"/><rect x="4.5" y="7.5" width="3" height="1" fill="#a3d445"/><rect x="7.5" y="7.5" width="7" height="1" fill="#5bc54f"/><rect x="-0.5" y="8.5" width="1" height="1" fill="#fdd93a"/><rect x="0.5" y="8.5" width="1" height="1" fill="#fdf53c"/><rect x="1.5" y="8.5" width="2" height="1" fill="#e5ec50"/><rect x="3.5" y="8.5" width="3" height="1" fill="#a3d445"/><rect x="6.5" y="8.5" width="2" height="1" fill="#5bc54f"/><rect x="8.5" y="8.5" width="3" height="1" fill="#31ae4f"/><rect x="11.5" y="8.5" width="3" height="1" fill="#5bc54f"/><rect x="-0.5" y="9.5" width="1" height="1" fill="#fdf53c"/><rect x="0.5" y="9.5" width="2" height="1" fill="#e5ec50"/><rect x="2.5" y="9.5" width="3" height="1" fill="#a3d445"/><rect x="5.5" y="9.5" width="2" height="1" fill="#5bc54f"/><rect x="7.5" y="9.5" width="5" height="1" fill="#31ae4f"/><rect x="12.5" y="9.5" width="1" height="1" fill="#5bc54f"/><rect x="13.5" y="9.5" width="1" height="1" fill="#a3d445"/><rect x="-0.5" y="10.5" width="1" height="1" fill="#fdf53c"/><rect x="0.5" y="10.5" width="2" height="1" fill="#e5ec50"/><rect x="2.5" y="10.5" width="2" height="1" fill="#a3d445"/><rect x="4.5" y="10.5" width="3" height="1" fill="#5bc54f"/><rect x="7.5" y="10.5" width="6" height="1" fill="#31ae4f"/><rect x="13.5" y="10.5" width="1" height="1" fill="#a3d445"/><rect x="-0.5" y="11.5" width="3" height="1" fill="#e5ec50"/><rect x="2.5" y="11.5" width="1" height="1" fill="#a3d445"/><rect x="3.5" y="11.5" width="2" height="1" fill="#5bc54f"/><rect x="5.5" y="11.5" width="7" height="1" fill="#31ae4f"/><rect x="12.5" y="11.5" width="1" height="1" fill="#5bc54f"/><rect x="13.5" y="11.5" width="1" height="1" fill="#a3d445"/><rect x="-0.5" y="12.5" width="2" height="1" fill="#e5ec50"/><rect x="1.5" y="12.5" width="2" height="1" fill="#a3d445"/><rect x="3.5" y="12.5" width="2" height="1" fill="#5bc54f"/><rect x="5.5" y="12.5" width="7" height="1" fill="#31ae4f"/><rect x="12.5" y="12.5" width="1" height="1" fill="#5bc54f"/><rect x="13.5" y="12.5" width="1" height="1" fill="#a3d445"/><rect x="-0.5" y="13.5" width="2" height="1" fill="#fdf53c"/><rect x="1.5" y="13.5" width="1" height="1" fill="#e5ec50"/><rect x="2.5" y="13.5" width="1" height="1" fill="#a3d445"/><rect x="3.5" y="13.5" width="1" height="1" fill="#5bc54f"/><rect x="4.5" y="13.5" width="7" height="1" fill="#31ae4f"/><rect x="11.5" y="13.5" width="2" height="1" fill="#5bc54f"/><rect x="13.5" y="13.5" width="1" height="1" fill="#a3d445"/><rect x="0" y="0" width="14" height="14" fill="none" stroke="#707060" stroke-width="0.7" vector-effect="non-scaling-stroke"/><path d="M0.281 0V0.361M0.281 14V13.639M1.087 0V0.206M1.087 14V13.794M1.894 0V0.206M1.894 14V13.794M2.701 0V0.361M2.701 14V13.639M3.507 0V0.206M3.507 14V13.794M4.314 0V0.206M4.314 14V13.794M5.120 0V0.361M5.120 14V13.639M5.927 0V0.206M5.927 14V13.794M6.734 0V0.206M6.734 14V13.794M7.540 0V0.361M7.540 14V13.639M8.347 0V0.206M8.347 14V13.794M9.154 0V0.206M9.154 14V13.794M9.960 0V0.361M9.960 14V13.639M10.767 0V0.206M10.767 14V13.794M11.574 0V0.206M11.574 14V13.794M12.380 0V0.361M12.380 14V13.639M13.187 0V0.206M13.187 14V13.794M0 0.093H0.371M14 0.093H13.629M0 1.164H0.212M14 1.164H13.788M0 2.235H0.212M14 2.235H13.788M0 3.307H0.212M14 3.307H13.788M0 4.378H0.371M14 4.378H13.629M0 5.450H0.212M14 5.450H13.788M0 6.521H0.212M14 6.521H13.788M0 7.592H0.212M14 7.592H13.788M0 8.664H0.371M14 8.664H13.629M0 9.735H0.212M14 9.735H13.788M0 10.806H0.212M14 10.806H13.788M0 11.878H0.212M14 11.878H13.788M0 12.949H0.371M14 12.949H13.629" stroke="#555548" stroke-width="0.6" fill="none" vector-effect="non-scaling-stroke"/></svg><svg class="p" style="left:6.30px;top:908.30px" width="130.90" height="136.00" viewBox="0 0 14 14" preserveAspectRatio="none" shape-rendering="crispEdges"><rect x="-0.5" y="-0.5" width="4" height="1" fill="#fdf53c"/><rect x="3.5" y="-0.5" width="2" height="1" fill="#fdd93a"/><rect x="5.5" y="-0.5" width="2" height="1" fill="#fdbb33"/><rect x="7.5" y="-0.5" width="7" height="1" fill="#fc9a30"/><rect x="-0.5" y="0.5" width="4" height="1" fill="#fdf53c"/><rect x="3.5" y="0.5" width="2" height="1" fill="#fdd93a"/><rect x="5.5" y="0.5" width="2" height="1" fill="#fdbb33"/><rect x="7.5" y="0.5" width="7" height="1" fill="#fc9a30"/><rect x="-0.5" y="1.5" width="4" height="1" fill="#fdf53c"/><rect x="3.5" y="1.5" width="2" height="1" fill="#fdd93a"/><rect x="5.5" y="1.5" width="3" height="1" fill="#fdbb33"/><rect x="8.5" y="1.5" width="6" height="1" fill="#fc9a30"/><rect x="-0.5" y="2.5" width="4" height="1" fill="#fdf53c"/><rect x="3.5" y="2.5" width="2" height="1" fill="#fdd93a"/><rect x="5.5" y="2.5" width="2" height="1" fill="#fdbb33"/><rect x="7.5" y="2.5" width="7" height="1" fill="#fc9a30"/><rect x="-0.5" y="3.5" width="5" height="1" fill="#fdf53c"/><rect x="4.5" y="3.5" width="1" height="1" fill="#fdd93a"/><rect x="5.5" y="3.5" width="2" height="1" fill="#fdbb33"/><rect x="7.5" y="3.5" width="7" height="1" fill="#fc9a30"/><rect x="-0.5" y="4.5" width="4" height="1" fill="#fdf53c"/><rect x="3.5" y="4.5" width="3" height="1" fill="#fdd93a"/><rect x="6.5" y="4.5" width="2" height="1" fill="#fdbb33"/><rect x="8.5" y="4.5" width="6" height="1" fill="#fc9a30"/><rect x="-0.5" y="5.5" width="4" height="1" fill="#fdf53c"/><rect x="3.5" y="5.5" width="3" height="1" fill="#fdd93a"/><rect x="6.5" y="5.5" width="4" height="1" fill="#fdbb33"/><rect x="10.5" y="5.5" width="4" height="1" fill="#fc9a30"/><rect x="-0.5" y="6.5" width="4" height="1" fill="#fdf53c"/><rect x="3.5" y="6.5" width="3" height="1" fill="#fdd93a"/><rect x="6.5" y="6.5" width="4" height="1" fill="#fdbb33"/><rect x="10.5" y="6.5" width="4" height="1" fill="#fc9a30"/><rect x="-0.5" y="7.5" width="4" height="1" fill="#fdf53c"/><rect x="3.5" y="7.5" width="4" height="1" fill="#fdd93a"/><rect x="7.5" y="7.5" width="3" height="1" fill="#fdbb33"/><rect x="10.5" y="7.5" width="4" height="1" fill="#fc9a30"/><rect x="-0.5" y="8.5" width="4" height="1" fill="#fdf53c"/><rect x="3.5" y="8.5" width="4" height="1" fill="#fdd93a"/><rect x="7.5" y="8.5" width="2" height="1" fill="#fdbb33"/><rect x="9.5" y="8.5" width="4" height="1" fill="#fc9a30"/><rect x="13.5" y="8.5" width="1" height="1" fill="#fb6a2e"/><rect x="-0.5" y="9.5" width="4" height="1" fill="#fdf53c"/><rect x="3.5" y="9.5" width="4" height="1" fill="#fdd93a"/><rect x="7.5" y="9.5" width="2" height="1" fill="#fdbb33"/><rect x="9.5" y="9.5" width="4" height="1" fill="#fc9a30"/><rect x="13.5" y="9.5" width="1" height="1" fill="#fb6a2e"/><rect x="-0.5" y="10.5" width="4" height="1" fill="#fdf53c"/><rect x="3.5" y="10.5" width="4" height="1" fill="#fdd93a"/><rect x="7.5" y="10.5" width="2" height="1" fill="#fdbb33"/><rect x="9.5" y="10.5" width="3" height="1" fill="#fc9a30"/><rect x="12.5" y="10.5" width="2" height="1" fill="#fb6a2e"/><rect x="-0.5" y="11.5" width="4" height="1" fill="#fdf53c"/><rect x="3.5" y="11.5" width="4" height="1" fill="#fdd93a"/><rect x="7.5" y="11.5" width="2" height="1" fill="#fdbb33"/><rect x="9.5" y="11.5" width="3" height="1" fill="#fc9a30"/><rect x="12.5" y="11.5" width="2" height="1" fill="#fb6a2e"/><rect x="-0.5" y="12.5" width="5" height="1" fill="#fdf53c"/><rect x="4.5" y="12.5" width="3" height="1" fill="#fdd93a"/><rect x="7.5" y="12.5" width="2" height="1" fill="#fdbb33"/><rect x="9.5" y="12.5" width="3" height="1" fill="#fc9a30"/><rect x="12.5" y="12.5" width="2" height="1" fill="#fb6a2e"/><rect x="-0.5" y="13.5" width="5" height="1" fill="#fdf53c"/><rect x="4.5" y="13.5" width="3" height="1" fill="#fdd93a"/><rect x="7.5" y="13.5" width="2" height="1" fill="#fdbb33"/><rect x="9.5" y="13.5" width="2" height="1" fill="#fc9a30"/><rect x="11.5" y="13.5" width="3" height="1" fill="#fb6a2e"/><rect x="0" y="0" width="14" height="14" fill="none" stroke="#707060" stroke-width="0.7" vector-effect="non-scaling-stroke"/><path d="M0.283 0V0.360M0.283 14V13.640M1.098 0V0.206M1.098 14V13.794M1.913 0V0.206M1.913 14V13.794M2.727 0V0.360M2.727 14V13.640M3.542 0V0.206M3.542 14V13.794M4.357 0V0.206M4.357 14V13.794M5.171 0V0.360M5.171 14V13.640M5.986 0V0.206M5.986 14V13.794M6.801 0V0.206M6.801 14V13.794M7.615 0V0.360M7.615 14V13.640M8.430 0V0.206M8.430 14V13.794M9.245 0V0.206M9.245 14V13.794M10.059 0V0.360M10.059 14V13.640M10.874 0V0.206M10.874 14V13.794M11.689 0V0.206M11.689 14V13.794M12.503 0V0.360M12.503 14V13.640M13.318 0V0.206M13.318 14V13.794M0 0.093H0.374M14 0.093H13.626M0 1.163H0.214M14 1.163H13.786M0 2.234H0.214M14 2.234H13.786M0 3.304H0.214M14 3.304H13.786M0 4.375H0.374M14 4.375H13.626M0 5.446H0.214M14 5.446H13.786M0 6.516H0.214M14 6.516H13.786M0 7.587H0.214M14 7.587H13.786M0 8.657H0.374M14 8.657H13.626M0 9.728H0.214M14 9.728H13.786M0 10.799H0.214M14 10.799H13.786M0 11.869H0.214M14 11.869H13.786M0 12.940H0.374M14 12.940H13.626" stroke="#555548" stroke-width="0.6" fill="none" vector-effect="non-scaling-stroke"/></svg><svg class="p" style="left:142.00px;top:908.30px" width="132.40" height="136.00" viewBox="0 0 14 14" preserveAspectRatio="none" shape-rendering="crispEdges"><rect x="-0.5" y="-0.5" width="11" height="1" fill="#fdf53c"/><rect x="10.5" y="-0.5" width="4" height="1" fill="#fdd93a"/><rect x="-0.5" y="0.5" width="2" height="1" fill="#fdf53c"/><rect x="1.5" y="0.5" width="8" height="1" fill="#e5ec50"/><rect x="9.5" y="0.5" width="1" height="1" fill="#fdf53c"/><rect x="10.5" y="0.5" width="2" height="1" fill="#fdd93a"/><rect x="12.5" y="0.5" width="1" height="1" fill="#fdbb33"/><rect x="13.5" y="0.5" width="1" height="1" fill="#fdd93a"/><rect x="-0.5" y="1.5" width="3" height="1" fill="#fdf53c"/><rect x="2.5" y="1.5" width="8" height="1" fill="#e5ec50"/><rect x="10.5" y="1.5" width="2" height="1" fill="#fdd93a"/><rect x="12.5" y="1.5" width="1" height="1" fill="#fdbb33"/><rect x="13.5" y="1.5" width="1" height="1" fill="#fdd93a"/><rect x="-0.5" y="2.5" width="3" height="1" fill="#fdf53c"/><rect x="2.5" y="2.5" width="8" height="1" fill="#e5ec50"/><rect x="10.5" y="2.5" width="1" height="1" fill="#fdf53c"/><rect x="11.5" y="2.5" width="2" height="1" fill="#fdd93a"/><rect x="13.5" y="2.5" width="1" height="1" fill="#fdf53c"/><rect x="-0.5" y="3.5" width="3" height="1" fill="#fdf53c"/><rect x="2.5" y="3.5" width="8" height="1" fill="#e5ec50"/><rect x="10.5" y="3.5" width="4" height="1" fill="#fdf53c"/><rect x="-0.5" y="4.5" width="3" height="1" fill="#fdf53c"/><rect x="2.5" y="4.5" width="9" height="1" fill="#e5ec50"/><rect x="11.5" y="4.5" width="2" height="1" fill="#fdf53c"/><rect x="13.5" y="4.5" width="1" height="1" fill="#fdd93a"/><rect x="-0.5" y="5.5" width="3" height="1" fill="#fdf53c"/><rect x="2.5" y="5.5" width="9" height="1" fill="#e5ec50"/><rect x="11.5" y="5.5" width="2" height="1" fill="#fdf53c"/><rect x="13.5" y="5.5" width="1" height="1" fill="#fdd93a"/><rect x="-0.5" y="6.5" width="3" height="1" fill="#fdf53c"/><rect x="2.5" y="6.5" width="9" height="1" fill="#e5ec50"/><rect x="11.5" y="6.5" width="3" height="1" fill="#fdf53c"/><rect x="-0.5" y="7.5" width="3" height="1" fill="#fdf53c"/><rect x="2.5" y="7.5" width="8" height="1" fill="#e5ec50"/><rect x="10.5" y="7.5" width="3" height="1" fill="#fdf53c"/><rect x="13.5" y="7.5" width="1" height="1" fill="#fdd93a"/><rect x="-0.5" y="8.5" width="3" height="1" fill="#fdf53c"/><rect x="2.5" y="8.5" width="8" height="1" fill="#e5ec50"/><rect x="10.5" y="8.5" width="2" height="1" fill="#fdf53c"/><rect x="12.5" y="8.5" width="2" height="1" fill="#fdd93a"/><rect x="-0.5" y="9.5" width="3" height="1" fill="#fdf53c"/><rect x="2.5" y="9.5" width="7" height="1" fill="#e5ec50"/><rect x="9.5" y="9.5" width="3" height="1" fill="#fdf53c"/><rect x="12.5" y="9.5" width="2" height="1" fill="#fdd93a"/><rect x="-0.5" y="10.5" width="1" height="1" fill="#fdd93a"/><rect x="0.5" y="10.5" width="2" height="1" fill="#fdf53c"/><rect x="2.5" y="10.5" width="7" height="1" fill="#e5ec50"/><rect x="9.5" y="10.5" width="2" height="1" fill="#fdf53c"/><rect x="11.5" y="10.5" width="2" height="1" fill="#fdd93a"/><rect x="13.5" y="10.5" width="1" height="1" fill="#fdbb33"/><rect x="-0.5" y="11.5" width="1" height="1" fill="#fdd93a"/><rect x="0.5" y="11.5" width="2" height="1" fill="#fdf53c"/><rect x="2.5" y="11.5" width="7" height="1" fill="#e5ec50"/><rect x="9.5" y="11.5" width="2" height="1" fill="#fdf53c"/><rect x="11.5" y="11.5" width="2" height="1" fill="#fdd93a"/><rect x="13.5" y="11.5" width="1" height="1" fill="#fdbb33"/><rect x="-0.5" y="12.5" width="1" height="1" fill="#fdd93a"/><rect x="0.5" y="12.5" width="2" height="1" fill="#fdf53c"/><rect x="2.5" y="12.5" width="6" height="1" fill="#e5ec50"/><rect x="8.5" y="12.5" width="2" height="1" fill="#fdf53c"/><rect x="10.5" y="12.5" width="2" height="1" fill="#fdd93a"/><rect x="12.5" y="12.5" width="2" height="1" fill="#fdbb33"/><rect x="-0.5" y="13.5" width="1" height="1" fill="#fdd93a"/><rect x="0.5" y="13.5" width="2" height="1" fill="#fdf53c"/><rect x="2.5" y="13.5" width="6" height="1" fill="#e5ec50"/><rect x="8.5" y="13.5" width="2" height="1" fill="#fdf53c"/><rect x="10.5" y="13.5" width="2" height="1" fill="#fdd93a"/><rect x="12.5" y="13.5" width="1" height="1" fill="#fdbb33"/><rect x="13.5" y="13.5" width="1" height="1" fill="#fdd93a"/><rect x="0" y="0" width="14" height="14" fill="none" stroke="#707060" stroke-width="0.7" vector-effect="non-scaling-stroke"/><path d="M0.280 0V0.360M0.280 14V13.640M1.086 0V0.206M1.086 14V13.794M1.891 0V0.206M1.891 14V13.794M2.696 0V0.360M2.696 14V13.640M3.502 0V0.206M3.502 14V13.794M4.307 0V0.206M4.307 14V13.794M5.113 0V0.360M5.113 14V13.640M5.918 0V0.206M5.918 14V13.794M6.724 0V0.206M6.724 14V13.794M7.529 0V0.360M7.529 14V13.640M8.334 0V0.206M8.334 14V13.794M9.140 0V0.206M9.140 14V13.794M9.945 0V0.360M9.945 14V13.640M10.751 0V0.206M10.751 14V13.794M11.556 0V0.206M11.556 14V13.794M12.362 0V0.360M12.362 14V13.640M13.167 0V0.206M13.167 14V13.794M0 0.093H0.370M14 0.093H13.630M0 1.163H0.211M14 1.163H13.789M0 2.234H0.211M14 2.234H13.789M0 3.304H0.211M14 3.304H13.789M0 4.375H0.370M14 4.375H13.630M0 5.446H0.211M14 5.446H13.789M0 6.516H0.211M14 6.516H13.789M0 7.587H0.211M14 7.587H13.789M0 8.657H0.370M14 8.657H13.630M0 9.728H0.211M14 9.728H13.789M0 10.799H0.211M14 10.799H13.789M0 11.869H0.211M14 11.869H13.789M0 12.940H0.370M14 12.940H13.630" stroke="#555548" stroke-width="0.6" fill="none" vector-effect="non-scaling-stroke"/></svg><svg class="p" style="left:282.20px;top:907.10px" width="132.20" height="135.90" viewBox="0 0 14 14" preserveAspectRatio="none" shape-rendering="crispEdges"><rect x="-0.5" y="-0.5" width="11" height="1" fill="#e5ec50"/><rect x="10.5" y="-0.5" width="4" height="1" fill="#fdf53c"/><rect x="-0.5" y="0.5" width="11" height="1" fill="#e5ec50"/><rect x="10.5" y="0.5" width="4" height="1" fill="#fdf53c"/><rect x="-0.5" y="1.5" width="3" height="1" fill="#e5ec50"/><rect x="2.5" y="1.5" width="2" height="1" fill="#a3d445"/><rect x="4.5" y="1.5" width="4" height="1" fill="#e5ec50"/><rect x="8.5" y="1.5" width="1" height="1" fill="#a3d445"/><rect x="9.5" y="1.5" width="1" height="1" fill="#e5ec50"/><rect x="10.5" y="1.5" width="4" height="1" fill="#fdf53c"/><rect x="-0.5" y="2.5" width="13" height="1" fill="#a3d445"/><rect x="12.5" y="2.5" width="2" height="1" fill="#e5ec50"/><rect x="-0.5" y="3.5" width="1" height="1" fill="#e5ec50"/><rect x="0.5" y="3.5" width="4" height="1" fill="#a3d445"/><rect x="4.5" y="3.5" width="2" height="1" fill="#5bc54f"/><rect x="6.5" y="3.5" width="6" height="1" fill="#a3d445"/><rect x="12.5" y="3.5" width="1" height="1" fill="#e5ec50"/><rect x="13.5" y="3.5" width="1" height="1" fill="#a3d445"/><rect x="-0.5" y="4.5" width="1" height="1" fill="#e5ec50"/><rect x="0.5" y="4.5" width="5" height="1" fill="#a3d445"/><rect x="5.5" y="4.5" width="1" height="1" fill="#5bc54f"/><rect x="6.5" y="4.5" width="8" height="1" fill="#a3d445"/><rect x="-0.5" y="5.5" width="2" height="1" fill="#e5ec50"/><rect x="1.5" y="5.5" width="7" height="1" fill="#a3d445"/><rect x="8.5" y="5.5" width="4" height="1" fill="#5bc54f"/><rect x="12.5" y="5.5" width="2" height="1" fill="#a3d445"/><rect x="-0.5" y="6.5" width="1" height="1" fill="#fdf53c"/><rect x="0.5" y="6.5" width="2" height="1" fill="#e5ec50"/><rect x="2.5" y="6.5" width="5" height="1" fill="#a3d445"/><rect x="7.5" y="6.5" width="6" height="1" fill="#5bc54f"/><rect x="13.5" y="6.5" width="1" height="1" fill="#a3d445"/><rect x="-0.5" y="7.5" width="2" height="1" fill="#fdf53c"/><rect x="1.5" y="7.5" width="2" height="1" fill="#e5ec50"/><rect x="3.5" y="7.5" width="3" height="1" fill="#a3d445"/><rect x="6.5" y="7.5" width="7" height="1" fill="#5bc54f"/><rect x="13.5" y="7.5" width="1" height="1" fill="#a3d445"/><rect x="-0.5" y="8.5" width="2" height="1" fill="#fdf53c"/><rect x="1.5" y="8.5" width="3" height="1" fill="#e5ec50"/><rect x="4.5" y="8.5" width="2" height="1" fill="#a3d445"/><rect x="6.5" y="8.5" width="7" height="1" fill="#5bc54f"/><rect x="13.5" y="8.5" width="1" height="1" fill="#a3d445"/><rect x="-0.5" y="9.5" width="2" height="1" fill="#fdf53c"/><rect x="1.5" y="9.5" width="2" height="1" fill="#e5ec50"/><rect x="3.5" y="9.5" width="2" height="1" fill="#a3d445"/><rect x="5.5" y="9.5" width="8" height="1" fill="#5bc54f"/><rect x="13.5" y="9.5" width="1" height="1" fill="#a3d445"/><rect x="-0.5" y="10.5" width="2" height="1" fill="#fdf53c"/><rect x="1.5" y="10.5" width="2" height="1" fill="#e5ec50"/><rect x="3.5" y="10.5" width="2" height="1" fill="#a3d445"/><rect x="5.5" y="10.5" width="3" height="1" fill="#5bc54f"/><rect x="8.5" y="10.5" width="1" height="1" fill="#31ae4f"/><rect x="9.5" y="10.5" width="3" height="1" fill="#5bc54f"/><rect x="12.5" y="10.5" width="2" height="1" fill="#a3d445"/><rect x="-0.5" y="11.5" width="2" height="1" fill="#fdf53c"/><rect x="1.5" y="11.5" width="2" height="1" fill="#e5ec50"/><rect x="3.5" y="11.5" width="2" height="1" fill="#a3d445"/><rect x="5.5" y="11.5" width="3" height="1" fill="#5bc54f"/><rect x="8.5" y="11.5" width="1" height="1" fill="#31ae4f"/><rect x="9.5" y="11.5" width="3" height="1" fill="#5bc54f"/><rect x="12.5" y="11.5" width="2" height="1" fill="#a3d445"/><rect x="-0.5" y="12.5" width="2" height="1" fill="#fdf53c"/><rect x="1.5" y="12.5" width="1" height="1" fill="#e5ec50"/><rect x="2.5" y="12.5" width="2" height="1" fill="#a3d445"/><rect x="4.5" y="12.5" width="8" height="1" fill="#5bc54f"/><rect x="12.5" y="12.5" width="1" height="1" fill="#a3d445"/><rect x="13.5" y="12.5" width="1" height="1" fill="#e5ec50"/><rect x="-0.5" y="13.5" width="2" height="1" fill="#fdf53c"/><rect x="1.5" y="13.5" width="1" height="1" fill="#e5ec50"/><rect x="2.5" y="13.5" width="2" height="1" fill="#a3d445"/><rect x="4.5" y="13.5" width="7" height="1" fill="#5bc54f"/><rect x="11.5" y="13.5" width="1" height="1" fill="#e5ec50"/><rect x="12.5" y="13.5" width="1" height="1" fill="#a3d445"/><rect x="13.5" y="13.5" width="1" height="1" fill="#e5ec50"/><rect x="0" y="0" width="14" height="14" fill="none" stroke="#707060" stroke-width="0.7" vector-effect="non-scaling-stroke"/><path d="M0.281 0V0.361M0.281 14V13.639M1.087 0V0.206M1.087 14V13.794M1.894 0V0.206M1.894 14V13.794M2.701 0V0.361M2.701 14V13.639M3.507 0V0.206M3.507 14V13.794M4.314 0V0.206M4.314 14V13.794M5.120 0V0.361M5.120 14V13.639M5.927 0V0.206M5.927 14V13.794M6.734 0V0.206M6.734 14V13.794M7.540 0V0.361M7.540 14V13.639M8.347 0V0.206M8.347 14V13.794M9.154 0V0.206M9.154 14V13.794M9.960 0V0.361M9.960 14V13.639M10.767 0V0.206M10.767 14V13.794M11.574 0V0.206M11.574 14V13.794M12.380 0V0.361M12.380 14V13.639M13.187 0V0.206M13.187 14V13.794M0 0.093H0.371M14 0.093H13.629M0 1.164H0.212M14 1.164H13.788M0 2.235H0.212M14 2.235H13.788M0 3.307H0.212M14 3.307H13.788M0 4.378H0.371M14 4.378H13.629M0 5.450H0.212M14 5.450H13.788M0 6.521H0.212M14 6.521H13.788M0 7.592H0.212M14 7.592H13.788M0 8.664H0.371M14 8.664H13.629M0 9.735H0.212M14 9.735H13.788M0 10.806H0.212M14 10.806H13.788M0 11.878H0.212M14 11.878H13.788M0 12.949H0.371M14 12.949H13.629" stroke="#555548" stroke-width="0.6" fill="none" vector-effect="non-scaling-stroke"/></svg><svg class="p" style="left:420.30px;top:908.00px" width="132.40" height="136.00" viewBox="0 0 14 14" preserveAspectRatio="none" shape-rendering="crispEdges"><rect x="-0.5" y="-0.5" width="3" height="1" fill="#fdf53c"/><rect x="2.5" y="-0.5" width="3" height="1" fill="#fdbb33"/><rect x="5.5" y="-0.5" width="1" height="1" fill="#5bc54f"/><rect x="6.5" y="-0.5" width="3" height="1" fill="#2f4aa8"/><rect x="9.5" y="-0.5" width="1" height="1" fill="#5bc54f"/><rect x="10.5" y="-0.5" width="1" height="1" fill="#e5ec50"/><rect x="11.5" y="-0.5" width="2" height="1" fill="#fdf53c"/><rect x="13.5" y="-0.5" width="1" height="1" fill="#fdd93a"/><rect x="-0.5" y="0.5" width="3" height="1" fill="#fdf53c"/><rect x="2.5" y="0.5" width="3" height="1" fill="#fdbb33"/><rect x="5.5" y="0.5" width="1" height="1" fill="#e5ec50"/><rect x="6.5" y="0.5" width="3" height="1" fill="#31ae4f"/><rect x="9.5" y="0.5" width="1" height="1" fill="#a3d445"/><rect x="10.5" y="0.5" width="1" height="1" fill="#e5ec50"/><rect x="11.5" y="0.5" width="2" height="1" fill="#fdf53c"/><rect x="13.5" y="0.5" width="1" height="1" fill="#fdd93a"/><rect x="-0.5" y="1.5" width="5" height="1" fill="#fdf53c"/><rect x="4.5" y="1.5" width="1" height="1" fill="#e5ec50"/><rect x="5.5" y="1.5" width="1" height="1" fill="#5bc54f"/><rect x="6.5" y="1.5" width="4" height="1" fill="#31ae4f"/><rect x="10.5" y="1.5" width="1" height="1" fill="#a3d445"/><rect x="11.5" y="1.5" width="1" height="1" fill="#e5ec50"/><rect x="12.5" y="1.5" width="1" height="1" fill="#fdf53c"/><rect x="13.5" y="1.5" width="1" height="1" fill="#fdd93a"/><rect x="-0.5" y="2.5" width="1" height="1" fill="#fdf53c"/><rect x="0.5" y="2.5" width="4" height="1" fill="#e5ec50"/><rect x="4.5" y="2.5" width="1" height="1" fill="#a3d445"/><rect x="5.5" y="2.5" width="1" height="1" fill="#5bc54f"/><rect x="6.5" y="2.5" width="2" height="1" fill="#31ae4f"/><rect x="8.5" y="2.5" width="1" height="1" fill="#267870"/><rect x="9.5" y="2.5" width="1" height="1" fill="#31ae4f"/><rect x="10.5" y="2.5" width="1" height="1" fill="#a3d445"/><rect x="11.5" y="2.5" width="1" height="1" fill="#e5ec50"/><rect x="12.5" y="2.5" width="1" height="1" fill="#fdf53c"/><rect x="13.5" y="2.5" width="1" height="1" fill="#fdd93a"/><rect x="-0.5" y="3.5" width="1" height="1" fill="#fdf53c"/><rect x="0.5" y="3.5" width="2" height="1" fill="#e5ec50"/><rect x="2.5" y="3.5" width="2" height="1" fill="#a3d445"/><rect x="4.5" y="3.5" width="1" height="1" fill="#5bc54f"/><rect x="5.5" y="3.5" width="5" height="1" fill="#31ae4f"/><rect x="10.5" y="3.5" width="1" height="1" fill="#5bc54f"/><rect x="11.5" y="3.5" width="1" height="1" fill="#e5ec50"/><rect x="12.5" y="3.5" width="1" height="1" fill="#fdf53c"/><rect x="13.5" y="3.5" width="1" height="1" fill="#fdd93a"/><rect x="-0.5" y="4.5" width="1" height="1" fill="#fdf53c"/><rect x="0.5" y="4.5" width="1" height="1" fill="#e5ec50"/><rect x="1.5" y="4.5" width="1" height="1" fill="#fdf53c"/><rect x="2.5" y="4.5" width="2" height="1" fill="#e5ec50"/><rect x="4.5" y="4.5" width="1" height="1" fill="#5bc54f"/><rect x="5.5" y="4.5" width="5" height="1" fill="#31ae4f"/><rect x="10.5" y="4.5" width="1" height="1" fill="#5bc54f"/><rect x="11.5" y="4.5" width="1" height="1" fill="#a3d445"/><rect x="12.5" y="4.5" width="1" height="1" fill="#e5ec50"/><rect x="13.5" y="4.5" width="1" height="1" fill="#fdf53c"/><rect x="-0.5" y="5.5" width="1" height="1" fill="#fdf53c"/><rect x="0.5" y="5.5" width="1" height="1" fill="#e5ec50"/><rect x="1.5" y="5.5" width="2" height="1" fill="#fdf53c"/><rect x="3.5" y="5.5" width="1" height="1" fill="#e5ec50"/><rect x="4.5" y="5.5" width="1" height="1" fill="#a3d445"/><rect x="5.5" y="5.5" width="3" height="1" fill="#5bc54f"/><rect x="8.5" y="5.5" width="3" height="1" fill="#31ae4f"/><rect x="11.5" y="5.5" width="2" height="1" fill="#a3d445"/><rect x="13.5" y="5.5" width="1" height="1" fill="#fdf53c"/><rect x="-0.5" y="6.5" width="1" height="1" fill="#fdf53c"/><rect x="0.5" y="6.5" width="1" height="1" fill="#e5ec50"/><rect x="1.5" y="6.5" width="3" height="1" fill="#fdf53c"/><rect x="4.5" y="6.5" width="1" height="1" fill="#e5ec50"/><rect x="5.5" y="6.5" width="2" height="1" fill="#5bc54f"/><rect x="7.5" y="6.5" width="4" height="1" fill="#31ae4f"/><rect x="11.5" y="6.5" width="1" height="1" fill="#5bc54f"/><rect x="12.5" y="6.5" width="1" height="1" fill="#a3d445"/><rect x="13.5" y="6.5" width="1" height="1" fill="#e5ec50"/><rect x="-0.5" y="7.5" width="1" height="1" fill="#fdf53c"/><rect x="0.5" y="7.5" width="1" height="1" fill="#e5ec50"/><rect x="1.5" y="7.5" width="1" height="1" fill="#fdf53c"/><rect x="2.5" y="7.5" width="2" height="1" fill="#e5ec50"/><rect x="4.5" y="7.5" width="2" height="1" fill="#a3d445"/><rect x="6.5" y="7.5" width="1" height="1" fill="#5bc54f"/><rect x="7.5" y="7.5" width="2" height="1" fill="#31ae4f"/><rect x="9.5" y="7.5" width="1" height="1" fill="#267870"/><rect x="10.5" y="7.5" width="2" height="1" fill="#2f4aa8"/><rect x="12.5" y="7.5" width="1" height="1" fill="#5bc54f"/><rect x="13.5" y="7.5" width="1" height="1" fill="#a3d445"/><rect x="-0.5" y="8.5" width="2" height="1" fill="#e5ec50"/><rect x="1.5" y="8.5" width="2" height="1" fill="#fdf53c"/><rect x="3.5" y="8.5" width="1" height="1" fill="#e5ec50"/><rect x="4.5" y="8.5" width="2" height="1" fill="#a3d445"/><rect x="6.5" y="8.5" width="1" height="1" fill="#5bc54f"/><rect x="7.5" y="8.5" width="2" height="1" fill="#31ae4f"/><rect x="9.5" y="8.5" width="3" height="1" fill="#267870"/><rect x="12.5" y="8.5" width="1" height="1" fill="#5bc54f"/><rect x="13.5" y="8.5" width="1" height="1" fill="#a3d445"/><rect x="-0.5" y="9.5" width="2" height="1" fill="#e5ec50"/><rect x="1.5" y="9.5" width="1" height="1" fill="#fdf53c"/><rect x="2.5" y="9.5" width="2" height="1" fill="#e5ec50"/><rect x="4.5" y="9.5" width="2" height="1" fill="#a3d445"/><rect x="6.5" y="9.5" width="1" height="1" fill="#5bc54f"/><rect x="7.5" y="9.5" width="1" height="1" fill="#31ae4f"/><rect x="8.5" y="9.5" width="2" height="1" fill="#267870"/><rect x="10.5" y="9.5" width="1" height="1" fill="#31ae4f"/><rect x="11.5" y="9.5" width="1" height="1" fill="#5bc54f"/><rect x="12.5" y="9.5" width="1" height="1" fill="#a3d445"/><rect x="13.5" y="9.5" width="1" height="1" fill="#e5ec50"/><rect x="-0.5" y="10.5" width="2" height="1" fill="#e5ec50"/><rect x="1.5" y="10.5" width="1" height="1" fill="#fdf53c"/><rect x="2.5" y="10.5" width="2" height="1" fill="#e5ec50"/><rect x="4.5" y="10.5" width="2" height="1" fill="#a3d445"/><rect x="6.5" y="10.5" width="1" height="1" fill="#5bc54f"/><rect x="7.5" y="10.5" width="4" height="1" fill="#31ae4f"/><rect x="11.5" y="10.5" width="1" height="1" fill="#5bc54f"/><rect x="12.5" y="10.5" width="1" height="1" fill="#a3d445"/><rect x="13.5" y="10.5" width="1" height="1" fill="#e5ec50"/><rect x="-0.5" y="11.5" width="5" height="1" fill="#e5ec50"/><rect x="4.5" y="11.5" width="2" height="1" fill="#a3d445"/><rect x="6.5" y="11.5" width="1" height="1" fill="#5bc54f"/><rect x="7.5" y="11.5" width="3" height="1" fill="#31ae4f"/><rect x="10.5" y="11.5" width="1" height="1" fill="#5bc54f"/><rect x="11.5" y="11.5" width="1" height="1" fill="#a3d445"/><rect x="12.5" y="11.5" width="1" height="1" fill="#e5ec50"/><rect x="13.5" y="11.5" width="1" height="1" fill="#fdf53c"/><rect x="-0.5" y="12.5" width="5" height="1" fill="#e5ec50"/><rect x="4.5" y="12.5" width="2" height="1" fill="#a3d445"/><rect x="6.5" y="12.5" width="1" height="1" fill="#5bc54f"/><rect x="7.5" y="12.5" width="3" height="1" fill="#31ae4f"/><rect x="10.5" y="12.5" width="1" height="1" fill="#5bc54f"/><rect x="11.5" y="12.5" width="1" height="1" fill="#a3d445"/><rect x="12.5" y="12.5" width="1" height="1" fill="#e5ec50"/><rect x="13.5" y="12.5" width="1" height="1" fill="#fdf53c"/><rect x="-0.5" y="13.5" width="1" height="1" fill="#fdf53c"/><rect x="0.5" y="13.5" width="4" height="1" fill="#e5ec50"/><rect x="4.5" y="13.5" width="1" height="1" fill="#a3d445"/><rect x="5.5" y="13.5" width="1" height="1" fill="#5bc54f"/><rect x="6.5" y="13.5" width="4" height="1" fill="#31ae4f"/><rect x="10.5" y="13.5" width="1" height="1" fill="#5bc54f"/><rect x="11.5" y="13.5" width="1" height="1" fill="#a3d445"/><rect x="12.5" y="13.5" width="2" height="1" fill="#e5ec50"/><rect x="0" y="0" width="14" height="14" fill="none" stroke="#707060" stroke-width="0.7" vector-effect="non-scaling-stroke"/><path d="M0.280 0V0.360M0.280 14V13.640M1.086 0V0.206M1.086 14V13.794M1.891 0V0.206M1.891 14V13.794M2.696 0V0.360M2.696 14V13.640M3.502 0V0.206M3.502 14V13.794M4.307 0V0.206M4.307 14V13.794M5.113 0V0.360M5.113 14V13.640M5.918 0V0.206M5.918 14V13.794M6.724 0V0.206M6.724 14V13.794M7.529 0V0.360M7.529 14V13.640M8.334 0V0.206M8.334 14V13.794M9.140 0V0.206M9.140 14V13.794M9.945 0V0.360M9.945 14V13.640M10.751 0V0.206M10.751 14V13.794M11.556 0V0.206M11.556 14V13.794M12.362 0V0.360M12.362 14V13.640M13.167 0V0.206M13.167 14V13.794M0 0.093H0.370M14 0.093H13.630M0 1.163H0.211M14 1.163H13.789M0 2.234H0.211M14 2.234H13.789M0 3.304H0.211M14 3.304H13.789M0 4.375H0.370M14 4.375H13.630M0 5.446H0.211M14 5.446H13.789M0 6.516H0.211M14 6.516H13.789M0 7.587H0.211M14 7.587H13.789M0 8.657H0.370M14 8.657H13.630M0 9.728H0.211M14 9.728H13.789M0 10.799H0.211M14 10.799H13.789M0 11.869H0.211M14 11.869H13.789M0 12.940H0.370M14 12.940H13.630" stroke="#555548" stroke-width="0.6" fill="none" vector-effect="non-scaling-stroke"/></svg><svg class="p" style="left:558.60px;top:908.00px" width="132.30" height="135.90" viewBox="0 0 14 14" preserveAspectRatio="none" shape-rendering="crispEdges"><rect x="-0.5" y="-0.5" width="1" height="1" fill="#e5ec50"/><rect x="0.5" y="-0.5" width="4" height="1" fill="#fdd93a"/><rect x="4.5" y="-0.5" width="5" height="1" fill="#fdf53c"/><rect x="9.5" y="-0.5" width="1" height="1" fill="#fdd93a"/><rect x="10.5" y="-0.5" width="1" height="1" fill="#fdbb33"/><rect x="11.5" y="-0.5" width="2" height="1" fill="#fc9a30"/><rect x="13.5" y="-0.5" width="1" height="1" fill="#fdd93a"/><rect x="-0.5" y="0.5" width="1" height="1" fill="#e5ec50"/><rect x="0.5" y="0.5" width="9" height="1" fill="#fdf53c"/><rect x="9.5" y="0.5" width="1" height="1" fill="#fdd93a"/><rect x="10.5" y="0.5" width="2" height="1" fill="#fdbb33"/><rect x="12.5" y="0.5" width="1" height="1" fill="#fdd93a"/><rect x="13.5" y="0.5" width="1" height="1" fill="#fdf53c"/><rect x="-0.5" y="1.5" width="1" height="1" fill="#e5ec50"/><rect x="0.5" y="1.5" width="9" height="1" fill="#fdf53c"/><rect x="9.5" y="1.5" width="1" height="1" fill="#fdd93a"/><rect x="10.5" y="1.5" width="2" height="1" fill="#fdbb33"/><rect x="12.5" y="1.5" width="1" height="1" fill="#fdd93a"/><rect x="13.5" y="1.5" width="1" height="1" fill="#fdf53c"/><rect x="-0.5" y="2.5" width="2" height="1" fill="#e5ec50"/><rect x="1.5" y="2.5" width="3" height="1" fill="#fdf53c"/><rect x="4.5" y="2.5" width="1" height="1" fill="#e5ec50"/><rect x="5.5" y="2.5" width="3" height="1" fill="#fdf53c"/><rect x="8.5" y="2.5" width="5" height="1" fill="#fdd93a"/><rect x="13.5" y="2.5" width="1" height="1" fill="#fdf53c"/><rect x="-0.5" y="3.5" width="2" height="1" fill="#e5ec50"/><rect x="1.5" y="3.5" width="2" height="1" fill="#a3d445"/><rect x="3.5" y="3.5" width="1" height="1" fill="#e5ec50"/><rect x="4.5" y="3.5" width="2" height="1" fill="#a3d445"/><rect x="6.5" y="3.5" width="2" height="1" fill="#fdf53c"/><rect x="8.5" y="3.5" width="5" height="1" fill="#fdd93a"/><rect x="13.5" y="3.5" width="1" height="1" fill="#fdf53c"/><rect x="-0.5" y="4.5" width="8" height="1" fill="#e5ec50"/><rect x="7.5" y="4.5" width="1" height="1" fill="#fdf53c"/><rect x="8.5" y="4.5" width="4" height="1" fill="#fdd93a"/><rect x="12.5" y="4.5" width="2" height="1" fill="#fdf53c"/><rect x="-0.5" y="5.5" width="3" height="1" fill="#fdf53c"/><rect x="2.5" y="5.5" width="4" height="1" fill="#e5ec50"/><rect x="6.5" y="5.5" width="2" height="1" fill="#fdf53c"/><rect x="8.5" y="5.5" width="1" height="1" fill="#fdd93a"/><rect x="9.5" y="5.5" width="5" height="1" fill="#fdf53c"/><rect x="-0.5" y="6.5" width="1" height="1" fill="#fdd93a"/><rect x="0.5" y="6.5" width="2" height="1" fill="#fdf53c"/><rect x="2.5" y="6.5" width="3" height="1" fill="#e5ec50"/><rect x="5.5" y="6.5" width="9" height="1" fill="#fdf53c"/><rect x="-0.5" y="7.5" width="3" height="1" fill="#fdd93a"/><rect x="2.5" y="7.5" width="1" height="1" fill="#fdf53c"/><rect x="3.5" y="7.5" width="2" height="1" fill="#e5ec50"/><rect x="5.5" y="7.5" width="9" height="1" fill="#fdf53c"/><rect x="-0.5" y="8.5" width="2" height="1" fill="#fdd93a"/><rect x="1.5" y="8.5" width="5" height="1" fill="#fdf53c"/><rect x="6.5" y="8.5" width="2" height="1" fill="#e5ec50"/><rect x="8.5" y="8.5" width="6" height="1" fill="#fdf53c"/><rect x="-0.5" y="9.5" width="5" height="1" fill="#fdf53c"/><rect x="4.5" y="9.5" width="4" height="1" fill="#e5ec50"/><rect x="8.5" y="9.5" width="5" height="1" fill="#fdf53c"/><rect x="13.5" y="9.5" width="1" height="1" fill="#fdd93a"/><rect x="-0.5" y="10.5" width="2" height="1" fill="#fdf53c"/><rect x="1.5" y="10.5" width="8" height="1" fill="#e5ec50"/><rect x="9.5" y="10.5" width="2" height="1" fill="#fdf53c"/><rect x="11.5" y="10.5" width="2" height="1" fill="#fdd93a"/><rect x="13.5" y="10.5" width="1" height="1" fill="#fdbb33"/><rect x="-0.5" y="11.5" width="1" height="1" fill="#fdf53c"/><rect x="0.5" y="11.5" width="4" height="1" fill="#e5ec50"/><rect x="4.5" y="11.5" width="2" height="1" fill="#a3d445"/><rect x="6.5" y="11.5" width="3" height="1" fill="#e5ec50"/><rect x="9.5" y="11.5" width="1" height="1" fill="#fdf53c"/><rect x="10.5" y="11.5" width="2" height="1" fill="#fdd93a"/><rect x="12.5" y="11.5" width="2" height="1" fill="#fdbb33"/><rect x="-0.5" y="12.5" width="1" height="1" fill="#fdf53c"/><rect x="0.5" y="12.5" width="2" height="1" fill="#e5ec50"/><rect x="2.5" y="12.5" width="5" height="1" fill="#a3d445"/><rect x="7.5" y="12.5" width="2" height="1" fill="#e5ec50"/><rect x="9.5" y="12.5" width="1" height="1" fill="#fdf53c"/><rect x="10.5" y="12.5" width="1" height="1" fill="#fdd93a"/><rect x="11.5" y="12.5" width="2" height="1" fill="#fdbb33"/><rect x="13.5" y="12.5" width="1" height="1" fill="#fc9a30"/><rect x="-0.5" y="13.5" width="2" height="1" fill="#fdf53c"/><rect x="1.5" y="13.5" width="6" height="1" fill="#a3d445"/><rect x="7.5" y="13.5" width="2" height="1" fill="#e5ec50"/><rect x="9.5" y="13.5" width="1" height="1" fill="#fdf53c"/><rect x="10.5" y="13.5" width="1" height="1" fill="#fdd93a"/><rect x="11.5" y="13.5" width="2" height="1" fill="#fdbb33"/><rect x="13.5" y="13.5" width="1" height="1" fill="#fc9a30"/><rect x="0" y="0" width="14" height="14" fill="none" stroke="#707060" stroke-width="0.7" vector-effect="non-scaling-stroke"/><path d="M0.280 0V0.361M0.280 14V13.639M1.086 0V0.206M1.086 14V13.794M1.892 0V0.206M1.892 14V13.794M2.699 0V0.361M2.699 14V13.639M3.505 0V0.206M3.505 14V13.794M4.311 0V0.206M4.311 14V13.794M5.117 0V0.361M5.117 14V13.639M5.923 0V0.206M5.923 14V13.794M6.729 0V0.206M6.729 14V13.794M7.535 0V0.361M7.535 14V13.639M8.341 0V0.206M8.341 14V13.794M9.147 0V0.206M9.147 14V13.794M9.953 0V0.361M9.953 14V13.639M10.759 0V0.206M10.759 14V13.794M11.565 0V0.206M11.565 14V13.794M12.371 0V0.361M12.371 14V13.639M13.177 0V0.206M13.177 14V13.794M0 0.093H0.370M14 0.093H13.630M0 1.164H0.212M14 1.164H13.788M0 2.235H0.212M14 2.235H13.788M0 3.307H0.212M14 3.307H13.788M0 4.378H0.370M14 4.378H13.630M0 5.450H0.212M14 5.450H13.788M0 6.521H0.212M14 6.521H13.788M0 7.592H0.212M14 7.592H13.788M0 8.664H0.370M14 8.664H13.630M0 9.735H0.212M14 9.735H13.788M0 10.806H0.212M14 10.806H13.788M0 11.878H0.212M14 11.878H13.788M0 12.949H0.370M14 12.949H13.630" stroke="#555548" stroke-width="0.6" fill="none" vector-effect="non-scaling-stroke"/></svg>
<div class="cb" style="left:9.8px;top:302.5px;width:412.9px;height:39.1px"><div style="width:51.612px;background:#4457ad"></div><div style="width:51.612px;background:#21805f"></div><div style="width:51.612px;background:#80cb4a"></div><div style="width:51.612px;background:#fef73c"></div><div style="width:51.612px;background:#feb72f"></div><div style="width:51.612px;background:#fc582e"></div><div style="width:51.612px;background:#d2283c"></div><div style="width:51.612px;background:#5e2f8e"></div></div><div class="cb" style="left:9.8px;top:681.4px;width:412.9px;height:38.6px"><div style="width:51.612px;background:#4457ad"></div><div style="width:51.612px;background:#21805f"></div><div style="width:51.612px;background:#80cb4a"></div><div style="width:51.612px;background:#fef73c"></div><div style="width:51.612px;background:#feb72f"></div><div style="width:51.612px;background:#fc582e"></div><div style="width:51.612px;background:#d2283c"></div><div style="width:51.612px;background:#5e2f8e"></div></div><div class="cb" style="left:10.2px;top:1059.8px;width:413.4px;height:39.6px"><div style="width:24.318px;background:#3f55ad"></div><div style="width:24.318px;background:#2f4aa8"></div><div style="width:24.318px;background:#267870"></div><div style="width:24.318px;background:#31ae4f"></div><div style="width:24.318px;background:#5bc54f"></div><div style="width:24.318px;background:#a3d445"></div><div style="width:24.318px;background:#e5ec50"></div><div style="width:24.318px;background:#fdf53c"></div><div style="width:24.318px;background:#fdd93a"></div><div style="width:24.318px;background:#fdbb33"></div><div style="width:24.318px;background:#fc9a30"></div><div style="width:24.318px;background:#fb6a2e"></div><div style="width:24.318px;background:#f93f2e"></div><div style="width:24.318px;background:#ee2a2e"></div><div style="width:24.318px;background:#c82a45"></div><div style="width:24.318px;background:#92226a"></div><div style="width:24.318px;background:#5a3090"></div></div>
</div>
<div id="twrap"><svg id="tx" width="902" height="1136" viewBox="0 0 902 1136"><text x="28.6" y="30.8" font-size="21.5" font-weight="bold" textLength="118.6" lengthAdjust="spacingAndGlyphs" class="big">UAV 1000 m</text><text x="161.3" y="30.8" font-size="21.5" font-weight="bold" textLength="39.4" lengthAdjust="spacingAndGlyphs" class="big">UAV</text><text x="213.2" y="30.8" font-size="21.5" font-weight="bold" textLength="54.0" lengthAdjust="spacingAndGlyphs" class="big">500m</text><text x="300.8" y="30.8" font-size="21.5" font-weight="bold" textLength="39.9" lengthAdjust="spacingAndGlyphs" class="big">UAV</text><text x="353.2" y="30.8" font-size="21.5" font-weight="bold" textLength="59.8" lengthAdjust="spacingAndGlyphs" class="big">200 m</text><text x="300.8" y="59.9" font-size="21.5" font-weight="bold" textLength="69.0" lengthAdjust="spacingAndGlyphs" class="big">default</text><text x="436.6" y="30.8" font-size="21.5" font-weight="bold" textLength="81.5" lengthAdjust="spacingAndGlyphs" class="big">UAV FP2</text><text x="28.3" y="178.2" font-size="21.5" font-weight="bold" textLength="116.4" lengthAdjust="spacingAndGlyphs" class="big">Grand Truth</text><text x="28.6" y="208.2" font-size="21.5" font-weight="bold" textLength="71.2" lengthAdjust="spacingAndGlyphs" class="big">1000 m</text><text x="163.3" y="177.9" font-size="21.5" font-weight="bold" textLength="116.4" lengthAdjust="spacingAndGlyphs" class="big">Grand Truth</text><text x="165.8" y="207.4" font-size="21.5" font-weight="bold" textLength="59.8" lengthAdjust="spacingAndGlyphs" class="big">500 m</text><text x="297.5" y="177.9" font-size="21.5" font-weight="bold" textLength="117.2" lengthAdjust="spacingAndGlyphs" class="big">Grand Truth</text><text x="296.6" y="207.4" font-size="21.5" font-weight="bold" textLength="59.1" lengthAdjust="spacingAndGlyphs" class="big">200 m</text><text x="438.6" y="178.2" font-size="21.5" font-weight="bold" textLength="57.1" lengthAdjust="spacingAndGlyphs" class="big">UAV v</text><text x="496.8" y="184.0" font-size="15" font-weight="bold" textLength="24.2" lengthAdjust="spacingAndGlyphs">min</text><text x="570.8" y="178.2" font-size="21.5" font-weight="bold" textLength="58.2" lengthAdjust="spacingAndGlyphs" class="big">UAV v</text><text x="629.5" y="184.0" font-size="15" font-weight="bold" textLength="27.0" lengthAdjust="spacingAndGlyphs">max</text><text x="41.2" y="365.5" font-size="16" font-weight="bold">0.03</text><text x="87.1" y="365.5" font-size="16" font-weight="bold">0.035</text><text x="144.5" y="365.5" font-size="16" font-weight="bold">0.04</text><text x="192.4" y="365.5" font-size="16" font-weight="bold">0.045</text><text x="245.8" y="365.5" font-size="16" font-weight="bold">0.05</text><text x="297.1" y="365.5" font-size="16" font-weight="bold">0.055</text><text x="351.1" y="365.5" font-size="16" font-weight="bold">0.06</text><text x="442.2" y="362.0" font-size="16" font-weight="bold">ppm</text><text x="483.7" y="328.2" font-size="16.6" font-weight="bold" textLength="120.3" lengthAdjust="spacingAndGlyphs">Ozone 2009/8/5</text><text x="21.6" y="414.9" font-size="21.5" font-weight="bold" textLength="118.1" lengthAdjust="spacingAndGlyphs" class="big">UAV 1000 m</text><text x="153.8" y="414.9" font-size="21.5" font-weight="bold" textLength="39.1" lengthAdjust="spacingAndGlyphs" class="big">UAV</text><text x="206.2" y="414.9" font-size="21.5" font-weight="bold" textLength="54.0" lengthAdjust="spacingAndGlyphs" class="big">500m</text><text x="294.1" y="414.9" font-size="21.5" font-weight="bold" textLength="39.1" lengthAdjust="spacingAndGlyphs" class="big">UAV</text><text x="346.8" y="414.9" font-size="21.5" font-weight="bold" textLength="59.6" lengthAdjust="spacingAndGlyphs" class="big">200 m</text><text x="293.6" y="444.0" font-size="21.5" font-weight="bold" textLength="68.7" lengthAdjust="spacingAndGlyphs" class="big">default</text><text x="429.5" y="414.9" font-size="21.5" font-weight="bold" textLength="81.5" lengthAdjust="spacingAndGlyphs" class="big">UAV FP2</text><text x="566.6" y="414.9" font-size="21.5" font-weight="bold" textLength="80.7" lengthAdjust="spacingAndGlyphs" class="big">UAV FP3</text><text x="21.3" y="562.4" font-size="21.5" font-weight="bold" textLength="116.7" lengthAdjust="spacingAndGlyphs" class="big">Grand Truth</text><text x="21.6" y="591.8" font-size="21.5" font-weight="bold" textLength="71.2" lengthAdjust="spacingAndGlyphs" class="big">1000 m</text><text x="156.3" y="562.4" font-size="21.5" font-weight="bold" textLength="116.7" lengthAdjust="spacingAndGlyphs" class="big">Grand Truth</text><text x="158.8" y="591.8" font-size="21.5" font-weight="bold" textLength="59.4" lengthAdjust="spacingAndGlyphs" class="big">500 m</text><text x="290.8" y="562.4" font-size="21.5" font-weight="bold" textLength="117.2" lengthAdjust="spacingAndGlyphs" class="big">Grand Truth</text><text x="289.6" y="591.8" font-size="21.5" font-weight="bold" textLength="58.9" lengthAdjust="spacingAndGlyphs" class="big">200 m</text><text x="431.6" y="562.4" font-size="21.5" font-weight="bold" textLength="57.2" lengthAdjust="spacingAndGlyphs" class="big">UAV v</text><text x="489.8" y="568.6" font-size="15" font-weight="bold" textLength="24.0" lengthAdjust="spacingAndGlyphs">min</text><text x="564.1" y="562.4" font-size="21.5" font-weight="bold" textLength="55.7" lengthAdjust="spacingAndGlyphs" class="big">UAV v</text><text x="621.8" y="568.6" font-size="15" font-weight="bold" textLength="27.7" lengthAdjust="spacingAndGlyphs">max</text><text x="24.6" y="791.9" font-size="21.5" font-weight="bold" textLength="118.1" lengthAdjust="spacingAndGlyphs" class="big">UAV 1000 m</text><text x="156.3" y="791.9" font-size="21.5" font-weight="bold" textLength="39.4" lengthAdjust="spacingAndGlyphs" class="big">UAV</text><text x="209.0" y="791.9" font-size="21.5" font-weight="bold" textLength="53.7" lengthAdjust="spacingAndGlyphs" class="big">500m</text><text x="296.3" y="791.9" font-size="21.5" font-weight="bold" textLength="39.4" lengthAdjust="spacingAndGlyphs" class="big">UAV</text><text x="349.5" y="791.9" font-size="21.5" font-weight="bold" textLength="59.4" lengthAdjust="spacingAndGlyphs" class="big">200 m</text><text x="295.8" y="821.5" font-size="21.5" font-weight="bold" textLength="69.0" lengthAdjust="spacingAndGlyphs" class="big">default</text><text x="432.5" y="791.9" font-size="21.5" font-weight="bold" textLength="81.5" lengthAdjust="spacingAndGlyphs" class="big">UAV FP2</text><text x="569.1" y="791.9" font-size="21.5" font-weight="bold" textLength="81.5" lengthAdjust="spacingAndGlyphs" class="big">UAV FP3</text><text x="24.1" y="939.2" font-size="21.5" font-weight="bold" textLength="116.9" lengthAdjust="spacingAndGlyphs" class="big">Grand Truth</text><text x="24.6" y="969.2" font-size="21.5" font-weight="bold" textLength="71.0" lengthAdjust="spacingAndGlyphs" class="big">1000 m</text><text x="158.6" y="939.2" font-size="21.5" font-weight="bold" textLength="116.9" lengthAdjust="spacingAndGlyphs" class="big">Grand Truth</text><text x="161.3" y="969.2" font-size="21.5" font-weight="bold" textLength="59.8" lengthAdjust="spacingAndGlyphs" class="big">500 m</text><text x="293.6" y="939.2" font-size="21.5" font-weight="bold" textLength="116.9" lengthAdjust="spacingAndGlyphs" class="big">Grand Truth</text><text x="291.6" y="969.2" font-size="21.5" font-weight="bold" textLength="59.9" lengthAdjust="spacingAndGlyphs" class="big">200 m</text><text x="434.1" y="939.2" font-size="21.5" font-weight="bold" textLength="56.6" lengthAdjust="spacingAndGlyphs" class="big">UAV v</text><text x="491.8" y="945.9" font-size="15" font-weight="bold" textLength="25.0" lengthAdjust="spacingAndGlyphs">min</text><text x="566.3" y="939.2" font-size="21.5" font-weight="bold" textLength="57.7" lengthAdjust="spacingAndGlyphs" class="big">UAV v</text><text x="624.8" y="945.9" font-size="15" font-weight="bold" textLength="27.0" lengthAdjust="spacingAndGlyphs">max</text><text x="41.2" y="743.7" font-size="16" font-weight="bold">0.03</text><text x="87.1" y="743.7" font-size="16" font-weight="bold">0.035</text><text x="144.5" y="743.7" font-size="16" font-weight="bold">0.04</text><text x="192.4" y="743.7" font-size="16" font-weight="bold">0.045</text><text x="245.8" y="743.7" font-size="16" font-weight="bold">0.05</text><text x="297.1" y="743.7" font-size="16" font-weight="bold">0.055</text><text x="351.1" y="743.7" font-size="16" font-weight="bold">0.06</text><text x="442.2" y="740.2" font-size="16" font-weight="bold">ppm</text><text x="483.7" y="707.1" font-size="16.6" font-weight="bold" textLength="120.3" lengthAdjust="spacingAndGlyphs">Ozone 2009/8/6</text><text x="23.0" y="1118.6" font-size="9.6" font-weight="bold">0.03</text><text x="45.5" y="1118.6" font-size="9.6" font-weight="bold">0.032</text><text x="70.0" y="1118.6" font-size="9.6" font-weight="bold">0.034</text><text x="94.8" y="1118.6" font-size="9.6" font-weight="bold">0.036</text><text x="119.6" y="1118.6" font-size="9.6" font-weight="bold">0.038</text><text x="149.5" y="1118.6" font-size="9.6" font-weight="bold">0 4</text><text x="171.5" y="1118.6" font-size="9.6" font-weight="bold">0.42</text><text x="195.6" y="1118.6" font-size="9.6" font-weight="bold">0.44</text><text x="220.0" y="1118.6" font-size="9.6" font-weight="bold">0.46</text><text x="243.3" y="1118.6" font-size="9.6" font-weight="bold">0.48</text><text x="266.6" y="1118.6" font-size="9.6" font-weight="bold">0.05</text><text x="287.9" y="1118.6" font-size="9.6" font-weight="bold">0.052</text><text x="312.8" y="1118.6" font-size="9.6" font-weight="bold">0.054</text><text x="339.4" y="1118.6" font-size="9.6" font-weight="bold">0.056</text><text x="365.5" y="1118.6" font-size="9.6" font-weight="bold">0.058</text><text x="395.0" y="1118.6" font-size="9.6" font-weight="bold">0.06</text><text x="440.7" y="1120.4" font-size="16" font-weight="bold">ppm</text><text x="483.4" y="1085.2" font-size="16.6" font-weight="bold" textLength="120.3" lengthAdjust="spacingAndGlyphs">Ozone 2009/8/7</text></svg></div>
</body></html>
